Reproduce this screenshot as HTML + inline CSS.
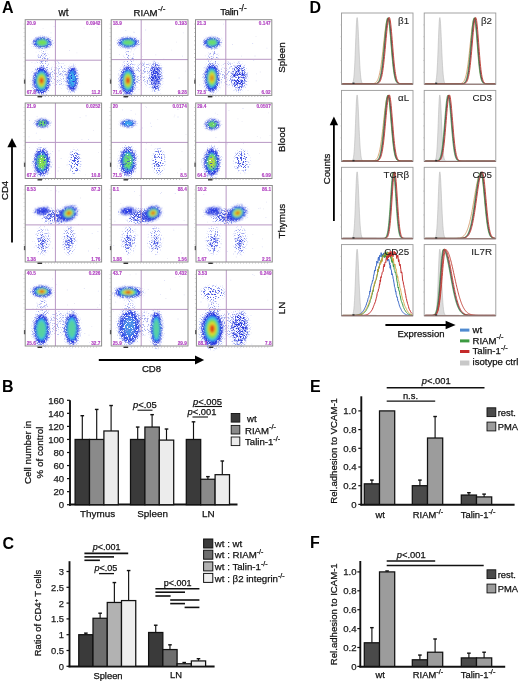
<!DOCTYPE html>
<html><head><meta charset="utf-8"><title>Figure</title>
<style>html,body{margin:0;padding:0;background:#fff;overflow:hidden}svg{display:block;filter:blur(0.3px)}text{font-family:"Liberation Sans",sans-serif}</style>
</head><body>
<svg width="520" height="681" viewBox="0 0 520 681" font-family="Liberation Sans, sans-serif">
<defs><filter id="bl" x="-50%" y="-50%" width="200%" height="200%"><feGaussianBlur stdDeviation="0.9"/></filter><filter id="bl2" x="-50%" y="-50%" width="200%" height="200%"><feGaussianBlur stdDeviation="0.5"/></filter><filter id="spkD" x="-30%" y="-30%" width="160%" height="160%" color-interpolation-filters="sRGB"><feGaussianBlur in="SourceGraphic" stdDeviation="1.1" result="b"/><feTurbulence type="fractalNoise" baseFrequency="1.3" numOctaves="1" seed="4" result="n"/><feColorMatrix in="n" type="matrix" values="0 0 0 0 0  0 0 0 0 0  0 0 0 0 0  7 0 0 0 -2.6" result="m"/><feComposite in="b" in2="m" operator="in"/></filter><filter id="spkM" x="-30%" y="-30%" width="160%" height="160%" color-interpolation-filters="sRGB"><feGaussianBlur in="SourceGraphic" stdDeviation="1.1" result="b"/><feTurbulence type="fractalNoise" baseFrequency="1.3" numOctaves="1" seed="7" result="n"/><feColorMatrix in="n" type="matrix" values="0 0 0 0 0  0 0 0 0 0  0 0 0 0 0  7 0 0 0 -3.2" result="m"/><feComposite in="b" in2="m" operator="in"/></filter><filter id="spkS" x="-30%" y="-30%" width="160%" height="160%" color-interpolation-filters="sRGB"><feGaussianBlur in="SourceGraphic" stdDeviation="1.1" result="b"/><feTurbulence type="fractalNoise" baseFrequency="1.3" numOctaves="1" seed="11" result="n"/><feColorMatrix in="n" type="matrix" values="0 0 0 0 0  0 0 0 0 0  0 0 0 0 0  7 0 0 0 -3.7" result="m"/><feComposite in="b" in2="m" operator="in"/></filter><filter id="spkI" x="-30%" y="-30%" width="160%" height="160%" color-interpolation-filters="sRGB"><feGaussianBlur in="SourceGraphic" stdDeviation="1.1" result="b"/><feTurbulence type="fractalNoise" baseFrequency="1.3" numOctaves="1" seed="21" result="n"/><feColorMatrix in="n" type="matrix" values="0 0 0 0 0  0 0 0 0 0  0 0 0 0 0  7 0 0 0 -2.2" result="m"/><feComposite in="b" in2="m" operator="in"/></filter></defs>
<rect x="0" y="0" width="520" height="681" fill="#fff" stroke="none" stroke-width="1" />
<text x="2" y="13.3" font-size="16" text-anchor="start" font-weight="bold" fill="#000" stroke="#000" stroke-width="0" >A</text>
<text x="309.5" y="13.3" font-size="16" text-anchor="start" font-weight="bold" fill="#000" stroke="#000" stroke-width="0" >D</text>
<text x="2" y="392" font-size="16" text-anchor="start" font-weight="bold" fill="#000" stroke="#000" stroke-width="0" >B</text>
<text x="2.5" y="548.7" font-size="16" text-anchor="start" font-weight="bold" fill="#000" stroke="#000" stroke-width="0" >C</text>
<text x="310" y="391.6" font-size="16" text-anchor="start" font-weight="bold" fill="#000" stroke="#000" stroke-width="0" >E</text>
<text x="310" y="547.7" font-size="16" text-anchor="start" font-weight="bold" fill="#000" stroke="#000" stroke-width="0" >F</text>
<text x="63.6" y="15.8" font-size="10" text-anchor="middle" font-weight="normal" fill="#111" stroke="#111" stroke-width="0.25" >wt</text>
<text x="133.6" y="15.5" font-size="9.6" text-anchor="start" font-weight="normal" fill="#111" stroke="#111" stroke-width="0.25" >RIAM<tspan font-size="8" dx="0.3" dy="-4.6">-/-</tspan></text>
<text x="220.3" y="15.4" font-size="9.6" text-anchor="start" font-weight="normal" fill="#111" stroke="#111" stroke-width="0.25" letter-spacing="-0.35">Talin<tspan font-size="8.2" dx="0.6" dy="-4.6" letter-spacing="0">-/-</tspan></text>
<text x="284.6" y="57.550000000000004" font-size="9.8" text-anchor="middle" fill="#111" stroke="#111" stroke-width="0.25" transform="rotate(-90 284.6 57.550000000000004)" >Spleen</text>
<text x="284.6" y="139.45" font-size="9.8" text-anchor="middle" fill="#111" stroke="#111" stroke-width="0.25" transform="rotate(-90 284.6 139.45)" >Blood</text>
<text x="284.6" y="221.15" font-size="9.8" text-anchor="middle" fill="#111" stroke="#111" stroke-width="0.25" transform="rotate(-90 284.6 221.15)" >Thymus</text>
<text x="284.6" y="308.0" font-size="9.8" text-anchor="middle" fill="#111" stroke="#111" stroke-width="0.25" transform="rotate(-90 284.6 308.0)" >LN</text>
<rect x="25.2" y="19.7" width="76.39999999999999" height="75.7" fill="#fff" stroke="none" stroke-width="1" />
<path d="M50.6 32.5h.8v.8h-.8zM53.7 25.9h.8v.8h-.8zM57.5 60.5h.8v.8h-.8zM48.9 78.7h.8v.8h-.8zM65.2 84.4h.8v.8h-.8zM96.9 27.3h.8v.8h-.8z" fill="#b0b8f0" opacity="0.6"/>
<path d="M30.7 80.6h.8v.8h-.8zM31.5 62.2h.8v.8h-.8zM72.9 63.5h.8v.8h-.8zM69.0 50.1h.8v.8h-.8zM49.5 80.2h.8v.8h-.8zM34.7 62.7h.8v.8h-.8zM54.2 61.0h.8v.8h-.8zM59.7 65.4h.8v.8h-.8zM38.2 56.8h.8v.8h-.8z" fill="#c0c4ec" opacity="0.6"/>
<path d="M42.7 27.9h.8v.8h-.8zM32.3 28.2h.8v.8h-.8zM30.6 83.3h.8v.8h-.8zM68.1 66.1h.8v.8h-.8zM76.5 52.4h.8v.8h-.8zM60.9 87.9h.8v.8h-.8zM83.7 27.6h.8v.8h-.8zM35.7 51.7h.8v.8h-.8zM68.7 84.5h.8v.8h-.8zM51.8 46.8h.8v.8h-.8z" fill="#d0d0e8" opacity="0.6"/>
<ellipse cx="43.2" cy="61.0" rx="5.50" ry="11.00" fill="#8a94ec" opacity="1" filter="url(#spkS)"/>
<ellipse cx="58.4" cy="74.0" rx="9.00" ry="12.00" fill="#a8b0f0" opacity="1" filter="url(#spkS)"/>
<ellipse cx="42.2" cy="42.6" rx="11.48" ry="6.25" fill="#8090ee" opacity="1" filter="url(#spkS)"/>
<ellipse cx="42.2" cy="42.6" rx="9.01" ry="5.20" fill="#2430dc" opacity="1" filter="url(#spkD)"/>
<g filter="url(#bl)"><ellipse cx="42.2" cy="42.6" rx="7.31" ry="4.30" fill="#2c3ee4" opacity="1.00"/><ellipse cx="42.2" cy="42.6" rx="6.29" ry="3.70" fill="#3cc4ee" opacity="1.00"/><ellipse cx="42.2" cy="42.6" rx="5.10" ry="3.00" fill="#72de54" opacity="1.00"/></g>
<ellipse cx="41.5" cy="80.6" rx="10.26" ry="16.00" fill="#8090ee" opacity="1" filter="url(#spkS)"/>
<ellipse cx="41.5" cy="80.6" rx="8.06" ry="13.31" fill="#2430dc" opacity="1" filter="url(#spkD)"/>
<g filter="url(#bl)"><ellipse cx="41.5" cy="80.6" rx="6.54" ry="11.01" fill="#2c3ee4" opacity="1.00"/><ellipse cx="41.5" cy="80.6" rx="5.62" ry="9.47" fill="#3cc4ee" opacity="1.00"/><ellipse cx="41.5" cy="80.6" rx="4.56" ry="7.68" fill="#72de54" opacity="1.00"/><ellipse cx="41.5" cy="80.6" rx="3.19" ry="5.38" fill="#e0dc30" opacity="1.00"/><ellipse cx="41.5" cy="80.6" rx="2.00" ry="3.07" fill="#e04418" opacity="1.00"/></g>
<ellipse cx="72.3" cy="79" rx="6.48" ry="14.38" fill="#8090ee" opacity="1" filter="url(#spkS)"/>
<ellipse cx="72.3" cy="79" rx="5.09" ry="11.96" fill="#2430dc" opacity="1" filter="url(#spkD)"/>
<g filter="url(#spkI)"><ellipse cx="72.3" cy="79" rx="4.13" ry="9.89" fill="#2c3ee4" opacity="1.00"/><ellipse cx="72.3" cy="79" rx="3.55" ry="8.51" fill="#3cc4ee" opacity="0.83"/></g>
<line x1="55.4" y1="19.7" x2="55.4" y2="95.4" stroke="#b898c4" stroke-width="1" />
<line x1="25.2" y1="60.2" x2="101.6" y2="60.2" stroke="#b898c4" stroke-width="1" />
<rect x="25.2" y="19.7" width="76.4" height="75.7" fill="none" stroke="#8c8c8c" stroke-width="1"/>
<text x="26.7" y="24.9" font-size="4.7" font-weight="bold" fill="#b040c0" stroke="#b040c0" stroke-width="0.12">20.9</text>
<text x="100.39999999999999" y="24.9" text-anchor="end" font-size="4.7" font-weight="bold" fill="#b040c0" stroke="#b040c0" stroke-width="0.12">0.0942</text>
<text x="26.7" y="94.0" font-size="4.7" font-weight="bold" fill="#b040c0" stroke="#b040c0" stroke-width="0.12">67.8</text>
<text x="100.39999999999999" y="94.0" text-anchor="end" font-size="4.7" font-weight="bold" fill="#b040c0" stroke="#b040c0" stroke-width="0.12">11.2</text>
<line x1="39.2" y1="96.4" x2="97.6" y2="96.4" stroke="#aaa" stroke-width="1.2" stroke-dasharray="0.7 2.3"/>
<line x1="24.2" y1="23.7" x2="24.2" y2="81.4" stroke="#bbb" stroke-width="1.0" stroke-dasharray="0.7 3.5"/>
<rect x="23.9" y="79.503" width="1.3" height="4.2" fill="#555" stroke="none" stroke-width="1" />
<rect x="37.5" y="96.0" width="4.5" height="1.4" fill="#333" stroke="none" stroke-width="1" />
<rect x="111.2" y="19.7" width="76.8" height="75.7" fill="#fff" stroke="none" stroke-width="1" />
<path d="M155.4 54.4h.8v.8h-.8zM125.4 30.1h.8v.8h-.8zM182.9 32.5h.8v.8h-.8zM124.2 68.9h.8v.8h-.8zM140.1 62.3h.8v.8h-.8zM117.7 26.5h.8v.8h-.8z" fill="#c0c4ec" opacity="0.6"/>
<path d="M182.0 55.7h.8v.8h-.8zM133.9 49.4h.8v.8h-.8zM129.1 42.3h.8v.8h-.8zM119.1 53.9h.8v.8h-.8zM133.7 32.1h.8v.8h-.8zM163.5 58.7h.8v.8h-.8zM178.7 77.6h.8v.8h-.8zM145.3 29.6h.8v.8h-.8z" fill="#b0b8f0" opacity="0.6"/>
<path d="M117.9 74.1h.8v.8h-.8zM160.3 92.9h.8v.8h-.8zM138.5 89.1h.8v.8h-.8zM131.2 49.7h.8v.8h-.8zM133.4 31.5h.8v.8h-.8zM176.1 41.7h.8v.8h-.8zM185.0 70.7h.8v.8h-.8zM148.5 63.9h.8v.8h-.8zM160.9 74.7h.8v.8h-.8zM171.3 49.8h.8v.8h-.8zM141.9 56.2h.8v.8h-.8z" fill="#d0d0e8" opacity="0.6"/>
<ellipse cx="129.2" cy="61.0" rx="5.50" ry="11.00" fill="#8a94ec" opacity="1" filter="url(#spkS)"/>
<ellipse cx="144.2" cy="74.0" rx="9.00" ry="12.00" fill="#a8b0f0" opacity="1" filter="url(#spkS)"/>
<ellipse cx="128.2" cy="42.6" rx="12.56" ry="5.75" fill="#8090ee" opacity="1" filter="url(#spkS)"/>
<ellipse cx="128.2" cy="42.6" rx="9.86" ry="4.78" fill="#2430dc" opacity="1" filter="url(#spkD)"/>
<g filter="url(#bl)"><ellipse cx="128.2" cy="42.6" rx="8.00" ry="3.96" fill="#2c3ee4" opacity="1.00"/><ellipse cx="128.2" cy="42.6" rx="6.88" ry="3.40" fill="#3cc4ee" opacity="1.00"/><ellipse cx="128.2" cy="42.6" rx="5.58" ry="2.76" fill="#72de54" opacity="0.83"/></g>
<ellipse cx="127.9" cy="80.5" rx="9.45" ry="16.88" fill="#8090ee" opacity="1" filter="url(#spkS)"/>
<ellipse cx="127.9" cy="80.5" rx="7.42" ry="14.04" fill="#2430dc" opacity="1" filter="url(#spkD)"/>
<g filter="url(#bl)"><ellipse cx="127.9" cy="80.5" rx="6.02" ry="11.61" fill="#2c3ee4" opacity="1.00"/><ellipse cx="127.9" cy="80.5" rx="5.18" ry="9.99" fill="#3cc4ee" opacity="1.00"/><ellipse cx="127.9" cy="80.5" rx="4.20" ry="8.10" fill="#72de54" opacity="1.00"/><ellipse cx="127.9" cy="80.5" rx="2.94" ry="5.67" fill="#e0dc30" opacity="1.00"/><ellipse cx="127.9" cy="80.5" rx="2.00" ry="3.24" fill="#e04418" opacity="1.00"/></g>
<ellipse cx="155.6" cy="76.8" rx="7.16" ry="15.62" fill="#8090ee" opacity="1" filter="url(#spkS)"/>
<ellipse cx="155.6" cy="76.8" rx="5.62" ry="13.00" fill="#2838dc" opacity="1" filter="url(#spkM)"/>
<g filter="url(#spkI)"><ellipse cx="155.6" cy="76.8" rx="4.56" ry="10.75" fill="#2c3ee4" opacity="0.50"/></g>
<line x1="141.2" y1="19.7" x2="141.2" y2="95.4" stroke="#b898c4" stroke-width="1" />
<line x1="111.2" y1="59.6" x2="188.0" y2="59.6" stroke="#b898c4" stroke-width="1" />
<rect x="111.2" y="19.7" width="76.8" height="75.7" fill="none" stroke="#8c8c8c" stroke-width="1"/>
<text x="112.7" y="24.9" font-size="4.7" font-weight="bold" fill="#b040c0" stroke="#b040c0" stroke-width="0.12">18.9</text>
<text x="186.8" y="24.9" text-anchor="end" font-size="4.7" font-weight="bold" fill="#b040c0" stroke="#b040c0" stroke-width="0.12">0.193</text>
<text x="112.7" y="94.0" font-size="4.7" font-weight="bold" fill="#b040c0" stroke="#b040c0" stroke-width="0.12">71.6</text>
<text x="186.8" y="94.0" text-anchor="end" font-size="4.7" font-weight="bold" fill="#b040c0" stroke="#b040c0" stroke-width="0.12">9.28</text>
<line x1="125.2" y1="96.4" x2="184.0" y2="96.4" stroke="#aaa" stroke-width="1.2" stroke-dasharray="0.7 2.3"/>
<line x1="110.2" y1="23.7" x2="110.2" y2="81.4" stroke="#bbb" stroke-width="1.0" stroke-dasharray="0.7 3.5"/>
<rect x="109.9" y="79.503" width="1.3" height="4.2" fill="#555" stroke="none" stroke-width="1" />
<rect x="123.5" y="96.0" width="4.5" height="1.4" fill="#333" stroke="none" stroke-width="1" />
<rect x="195.5" y="19.7" width="76.30000000000001" height="75.7" fill="#fff" stroke="none" stroke-width="1" />
<path d="M201.3 21.7h.8v.8h-.8zM241.0 55.7h.8v.8h-.8zM232.2 44.1h.8v.8h-.8zM223.7 71.2h.8v.8h-.8zM221.3 37.7h.8v.8h-.8zM223.2 23.8h.8v.8h-.8zM254.6 55.6h.8v.8h-.8zM266.5 47.8h.8v.8h-.8z" fill="#c0c4ec" opacity="0.6"/>
<path d="M236.3 89.7h.8v.8h-.8zM199.3 84.4h.8v.8h-.8zM232.1 71.3h.8v.8h-.8zM199.2 89.9h.8v.8h-.8zM252.3 43.1h.8v.8h-.8zM253.3 59.9h.8v.8h-.8zM255.8 80.4h.8v.8h-.8zM212.3 66.4h.8v.8h-.8z" fill="#b0b8f0" opacity="0.6"/>
<path d="M224.7 67.2h.8v.8h-.8zM258.9 92.9h.8v.8h-.8zM204.9 46.3h.8v.8h-.8zM259.9 71.6h.8v.8h-.8zM235.0 86.8h.8v.8h-.8zM255.6 36.0h.8v.8h-.8zM247.6 90.3h.8v.8h-.8zM256.0 73.5h.8v.8h-.8zM204.9 55.4h.8v.8h-.8z" fill="#d0d0e8" opacity="0.6"/>
<ellipse cx="213.2" cy="61.0" rx="5.50" ry="11.00" fill="#8a94ec" opacity="1" filter="url(#spkS)"/>
<ellipse cx="228.8" cy="74.0" rx="9.00" ry="12.00" fill="#a8b0f0" opacity="1" filter="url(#spkS)"/>
<ellipse cx="212.2" cy="42.6" rx="10.26" ry="6.25" fill="#8090ee" opacity="1" filter="url(#spkS)"/>
<ellipse cx="212.2" cy="42.6" rx="8.06" ry="5.20" fill="#2430dc" opacity="1" filter="url(#spkD)"/>
<g filter="url(#bl)"><ellipse cx="212.2" cy="42.6" rx="6.54" ry="4.30" fill="#2c3ee4" opacity="1.00"/><ellipse cx="212.2" cy="42.6" rx="5.62" ry="3.70" fill="#3cc4ee" opacity="1.00"/><ellipse cx="212.2" cy="42.6" rx="4.56" ry="3.00" fill="#72de54" opacity="0.83"/></g>
<ellipse cx="211.9" cy="78" rx="9.18" ry="16.25" fill="#8090ee" opacity="1" filter="url(#spkS)"/>
<ellipse cx="211.9" cy="78" rx="7.21" ry="13.52" fill="#2430dc" opacity="1" filter="url(#spkD)"/>
<g filter="url(#bl)"><ellipse cx="211.9" cy="78" rx="5.85" ry="11.18" fill="#2c3ee4" opacity="1.00"/><ellipse cx="211.9" cy="78" rx="5.03" ry="9.62" fill="#3cc4ee" opacity="1.00"/><ellipse cx="211.9" cy="78" rx="4.08" ry="7.80" fill="#72de54" opacity="1.00"/><ellipse cx="211.9" cy="78" rx="2.86" ry="5.46" fill="#e0dc30" opacity="1.00"/><ellipse cx="211.9" cy="78" rx="2.00" ry="3.12" fill="#e04418" opacity="0.50"/></g>
<ellipse cx="238.8" cy="77.2" rx="8.78" ry="15.00" fill="#8090ee" opacity="1" filter="url(#spkS)"/>
<ellipse cx="238.8" cy="77.2" rx="6.89" ry="12.48" fill="#2838dc" opacity="1" filter="url(#spkM)"/>
<line x1="225.8" y1="19.7" x2="225.8" y2="95.4" stroke="#b898c4" stroke-width="1" />
<line x1="195.5" y1="59.3" x2="271.8" y2="59.3" stroke="#b898c4" stroke-width="1" />
<rect x="195.5" y="19.7" width="76.3" height="75.7" fill="none" stroke="#8c8c8c" stroke-width="1"/>
<text x="197.0" y="24.9" font-size="4.7" font-weight="bold" fill="#b040c0" stroke="#b040c0" stroke-width="0.12">21.3</text>
<text x="270.6" y="24.9" text-anchor="end" font-size="4.7" font-weight="bold" fill="#b040c0" stroke="#b040c0" stroke-width="0.12">0.147</text>
<text x="197.0" y="94.0" font-size="4.7" font-weight="bold" fill="#b040c0" stroke="#b040c0" stroke-width="0.12">72.5</text>
<text x="270.6" y="94.0" text-anchor="end" font-size="4.7" font-weight="bold" fill="#b040c0" stroke="#b040c0" stroke-width="0.12">6.02</text>
<line x1="209.5" y1="96.4" x2="267.8" y2="96.4" stroke="#aaa" stroke-width="1.2" stroke-dasharray="0.7 2.3"/>
<line x1="194.5" y1="23.7" x2="194.5" y2="81.4" stroke="#bbb" stroke-width="1.0" stroke-dasharray="0.7 3.5"/>
<rect x="194.2" y="79.503" width="1.3" height="4.2" fill="#555" stroke="none" stroke-width="1" />
<rect x="207.8" y="96.0" width="4.5" height="1.4" fill="#333" stroke="none" stroke-width="1" />
<rect x="25.2" y="103.0" width="76.39999999999999" height="75.5" fill="#fff" stroke="none" stroke-width="1" />
<path d="M88.0 139.3h.8v.8h-.8zM52.1 151.0h.8v.8h-.8zM35.9 132.8h.8v.8h-.8zM85.6 115.5h.8v.8h-.8zM28.2 174.4h.8v.8h-.8zM29.2 120.2h.8v.8h-.8zM75.2 163.3h.8v.8h-.8zM57.7 170.6h.8v.8h-.8zM36.7 115.9h.8v.8h-.8zM39.7 138.9h.8v.8h-.8z" fill="#b0b8f0" opacity="0.6"/>
<path d="M81.5 139.2h.8v.8h-.8zM58.6 150.5h.8v.8h-.8zM60.7 158.1h.8v.8h-.8zM79.7 117.2h.8v.8h-.8zM38.5 144.2h.8v.8h-.8zM34.6 158.6h.8v.8h-.8zM58.6 167.3h.8v.8h-.8zM66.6 164.6h.8v.8h-.8zM28.6 136.5h.8v.8h-.8zM71.3 160.5h.8v.8h-.8z" fill="#c0c4ec" opacity="0.6"/>
<path d="M85.2 174.5h.8v.8h-.8zM29.2 147.2h.8v.8h-.8zM98.2 152.0h.8v.8h-.8zM44.6 146.9h.8v.8h-.8zM93.1 130.3h.8v.8h-.8z" fill="#d0d0e8" opacity="0.6"/>
<ellipse cx="42.4" cy="123.3" rx="8.51" ry="4.75" fill="#8090ee" opacity="1" filter="url(#spkS)"/>
<ellipse cx="42.4" cy="123.3" rx="6.68" ry="3.95" fill="#2430dc" opacity="1" filter="url(#spkD)"/>
<g filter="url(#spkI)"><ellipse cx="42.4" cy="123.3" rx="5.42" ry="3.27" fill="#2c3ee4" opacity="1.00"/><ellipse cx="42.4" cy="123.3" rx="4.66" ry="2.81" fill="#3cc4ee" opacity="1.00"/><ellipse cx="42.4" cy="123.3" rx="3.78" ry="2.28" fill="#72de54" opacity="1.00"/></g>
<ellipse cx="41.9" cy="162" rx="9.72" ry="15.62" fill="#8090ee" opacity="1" filter="url(#spkS)"/>
<ellipse cx="41.9" cy="162" rx="7.63" ry="13.00" fill="#2430dc" opacity="1" filter="url(#spkD)"/>
<g filter="url(#spkI)"><ellipse cx="41.9" cy="162" rx="6.19" ry="10.75" fill="#2c3ee4" opacity="1.00"/><ellipse cx="41.9" cy="162" rx="5.33" ry="9.25" fill="#3cc4ee" opacity="1.00"/><ellipse cx="41.9" cy="162" rx="4.32" ry="7.50" fill="#72de54" opacity="1.00"/><ellipse cx="41.9" cy="162" rx="3.02" ry="5.25" fill="#e0dc30" opacity="0.17"/></g>
<ellipse cx="74.9" cy="162" rx="5.67" ry="13.25" fill="#8090ee" opacity="1" filter="url(#spkS)"/>
<ellipse cx="74.9" cy="162" rx="4.45" ry="11.02" fill="#4858e2" opacity="1" filter="url(#spkS)"/>
<ellipse cx="74.9" cy="162" rx="3.36" ry="8.48" fill="#4050e0" opacity="1" filter="url(#spkS)"/>
<line x1="55.4" y1="103.0" x2="55.4" y2="178.5" stroke="#b898c4" stroke-width="1" />
<line x1="25.2" y1="142.4" x2="101.6" y2="142.4" stroke="#b898c4" stroke-width="1" />
<rect x="25.2" y="103.0" width="76.4" height="75.5" fill="none" stroke="#8c8c8c" stroke-width="1"/>
<text x="26.7" y="108.2" font-size="4.7" font-weight="bold" fill="#b040c0" stroke="#b040c0" stroke-width="0.12">21.9</text>
<text x="100.39999999999999" y="108.2" text-anchor="end" font-size="4.7" font-weight="bold" fill="#b040c0" stroke="#b040c0" stroke-width="0.12">0.0252</text>
<text x="26.7" y="177.1" font-size="4.7" font-weight="bold" fill="#b040c0" stroke="#b040c0" stroke-width="0.12">67.2</text>
<text x="100.39999999999999" y="177.1" text-anchor="end" font-size="4.7" font-weight="bold" fill="#b040c0" stroke="#b040c0" stroke-width="0.12">10.8</text>
<line x1="39.2" y1="179.5" x2="97.6" y2="179.5" stroke="#aaa" stroke-width="1.2" stroke-dasharray="0.7 2.3"/>
<line x1="24.2" y1="107.0" x2="24.2" y2="164.5" stroke="#bbb" stroke-width="1.0" stroke-dasharray="0.7 3.5"/>
<rect x="23.9" y="162.645" width="1.3" height="4.2" fill="#555" stroke="none" stroke-width="1" />
<rect x="37.5" y="179.1" width="4.5" height="1.4" fill="#333" stroke="none" stroke-width="1" />
<rect x="111.2" y="103.0" width="76.8" height="75.5" fill="#fff" stroke="none" stroke-width="1" />
<path d="M122.0 109.4h.8v.8h-.8zM133.4 160.2h.8v.8h-.8zM145.5 148.8h.8v.8h-.8zM150.2 122.7h.8v.8h-.8zM141.8 127.6h.8v.8h-.8zM130.7 110.2h.8v.8h-.8zM177.6 116.6h.8v.8h-.8zM127.5 127.8h.8v.8h-.8z" fill="#b0b8f0" opacity="0.6"/>
<path d="M150.9 144.7h.8v.8h-.8zM177.5 109.1h.8v.8h-.8zM146.1 107.0h.8v.8h-.8zM180.4 168.8h.8v.8h-.8zM174.4 114.8h.8v.8h-.8zM135.2 113.7h.8v.8h-.8zM150.9 126.1h.8v.8h-.8z" fill="#c0c4ec" opacity="0.6"/>
<path d="M157.3 119.3h.8v.8h-.8zM146.1 143.1h.8v.8h-.8zM177.0 172.4h.8v.8h-.8zM181.6 151.0h.8v.8h-.8zM123.6 168.1h.8v.8h-.8zM129.2 173.1h.8v.8h-.8zM173.8 116.5h.8v.8h-.8zM185.6 133.9h.8v.8h-.8zM139.8 129.2h.8v.8h-.8zM145.3 106.3h.8v.8h-.8z" fill="#d0d0e8" opacity="0.6"/>
<ellipse cx="128.2" cy="123.3" rx="8.91" ry="4.00" fill="#8090ee" opacity="1" filter="url(#spkS)"/>
<ellipse cx="128.2" cy="123.3" rx="7.00" ry="3.33" fill="#2430dc" opacity="1" filter="url(#spkD)"/>
<g filter="url(#spkI)"><ellipse cx="128.2" cy="123.3" rx="5.68" ry="2.75" fill="#2c3ee4" opacity="1.00"/><ellipse cx="128.2" cy="123.3" rx="4.88" ry="2.37" fill="#3cc4ee" opacity="0.83"/></g>
<ellipse cx="127.9" cy="161.3" rx="9.72" ry="16.25" fill="#8090ee" opacity="1" filter="url(#spkS)"/>
<ellipse cx="127.9" cy="161.3" rx="7.63" ry="13.52" fill="#2430dc" opacity="1" filter="url(#spkD)"/>
<g filter="url(#spkI)"><ellipse cx="127.9" cy="161.3" rx="6.19" ry="11.18" fill="#2c3ee4" opacity="1.00"/><ellipse cx="127.9" cy="161.3" rx="5.33" ry="9.62" fill="#3cc4ee" opacity="1.00"/><ellipse cx="127.9" cy="161.3" rx="4.32" ry="7.80" fill="#72de54" opacity="0.83"/></g>
<ellipse cx="158.6" cy="161.3" rx="6.08" ry="13.25" fill="#8090ee" opacity="1" filter="url(#spkS)"/>
<ellipse cx="158.6" cy="161.3" rx="4.77" ry="11.02" fill="#4858e2" opacity="1" filter="url(#spkS)"/>
<ellipse cx="158.6" cy="161.3" rx="3.60" ry="8.48" fill="#4050e0" opacity="1" filter="url(#spkS)"/>
<line x1="141.2" y1="103.0" x2="141.2" y2="178.5" stroke="#b898c4" stroke-width="1" />
<line x1="111.2" y1="142.4" x2="188.0" y2="142.4" stroke="#b898c4" stroke-width="1" />
<rect x="111.2" y="103.0" width="76.8" height="75.5" fill="none" stroke="#8c8c8c" stroke-width="1"/>
<text x="112.7" y="108.2" font-size="4.7" font-weight="bold" fill="#b040c0" stroke="#b040c0" stroke-width="0.12">20</text>
<text x="186.8" y="108.2" text-anchor="end" font-size="4.7" font-weight="bold" fill="#b040c0" stroke="#b040c0" stroke-width="0.12">0.0174</text>
<text x="112.7" y="177.1" font-size="4.7" font-weight="bold" fill="#b040c0" stroke="#b040c0" stroke-width="0.12">71.5</text>
<text x="186.8" y="177.1" text-anchor="end" font-size="4.7" font-weight="bold" fill="#b040c0" stroke="#b040c0" stroke-width="0.12">8.5</text>
<line x1="125.2" y1="179.5" x2="184.0" y2="179.5" stroke="#aaa" stroke-width="1.2" stroke-dasharray="0.7 2.3"/>
<line x1="110.2" y1="107.0" x2="110.2" y2="164.5" stroke="#bbb" stroke-width="1.0" stroke-dasharray="0.7 3.5"/>
<rect x="109.9" y="162.645" width="1.3" height="4.2" fill="#555" stroke="none" stroke-width="1" />
<rect x="123.5" y="179.1" width="4.5" height="1.4" fill="#333" stroke="none" stroke-width="1" />
<rect x="195.7" y="103.0" width="76.30000000000001" height="75.5" fill="#fff" stroke="none" stroke-width="1" />
<path d="M205.9 170.7h.8v.8h-.8zM217.4 169.8h.8v.8h-.8zM239.0 155.1h.8v.8h-.8zM217.9 162.2h.8v.8h-.8zM228.5 110.2h.8v.8h-.8zM243.6 162.3h.8v.8h-.8zM214.9 112.8h.8v.8h-.8zM243.2 143.0h.8v.8h-.8zM218.7 140.8h.8v.8h-.8zM220.0 120.4h.8v.8h-.8z" fill="#c0c4ec" opacity="0.6"/>
<path d="M268.0 112.5h.8v.8h-.8zM217.3 114.3h.8v.8h-.8zM259.1 153.3h.8v.8h-.8zM241.7 120.9h.8v.8h-.8zM260.1 137.4h.8v.8h-.8zM269.6 134.9h.8v.8h-.8zM216.6 118.0h.8v.8h-.8zM217.3 162.5h.8v.8h-.8zM237.5 118.5h.8v.8h-.8zM256.9 135.9h.8v.8h-.8z" fill="#d0d0e8" opacity="0.6"/>
<path d="M227.1 143.4h.8v.8h-.8zM242.6 108.1h.8v.8h-.8zM200.4 106.3h.8v.8h-.8zM215.5 137.0h.8v.8h-.8zM237.2 168.5h.8v.8h-.8z" fill="#b0b8f0" opacity="0.6"/>
<ellipse cx="212.4" cy="124.6" rx="8.64" ry="6.00" fill="#8090ee" opacity="1" filter="url(#spkS)"/>
<ellipse cx="212.4" cy="124.6" rx="6.78" ry="4.99" fill="#2430dc" opacity="1" filter="url(#spkD)"/>
<g filter="url(#spkI)"><ellipse cx="212.4" cy="124.6" rx="5.50" ry="4.13" fill="#2c3ee4" opacity="1.00"/><ellipse cx="212.4" cy="124.6" rx="4.74" ry="3.55" fill="#3cc4ee" opacity="1.00"/><ellipse cx="212.4" cy="124.6" rx="3.84" ry="2.88" fill="#72de54" opacity="1.00"/></g>
<ellipse cx="211.9" cy="162" rx="9.72" ry="16.25" fill="#8090ee" opacity="1" filter="url(#spkS)"/>
<ellipse cx="211.9" cy="162" rx="7.63" ry="13.52" fill="#2430dc" opacity="1" filter="url(#spkD)"/>
<g filter="url(#spkI)"><ellipse cx="211.9" cy="162" rx="6.19" ry="11.18" fill="#2c3ee4" opacity="1.00"/><ellipse cx="211.9" cy="162" rx="5.33" ry="9.62" fill="#3cc4ee" opacity="1.00"/><ellipse cx="211.9" cy="162" rx="4.32" ry="7.80" fill="#72de54" opacity="1.00"/><ellipse cx="211.9" cy="162" rx="3.02" ry="5.46" fill="#e0dc30" opacity="0.67"/></g>
<ellipse cx="241.9" cy="161.3" rx="7.70" ry="11.88" fill="#8090ee" opacity="1" filter="url(#spkS)"/>
<ellipse cx="241.9" cy="161.3" rx="6.04" ry="9.88" fill="#4858e2" opacity="1" filter="url(#spkS)"/>
<ellipse cx="241.9" cy="161.3" rx="4.56" ry="7.60" fill="#4050e0" opacity="1" filter="url(#spkS)"/>
<line x1="225.96666666666667" y1="103.0" x2="225.96666666666667" y2="178.5" stroke="#b898c4" stroke-width="1" />
<line x1="195.7" y1="142.4" x2="272.0" y2="142.4" stroke="#b898c4" stroke-width="1" />
<rect x="195.7" y="103.0" width="76.3" height="75.5" fill="none" stroke="#8c8c8c" stroke-width="1"/>
<text x="197.2" y="108.2" font-size="4.7" font-weight="bold" fill="#b040c0" stroke="#b040c0" stroke-width="0.12">29.4</text>
<text x="270.8" y="108.2" text-anchor="end" font-size="4.7" font-weight="bold" fill="#b040c0" stroke="#b040c0" stroke-width="0.12">0.0507</text>
<text x="197.2" y="177.1" font-size="4.7" font-weight="bold" fill="#b040c0" stroke="#b040c0" stroke-width="0.12">64.5</text>
<text x="270.8" y="177.1" text-anchor="end" font-size="4.7" font-weight="bold" fill="#b040c0" stroke="#b040c0" stroke-width="0.12">6.09</text>
<line x1="209.7" y1="179.5" x2="268.0" y2="179.5" stroke="#aaa" stroke-width="1.2" stroke-dasharray="0.7 2.3"/>
<line x1="194.7" y1="107.0" x2="194.7" y2="164.5" stroke="#bbb" stroke-width="1.0" stroke-dasharray="0.7 3.5"/>
<rect x="194.39999999999998" y="162.645" width="1.3" height="4.2" fill="#555" stroke="none" stroke-width="1" />
<rect x="208.0" y="179.1" width="4.5" height="1.4" fill="#333" stroke="none" stroke-width="1" />
<rect x="25.2" y="185.5" width="76.39999999999999" height="76.5" fill="#fff" stroke="none" stroke-width="1" />
<path d="M52.0 247.8h.8v.8h-.8zM58.4 191.5h.8v.8h-.8zM88.1 250.6h.8v.8h-.8zM97.5 230.9h.8v.8h-.8zM96.8 258.0h.8v.8h-.8zM54.8 221.9h.8v.8h-.8zM74.8 239.4h.8v.8h-.8zM38.0 240.0h.8v.8h-.8zM37.7 247.3h.8v.8h-.8zM91.8 233.0h.8v.8h-.8zM78.0 224.2h.8v.8h-.8z" fill="#b0b8f0" opacity="0.6"/>
<path d="M80.0 197.6h.8v.8h-.8zM32.3 241.2h.8v.8h-.8zM46.7 187.8h.8v.8h-.8zM50.6 190.0h.8v.8h-.8zM43.0 200.8h.8v.8h-.8zM55.4 211.1h.8v.8h-.8z" fill="#d0d0e8" opacity="0.6"/>
<path d="M98.3 248.2h.8v.8h-.8zM48.4 220.8h.8v.8h-.8zM74.7 205.5h.8v.8h-.8zM33.8 246.7h.8v.8h-.8zM56.1 190.5h.8v.8h-.8zM48.9 233.2h.8v.8h-.8zM69.6 225.9h.8v.8h-.8zM81.7 228.7h.8v.8h-.8z" fill="#c0c4ec" opacity="0.6"/>
<ellipse cx="55.65" cy="216.5" rx="14.00" ry="8.00" fill="#6878ea" opacity="1" filter="url(#spkS)"/>
<ellipse cx="56.65" cy="216.0" rx="11.00" ry="6.00" fill="#4050e0" opacity="1" filter="url(#spkM)"/>
<ellipse cx="64.8" cy="216.2" rx="7.00" ry="5.00" fill="#2c3ce0" opacity="1" filter="url(#spkD)"/>
<ellipse cx="42.7" cy="240.5" rx="7.00" ry="14.00" fill="#8a94ee" opacity="1" filter="url(#spkS)"/>
<ellipse cx="69.2" cy="240.5" rx="6.50" ry="14.00" fill="#8a94ee" opacity="1" filter="url(#spkS)"/>
<ellipse cx="42.7" cy="242.5" rx="4.50" ry="9.00" fill="#5060e4" opacity="1" filter="url(#spkS)"/>
<ellipse cx="69.2" cy="242.5" rx="4.00" ry="9.00" fill="#5060e4" opacity="1" filter="url(#spkS)"/>
<ellipse cx="42.7" cy="242.5" rx="3.00" ry="6.00" fill="#4858e4" opacity="1" filter="url(#spkM)"/>
<ellipse cx="69.2" cy="242.5" rx="2.80" ry="6.00" fill="#4858e4" opacity="1" filter="url(#spkM)"/>
<ellipse cx="42.5" cy="211" rx="9.72" ry="4.50" fill="#8090ee" opacity="1" filter="url(#spkS)" transform="rotate(-6 42.5 211)"/>
<ellipse cx="42.5" cy="211" rx="7.63" ry="3.74" fill="#2838dc" opacity="1" filter="url(#spkM)" transform="rotate(-6 42.5 211)"/>
<g filter="url(#spkI)" transform="rotate(-6 42.5 211)"><ellipse cx="42.5" cy="211" rx="6.19" ry="3.10" fill="#2c3ee4" opacity="1.00"/></g>
<ellipse cx="68.8" cy="213.2" rx="10.80" ry="8.00" fill="#8090ee" opacity="1" filter="url(#spkS)" transform="rotate(-25 68.8 213.2)"/>
<ellipse cx="68.8" cy="213.2" rx="8.48" ry="6.66" fill="#2430dc" opacity="1" filter="url(#spkD)" transform="rotate(-25 68.8 213.2)"/>
<g filter="url(#bl)" transform="rotate(-25 68.8 213.2)"><ellipse cx="68.8" cy="213.2" rx="6.88" ry="5.50" fill="#2c3ee4" opacity="1.00"/><ellipse cx="68.8" cy="213.2" rx="5.92" ry="4.74" fill="#3cc4ee" opacity="1.00"/><ellipse cx="68.8" cy="213.2" rx="4.80" ry="3.84" fill="#72de54" opacity="1.00"/><ellipse cx="68.8" cy="213.2" rx="3.36" ry="2.69" fill="#e0dc30" opacity="1.00"/><ellipse cx="68.8" cy="213.2" rx="2.00" ry="1.60" fill="#e04418" opacity="1.00"/></g>
<line x1="55.4" y1="185.5" x2="55.4" y2="262.0" stroke="#b898c4" stroke-width="1" />
<line x1="25.2" y1="224.9" x2="101.6" y2="224.9" stroke="#b898c4" stroke-width="1" />
<rect x="25.2" y="185.5" width="76.4" height="76.5" fill="none" stroke="#8c8c8c" stroke-width="1"/>
<text x="26.7" y="190.7" font-size="4.7" font-weight="bold" fill="#b040c0" stroke="#b040c0" stroke-width="0.12">8.53</text>
<text x="100.39999999999999" y="190.7" text-anchor="end" font-size="4.7" font-weight="bold" fill="#b040c0" stroke="#b040c0" stroke-width="0.12">87.3</text>
<text x="26.7" y="260.6" font-size="4.7" font-weight="bold" fill="#b040c0" stroke="#b040c0" stroke-width="0.12">1.38</text>
<text x="100.39999999999999" y="260.6" text-anchor="end" font-size="4.7" font-weight="bold" fill="#b040c0" stroke="#b040c0" stroke-width="0.12">1.76</text>
<line x1="39.2" y1="263.0" x2="97.6" y2="263.0" stroke="#aaa" stroke-width="1.2" stroke-dasharray="0.7 2.3"/>
<line x1="24.2" y1="189.5" x2="24.2" y2="248.0" stroke="#bbb" stroke-width="1.0" stroke-dasharray="0.7 3.5"/>
<rect x="23.9" y="245.935" width="1.3" height="4.2" fill="#555" stroke="none" stroke-width="1" />
<rect x="37.5" y="262.6" width="4.5" height="1.4" fill="#333" stroke="none" stroke-width="1" />
<rect x="111.2" y="185.5" width="76.8" height="76.5" fill="#fff" stroke="none" stroke-width="1" />
<path d="M173.4 229.8h.8v.8h-.8zM119.4 190.5h.8v.8h-.8zM153.9 233.0h.8v.8h-.8zM113.4 245.3h.8v.8h-.8zM161.2 192.3h.8v.8h-.8zM174.8 193.1h.8v.8h-.8zM134.1 190.9h.8v.8h-.8zM137.4 234.7h.8v.8h-.8zM148.3 222.7h.8v.8h-.8zM147.1 243.1h.8v.8h-.8zM114.5 220.8h.8v.8h-.8z" fill="#b0b8f0" opacity="0.6"/>
<path d="M162.9 237.8h.8v.8h-.8zM181.1 252.6h.8v.8h-.8zM130.3 242.3h.8v.8h-.8zM160.0 193.1h.8v.8h-.8zM135.4 228.7h.8v.8h-.8zM141.4 254.0h.8v.8h-.8z" fill="#c0c4ec" opacity="0.6"/>
<path d="M139.5 195.1h.8v.8h-.8zM151.9 205.2h.8v.8h-.8zM147.7 246.2h.8v.8h-.8zM167.1 258.2h.8v.8h-.8zM120.4 203.3h.8v.8h-.8zM134.4 224.9h.8v.8h-.8zM127.7 258.4h.8v.8h-.8zM183.7 220.1h.8v.8h-.8z" fill="#d0d0e8" opacity="0.6"/>
<ellipse cx="140.25" cy="216.5" rx="14.00" ry="8.00" fill="#6878ea" opacity="1" filter="url(#spkS)"/>
<ellipse cx="141.25" cy="216.0" rx="11.00" ry="6.00" fill="#4050e0" opacity="1" filter="url(#spkM)"/>
<ellipse cx="149" cy="216" rx="7.00" ry="5.00" fill="#2c3ce0" opacity="1" filter="url(#spkD)"/>
<ellipse cx="128.7" cy="240.5" rx="7.00" ry="14.00" fill="#8a94ee" opacity="1" filter="url(#spkS)"/>
<ellipse cx="155.2" cy="240.5" rx="6.50" ry="14.00" fill="#8a94ee" opacity="1" filter="url(#spkS)"/>
<ellipse cx="128.7" cy="242.5" rx="4.50" ry="9.00" fill="#5060e4" opacity="1" filter="url(#spkS)"/>
<ellipse cx="155.2" cy="242.5" rx="4.00" ry="9.00" fill="#5060e4" opacity="1" filter="url(#spkS)"/>
<ellipse cx="128.7" cy="242.5" rx="3.00" ry="6.00" fill="#4858e4" opacity="1" filter="url(#spkM)"/>
<ellipse cx="155.2" cy="242.5" rx="2.80" ry="6.00" fill="#4858e4" opacity="1" filter="url(#spkM)"/>
<ellipse cx="127.5" cy="211" rx="9.72" ry="4.38" fill="#8090ee" opacity="1" filter="url(#spkS)" transform="rotate(-6 127.5 211)"/>
<ellipse cx="127.5" cy="211" rx="7.63" ry="3.64" fill="#2838dc" opacity="1" filter="url(#spkM)" transform="rotate(-6 127.5 211)"/>
<g filter="url(#spkI)" transform="rotate(-6 127.5 211)"><ellipse cx="127.5" cy="211" rx="6.19" ry="3.01" fill="#2c3ee4" opacity="1.00"/></g>
<ellipse cx="153" cy="213" rx="10.26" ry="7.75" fill="#8090ee" opacity="1" filter="url(#spkS)" transform="rotate(-25 153 213)"/>
<ellipse cx="153" cy="213" rx="8.06" ry="6.45" fill="#2430dc" opacity="1" filter="url(#spkD)" transform="rotate(-25 153 213)"/>
<g filter="url(#bl)" transform="rotate(-25 153 213)"><ellipse cx="153" cy="213" rx="6.54" ry="5.33" fill="#2c3ee4" opacity="1.00"/><ellipse cx="153" cy="213" rx="5.62" ry="4.59" fill="#3cc4ee" opacity="1.00"/><ellipse cx="153" cy="213" rx="4.56" ry="3.72" fill="#72de54" opacity="1.00"/><ellipse cx="153" cy="213" rx="3.19" ry="2.60" fill="#e0dc30" opacity="1.00"/><ellipse cx="153" cy="213" rx="2.00" ry="1.60" fill="#e04418" opacity="1.00"/></g>
<line x1="141.2" y1="185.5" x2="141.2" y2="262.0" stroke="#b898c4" stroke-width="1" />
<line x1="111.2" y1="224.9" x2="188.0" y2="224.9" stroke="#b898c4" stroke-width="1" />
<rect x="111.2" y="185.5" width="76.8" height="76.5" fill="none" stroke="#8c8c8c" stroke-width="1"/>
<text x="112.7" y="190.7" font-size="4.7" font-weight="bold" fill="#b040c0" stroke="#b040c0" stroke-width="0.12">8.1</text>
<text x="186.8" y="190.7" text-anchor="end" font-size="4.7" font-weight="bold" fill="#b040c0" stroke="#b040c0" stroke-width="0.12">88.4</text>
<text x="112.7" y="260.6" font-size="4.7" font-weight="bold" fill="#b040c0" stroke="#b040c0" stroke-width="0.12">1.88</text>
<text x="186.8" y="260.6" text-anchor="end" font-size="4.7" font-weight="bold" fill="#b040c0" stroke="#b040c0" stroke-width="0.12">1.56</text>
<line x1="125.2" y1="263.0" x2="184.0" y2="263.0" stroke="#aaa" stroke-width="1.2" stroke-dasharray="0.7 2.3"/>
<line x1="110.2" y1="189.5" x2="110.2" y2="248.0" stroke="#bbb" stroke-width="1.0" stroke-dasharray="0.7 3.5"/>
<rect x="109.9" y="245.935" width="1.3" height="4.2" fill="#555" stroke="none" stroke-width="1" />
<rect x="123.5" y="262.6" width="4.5" height="1.4" fill="#333" stroke="none" stroke-width="1" />
<rect x="196.0" y="185.5" width="76.30000000000001" height="76.5" fill="#fff" stroke="none" stroke-width="1" />
<path d="M203.4 194.0h.8v.8h-.8zM247.3 216.9h.8v.8h-.8zM202.7 215.8h.8v.8h-.8zM216.0 206.8h.8v.8h-.8zM261.9 246.4h.8v.8h-.8zM226.9 251.0h.8v.8h-.8zM265.5 217.3h.8v.8h-.8zM233.1 253.6h.8v.8h-.8z" fill="#b0b8f0" opacity="0.6"/>
<path d="M235.9 256.6h.8v.8h-.8zM262.1 238.5h.8v.8h-.8zM252.3 248.3h.8v.8h-.8zM266.0 201.7h.8v.8h-.8zM259.8 207.8h.8v.8h-.8zM258.3 208.2h.8v.8h-.8zM237.7 239.7h.8v.8h-.8z" fill="#c0c4ec" opacity="0.6"/>
<path d="M241.6 233.3h.8v.8h-.8zM234.0 251.0h.8v.8h-.8zM199.8 187.8h.8v.8h-.8zM208.2 212.4h.8v.8h-.8zM206.7 211.5h.8v.8h-.8zM263.2 208.5h.8v.8h-.8zM203.5 254.6h.8v.8h-.8zM220.8 243.6h.8v.8h-.8zM252.4 234.2h.8v.8h-.8zM207.2 221.7h.8v.8h-.8z" fill="#d0d0e8" opacity="0.6"/>
<ellipse cx="225.3" cy="216.5" rx="14.00" ry="8.00" fill="#6878ea" opacity="1" filter="url(#spkS)"/>
<ellipse cx="226.3" cy="216.0" rx="11.00" ry="6.00" fill="#4050e0" opacity="1" filter="url(#spkM)"/>
<ellipse cx="233.6" cy="216" rx="7.00" ry="5.00" fill="#2c3ce0" opacity="1" filter="url(#spkD)"/>
<ellipse cx="213.5" cy="240.5" rx="7.00" ry="14.00" fill="#8a94ee" opacity="1" filter="url(#spkS)"/>
<ellipse cx="240.0" cy="240.5" rx="6.50" ry="14.00" fill="#8a94ee" opacity="1" filter="url(#spkS)"/>
<ellipse cx="213.5" cy="242.5" rx="4.50" ry="9.00" fill="#5060e4" opacity="1" filter="url(#spkS)"/>
<ellipse cx="240.0" cy="242.5" rx="4.00" ry="9.00" fill="#5060e4" opacity="1" filter="url(#spkS)"/>
<ellipse cx="213.5" cy="242.5" rx="3.00" ry="6.00" fill="#4858e4" opacity="1" filter="url(#spkM)"/>
<ellipse cx="240.0" cy="242.5" rx="2.80" ry="6.00" fill="#4858e4" opacity="1" filter="url(#spkM)"/>
<ellipse cx="213" cy="211" rx="10.26" ry="4.75" fill="#8090ee" opacity="1" filter="url(#spkS)" transform="rotate(-6 213 211)"/>
<ellipse cx="213" cy="211" rx="8.06" ry="3.95" fill="#2838dc" opacity="1" filter="url(#spkM)" transform="rotate(-6 213 211)"/>
<g filter="url(#spkI)" transform="rotate(-6 213 211)"><ellipse cx="213" cy="211" rx="6.54" ry="3.27" fill="#2c3ee4" opacity="1.00"/></g>
<ellipse cx="237.6" cy="213" rx="11.07" ry="8.25" fill="#8090ee" opacity="1" filter="url(#spkS)" transform="rotate(-25 237.6 213)"/>
<ellipse cx="237.6" cy="213" rx="8.69" ry="6.86" fill="#2430dc" opacity="1" filter="url(#spkD)" transform="rotate(-25 237.6 213)"/>
<g filter="url(#bl)" transform="rotate(-25 237.6 213)"><ellipse cx="237.6" cy="213" rx="7.05" ry="5.68" fill="#2c3ee4" opacity="1.00"/><ellipse cx="237.6" cy="213" rx="6.07" ry="4.88" fill="#3cc4ee" opacity="1.00"/><ellipse cx="237.6" cy="213" rx="4.92" ry="3.96" fill="#72de54" opacity="1.00"/><ellipse cx="237.6" cy="213" rx="3.44" ry="2.77" fill="#e0dc30" opacity="1.00"/><ellipse cx="237.6" cy="213" rx="2.00" ry="1.60" fill="#e04418" opacity="1.00"/></g>
<line x1="226.13333333333335" y1="185.5" x2="226.13333333333335" y2="262.0" stroke="#b898c4" stroke-width="1" />
<line x1="196.0" y1="224.9" x2="272.3" y2="224.9" stroke="#b898c4" stroke-width="1" />
<rect x="196.0" y="185.5" width="76.3" height="76.5" fill="none" stroke="#8c8c8c" stroke-width="1"/>
<text x="197.5" y="190.7" font-size="4.7" font-weight="bold" fill="#b040c0" stroke="#b040c0" stroke-width="0.12">10.2</text>
<text x="271.1" y="190.7" text-anchor="end" font-size="4.7" font-weight="bold" fill="#b040c0" stroke="#b040c0" stroke-width="0.12">86.1</text>
<text x="197.5" y="260.6" font-size="4.7" font-weight="bold" fill="#b040c0" stroke="#b040c0" stroke-width="0.12">1.67</text>
<text x="271.1" y="260.6" text-anchor="end" font-size="4.7" font-weight="bold" fill="#b040c0" stroke="#b040c0" stroke-width="0.12">2.21</text>
<line x1="210.0" y1="263.0" x2="268.3" y2="263.0" stroke="#aaa" stroke-width="1.2" stroke-dasharray="0.7 2.3"/>
<line x1="195.0" y1="189.5" x2="195.0" y2="248.0" stroke="#bbb" stroke-width="1.0" stroke-dasharray="0.7 3.5"/>
<rect x="194.7" y="245.935" width="1.3" height="4.2" fill="#555" stroke="none" stroke-width="1" />
<rect x="208.3" y="262.6" width="4.5" height="1.4" fill="#333" stroke="none" stroke-width="1" />
<rect x="25.2" y="270.0" width="76.39999999999999" height="76.0" fill="#fff" stroke="none" stroke-width="1" />
<path d="M47.6 290.4h.8v.8h-.8zM97.9 290.7h.8v.8h-.8zM44.5 306.8h.8v.8h-.8zM36.3 308.2h.8v.8h-.8zM55.5 338.7h.8v.8h-.8zM65.0 321.1h.8v.8h-.8z" fill="#b0b8f0" opacity="0.6"/>
<path d="M55.8 284.0h.8v.8h-.8zM99.3 304.4h.8v.8h-.8zM66.9 289.6h.8v.8h-.8zM52.0 278.6h.8v.8h-.8zM53.9 330.3h.8v.8h-.8zM54.9 325.7h.8v.8h-.8zM54.5 296.4h.8v.8h-.8zM84.4 333.1h.8v.8h-.8zM88.6 334.8h.8v.8h-.8zM97.3 307.3h.8v.8h-.8zM89.1 342.0h.8v.8h-.8zM83.9 288.1h.8v.8h-.8z" fill="#c0c4ec" opacity="0.6"/>
<path d="M32.6 308.0h.8v.8h-.8zM67.0 304.6h.8v.8h-.8zM91.4 326.0h.8v.8h-.8zM63.3 313.3h.8v.8h-.8zM46.8 289.9h.8v.8h-.8zM74.0 303.1h.8v.8h-.8zM36.4 302.6h.8v.8h-.8z" fill="#d0d0e8" opacity="0.6"/>
<ellipse cx="42.9" cy="310.6" rx="5.50" ry="11.00" fill="#8a94ec" opacity="1" filter="url(#spkS)"/>
<ellipse cx="58.4" cy="323.6" rx="9.00" ry="12.00" fill="#a8b0f0" opacity="1" filter="url(#spkS)"/>
<ellipse cx="41.9" cy="291.6" rx="12.15" ry="6.62" fill="#8090ee" opacity="1" filter="url(#spkS)"/>
<ellipse cx="41.9" cy="291.6" rx="9.54" ry="5.51" fill="#2430dc" opacity="1" filter="url(#spkD)"/>
<g filter="url(#bl)"><ellipse cx="41.9" cy="291.6" rx="7.74" ry="4.56" fill="#2c3ee4" opacity="1.00"/><ellipse cx="41.9" cy="291.6" rx="6.66" ry="3.92" fill="#3cc4ee" opacity="1.00"/><ellipse cx="41.9" cy="291.6" rx="5.40" ry="3.18" fill="#72de54" opacity="1.00"/><ellipse cx="41.9" cy="291.6" rx="3.78" ry="2.23" fill="#e0dc30" opacity="1.00"/><ellipse cx="41.9" cy="291.6" rx="2.16" ry="1.60" fill="#e04418" opacity="1.00"/></g>
<ellipse cx="41.5" cy="329.5" rx="9.72" ry="18.00" fill="#8090ee" opacity="1" filter="url(#spkS)"/>
<ellipse cx="41.5" cy="329.5" rx="7.63" ry="14.98" fill="#2430dc" opacity="1" filter="url(#spkD)"/>
<g filter="url(#bl)"><ellipse cx="41.5" cy="329.5" rx="6.19" ry="12.38" fill="#2c3ee4" opacity="1.00"/><ellipse cx="41.5" cy="329.5" rx="5.33" ry="10.66" fill="#3cc4ee" opacity="1.00"/><ellipse cx="41.5" cy="329.5" rx="4.32" ry="8.64" fill="#72de54" opacity="0.50"/></g>
<ellipse cx="71.9" cy="328.8" rx="8.78" ry="18.50" fill="#8090ee" opacity="1" filter="url(#spkS)"/>
<ellipse cx="71.9" cy="328.8" rx="6.89" ry="15.39" fill="#2430dc" opacity="1" filter="url(#spkD)"/>
<g filter="url(#bl)"><ellipse cx="71.9" cy="328.8" rx="5.59" ry="12.73" fill="#2c3ee4" opacity="1.00"/><ellipse cx="71.9" cy="328.8" rx="4.81" ry="10.95" fill="#3cc4ee" opacity="1.00"/><ellipse cx="71.9" cy="328.8" rx="3.90" ry="8.88" fill="#72de54" opacity="0.50"/></g>
<line x1="55.4" y1="270.0" x2="55.4" y2="346.0" stroke="#b898c4" stroke-width="1" />
<line x1="25.2" y1="309.40000000000003" x2="101.6" y2="309.40000000000003" stroke="#b898c4" stroke-width="1" />
<rect x="25.2" y="270.0" width="76.4" height="76.0" fill="none" stroke="#8c8c8c" stroke-width="1"/>
<text x="26.7" y="275.2" font-size="4.7" font-weight="bold" fill="#b040c0" stroke="#b040c0" stroke-width="0.12">40.5</text>
<text x="100.39999999999999" y="275.2" text-anchor="end" font-size="4.7" font-weight="bold" fill="#b040c0" stroke="#b040c0" stroke-width="0.12">0.226</text>
<text x="26.7" y="344.6" font-size="4.7" font-weight="bold" fill="#b040c0" stroke="#b040c0" stroke-width="0.12">25.6</text>
<text x="100.39999999999999" y="344.6" text-anchor="end" font-size="4.7" font-weight="bold" fill="#b040c0" stroke="#b040c0" stroke-width="0.12">32.7</text>
<line x1="39.2" y1="347.0" x2="97.6" y2="347.0" stroke="#aaa" stroke-width="1.2" stroke-dasharray="0.7 2.3"/>
<line x1="24.2" y1="274.0" x2="24.2" y2="332.0" stroke="#bbb" stroke-width="1.0" stroke-dasharray="0.7 3.5"/>
<rect x="23.9" y="330.04" width="1.3" height="4.2" fill="#555" stroke="none" stroke-width="1" />
<rect x="37.5" y="346.6" width="4.5" height="1.4" fill="#333" stroke="none" stroke-width="1" />
<rect x="111.2" y="270.0" width="76.8" height="76.0" fill="#fff" stroke="none" stroke-width="1" />
<path d="M164.2 332.9h.8v.8h-.8zM158.8 310.0h.8v.8h-.8zM113.3 310.7h.8v.8h-.8zM135.6 273.6h.8v.8h-.8zM131.9 320.0h.8v.8h-.8zM129.7 274.5h.8v.8h-.8zM165.5 298.1h.8v.8h-.8zM174.7 276.9h.8v.8h-.8zM130.0 287.9h.8v.8h-.8zM126.8 288.1h.8v.8h-.8z" fill="#d0d0e8" opacity="0.6"/>
<path d="M119.4 327.9h.8v.8h-.8zM170.2 288.7h.8v.8h-.8zM160.2 293.9h.8v.8h-.8zM164.1 280.1h.8v.8h-.8zM135.1 339.9h.8v.8h-.8zM133.5 294.8h.8v.8h-.8zM147.8 288.9h.8v.8h-.8zM177.6 318.6h.8v.8h-.8zM183.8 294.4h.8v.8h-.8zM123.9 300.3h.8v.8h-.8z" fill="#c0c4ec" opacity="0.6"/>
<path d="M141.5 288.1h.8v.8h-.8zM115.3 301.7h.8v.8h-.8zM127.6 329.4h.8v.8h-.8zM121.1 316.9h.8v.8h-.8zM179.5 276.1h.8v.8h-.8z" fill="#b0b8f0" opacity="0.6"/>
<ellipse cx="129.2" cy="310.6" rx="5.50" ry="11.00" fill="#8a94ec" opacity="1" filter="url(#spkS)"/>
<ellipse cx="144.2" cy="323.6" rx="9.00" ry="12.00" fill="#a8b0f0" opacity="1" filter="url(#spkS)"/>
<ellipse cx="128.2" cy="292.3" rx="16.20" ry="6.25" fill="#8090ee" opacity="1" filter="url(#spkS)"/>
<ellipse cx="128.2" cy="292.3" rx="12.72" ry="5.20" fill="#2430dc" opacity="1" filter="url(#spkD)"/>
<g filter="url(#bl)"><ellipse cx="128.2" cy="292.3" rx="10.32" ry="4.30" fill="#2c3ee4" opacity="1.00"/><ellipse cx="128.2" cy="292.3" rx="8.88" ry="3.70" fill="#3cc4ee" opacity="1.00"/><ellipse cx="128.2" cy="292.3" rx="7.20" ry="3.00" fill="#72de54" opacity="1.00"/><ellipse cx="128.2" cy="292.3" rx="5.04" ry="2.20" fill="#e0dc30" opacity="1.00"/><ellipse cx="128.2" cy="292.3" rx="2.88" ry="1.60" fill="#e04418" opacity="1.00"/></g>
<ellipse cx="129.3" cy="326.8" rx="12.74" ry="18.96" fill="#8090ee" opacity="1" filter="url(#spkS)"/>
<ellipse cx="129.3" cy="326.8" rx="10.29" ry="16.27" fill="#2c40e0" opacity="1" filter="url(#spkD)"/>
<ellipse cx="129.3" cy="326.8" rx="8.33" ry="13.43" fill="#3c5ce8" opacity="1" filter="url(#spkD)"/>
<ellipse cx="129.3" cy="326.8" rx="5.39" ry="9.48" fill="#48a8e8" opacity="0.75" filter="url(#spkD)"/>
<ellipse cx="156.4" cy="328.8" rx="6.75" ry="20.00" fill="#8090ee" opacity="1" filter="url(#spkS)"/>
<ellipse cx="156.4" cy="328.8" rx="5.30" ry="16.64" fill="#2430dc" opacity="1" filter="url(#spkD)"/>
<g filter="url(#bl)"><ellipse cx="156.4" cy="328.8" rx="4.30" ry="13.76" fill="#2c3ee4" opacity="1.00"/><ellipse cx="156.4" cy="328.8" rx="3.70" ry="11.84" fill="#3cc4ee" opacity="1.00"/><ellipse cx="156.4" cy="328.8" rx="3.00" ry="9.60" fill="#72de54" opacity="0.50"/></g>
<line x1="141.2" y1="270.0" x2="141.2" y2="346.0" stroke="#b898c4" stroke-width="1" />
<line x1="111.2" y1="309.40000000000003" x2="188.0" y2="309.40000000000003" stroke="#b898c4" stroke-width="1" />
<rect x="111.2" y="270.0" width="76.8" height="76.0" fill="none" stroke="#8c8c8c" stroke-width="1"/>
<text x="112.7" y="275.2" font-size="4.7" font-weight="bold" fill="#b040c0" stroke="#b040c0" stroke-width="0.12">43.7</text>
<text x="186.8" y="275.2" text-anchor="end" font-size="4.7" font-weight="bold" fill="#b040c0" stroke="#b040c0" stroke-width="0.12">0.432</text>
<text x="112.7" y="344.6" font-size="4.7" font-weight="bold" fill="#b040c0" stroke="#b040c0" stroke-width="0.12">25.9</text>
<text x="186.8" y="344.6" text-anchor="end" font-size="4.7" font-weight="bold" fill="#b040c0" stroke="#b040c0" stroke-width="0.12">29.9</text>
<line x1="125.2" y1="347.0" x2="184.0" y2="347.0" stroke="#aaa" stroke-width="1.2" stroke-dasharray="0.7 2.3"/>
<line x1="110.2" y1="274.0" x2="110.2" y2="332.0" stroke="#bbb" stroke-width="1.0" stroke-dasharray="0.7 3.5"/>
<rect x="109.9" y="330.04" width="1.3" height="4.2" fill="#555" stroke="none" stroke-width="1" />
<rect x="123.5" y="346.6" width="4.5" height="1.4" fill="#333" stroke="none" stroke-width="1" />
<rect x="196.4" y="270.0" width="76.29999999999998" height="76.0" fill="#fff" stroke="none" stroke-width="1" />
<path d="M200.1 314.9h.8v.8h-.8zM202.1 276.3h.8v.8h-.8zM230.9 323.3h.8v.8h-.8zM250.8 332.4h.8v.8h-.8zM239.0 326.6h.8v.8h-.8zM224.2 331.2h.8v.8h-.8zM221.8 325.1h.8v.8h-.8zM206.2 323.5h.8v.8h-.8zM267.4 299.8h.8v.8h-.8z" fill="#d0d0e8" opacity="0.6"/>
<path d="M251.4 343.8h.8v.8h-.8zM230.4 279.8h.8v.8h-.8zM218.6 297.3h.8v.8h-.8zM204.7 322.8h.8v.8h-.8zM225.3 338.2h.8v.8h-.8zM253.8 274.9h.8v.8h-.8zM232.0 329.8h.8v.8h-.8zM221.3 291.8h.8v.8h-.8zM266.8 276.7h.8v.8h-.8z" fill="#c0c4ec" opacity="0.6"/>
<path d="M222.2 285.4h.8v.8h-.8zM252.4 274.3h.8v.8h-.8zM200.6 301.6h.8v.8h-.8zM217.0 325.8h.8v.8h-.8zM222.9 291.6h.8v.8h-.8zM201.6 325.7h.8v.8h-.8zM250.6 314.9h.8v.8h-.8z" fill="#b0b8f0" opacity="0.6"/>
<ellipse cx="214" cy="310.6" rx="5.50" ry="11.00" fill="#8a94ec" opacity="1" filter="url(#spkS)"/>
<ellipse cx="229.70000000000002" cy="323.6" rx="9.00" ry="12.00" fill="#a8b0f0" opacity="1" filter="url(#spkS)"/>
<ellipse cx="213" cy="293" rx="12.15" ry="7.50" fill="#8090ee" opacity="1" filter="url(#spkS)"/>
<ellipse cx="213" cy="293" rx="9.54" ry="6.24" fill="#4858e2" opacity="1" filter="url(#spkS)"/>
<ellipse cx="213" cy="293" rx="7.20" ry="4.80" fill="#4050e0" opacity="1" filter="url(#spkS)"/>
<ellipse cx="212.2" cy="328.8" rx="13.50" ry="20.62" fill="#8090ee" opacity="1" filter="url(#spkS)"/>
<ellipse cx="212.2" cy="328.8" rx="10.60" ry="17.16" fill="#2430dc" opacity="1" filter="url(#spkD)"/>
<g filter="url(#bl)"><ellipse cx="212.2" cy="328.8" rx="8.60" ry="14.19" fill="#2c3ee4" opacity="1.00"/><ellipse cx="212.2" cy="328.8" rx="7.40" ry="12.21" fill="#3cc4ee" opacity="1.00"/><ellipse cx="212.2" cy="328.8" rx="6.00" ry="9.90" fill="#72de54" opacity="1.00"/><ellipse cx="212.2" cy="328.8" rx="4.20" ry="6.93" fill="#e0dc30" opacity="1.00"/><ellipse cx="212.2" cy="328.8" rx="2.40" ry="3.96" fill="#e04418" opacity="1.00"/></g>
<ellipse cx="239.6" cy="328.8" rx="10.26" ry="18.75" fill="#8090ee" opacity="1" filter="url(#spkS)"/>
<ellipse cx="239.6" cy="328.8" rx="8.06" ry="15.60" fill="#2838dc" opacity="1" filter="url(#spkM)"/>
<line x1="226.3" y1="270.0" x2="226.3" y2="346.0" stroke="#b898c4" stroke-width="1" />
<line x1="196.4" y1="309.40000000000003" x2="272.7" y2="309.40000000000003" stroke="#b898c4" stroke-width="1" />
<rect x="196.4" y="270.0" width="76.3" height="76.0" fill="none" stroke="#8c8c8c" stroke-width="1"/>
<text x="197.9" y="275.2" font-size="4.7" font-weight="bold" fill="#b040c0" stroke="#b040c0" stroke-width="0.12">3.53</text>
<text x="271.5" y="275.2" text-anchor="end" font-size="4.7" font-weight="bold" fill="#b040c0" stroke="#b040c0" stroke-width="0.12">0.249</text>
<text x="197.9" y="344.6" font-size="4.7" font-weight="bold" fill="#b040c0" stroke="#b040c0" stroke-width="0.12">88.2</text>
<text x="271.5" y="344.6" text-anchor="end" font-size="4.7" font-weight="bold" fill="#b040c0" stroke="#b040c0" stroke-width="0.12">7.8</text>
<line x1="210.4" y1="347.0" x2="268.7" y2="347.0" stroke="#aaa" stroke-width="1.2" stroke-dasharray="0.7 2.3"/>
<line x1="195.4" y1="274.0" x2="195.4" y2="332.0" stroke="#bbb" stroke-width="1.0" stroke-dasharray="0.7 3.5"/>
<rect x="195.1" y="330.04" width="1.3" height="4.2" fill="#555" stroke="none" stroke-width="1" />
<rect x="208.70000000000002" y="346.6" width="4.5" height="1.4" fill="#333" stroke="none" stroke-width="1" />
<line x1="12" y1="146" x2="12" y2="242.4" stroke="#000" stroke-width="1.8" />
<polygon points="12,137.9 7.4,147.3 16.7,147.3" fill="#000"/>
<text x="8" y="190.4" font-size="9.6" text-anchor="middle" fill="#111" stroke="#111" stroke-width="0.25" transform="rotate(-90 8 190.4)" >CD4</text>
<line x1="98.8" y1="360" x2="196" y2="360" stroke="#000" stroke-width="1.8" />
<polygon points="204.2,360 195,355.4 195,364.6" fill="#000"/>
<text x="151.5" y="371.5" font-size="9.6" text-anchor="middle" font-weight="normal" fill="#111" stroke="#111" stroke-width="0.25" >CD8</text>
<path d="M342.5,83.8 L342.50,83.80 L342.83,83.80 L343.17,83.80 L343.50,83.80 L343.83,83.80 L344.17,83.80 L344.50,83.80 L344.83,83.80 L345.17,83.80 L345.50,83.80 L345.83,83.80 L346.17,83.80 L346.50,83.80 L346.83,83.80 L347.17,83.80 L347.50,83.80 L347.83,83.80 L348.17,83.80 L348.50,83.80 L348.83,83.80 L349.17,83.80 L349.50,83.80 L349.83,83.80 L350.17,83.80 L350.50,83.80 L350.83,83.79 L351.17,83.77 L351.50,83.74 L351.83,83.66 L352.17,83.50 L352.50,83.20 L352.83,82.64 L353.17,81.67 L353.50,80.08 L353.83,77.61 L354.17,74.00 L354.50,69.04 L354.83,62.63 L355.17,54.91 L355.50,46.26 L355.83,37.38 L356.17,29.17 L356.50,22.60 L356.83,18.54 L357.17,17.55 L357.50,19.31 L357.83,23.39 L358.17,29.35 L358.50,36.57 L358.83,44.38 L359.17,52.13 L359.50,59.33 L359.83,65.60 L360.17,70.77 L360.50,74.83 L360.83,77.85 L361.17,80.01 L361.50,81.47 L361.83,82.43 L362.17,83.02 L362.50,83.37 L362.83,83.58 L363.17,83.69 L363.50,83.74 L363.83,83.77 L364.17,83.79 L364.50,83.79 L364.83,83.80 L365.17,83.80 L365.50,83.80 L365.83,83.80 L366.17,83.80 L366.50,83.80 L366.83,83.80 L367.17,83.80 L367.50,83.80 L367.83,83.80 L368.17,83.80 L368.50,83.80 L368.83,83.80 L369.17,83.80 L369.50,83.80 L369.83,83.80 L370.17,83.80 L370.50,83.80 L370.83,83.80 L371.17,83.80 L371.50,83.80 L371.83,83.80 L372.17,83.80 L372.50,83.80 L372.83,83.80 L373.17,83.80 L373.50,83.80 L373.83,83.80 L374.17,83.80 L374.50,83.80 L374.83,83.80 L375.17,83.80 L375.50,83.80 L375.83,83.80 L376.17,83.80 L376.50,83.80 L376.5,83.8 Z" fill="#dcdcdc" stroke="#b8b8b8" stroke-width="0.6" opacity="1.0"/>
<path d="M342.50,83.80 L342.83,83.80 L343.17,83.80 L343.50,83.80 L343.83,83.80 L344.17,83.80 L344.50,83.80 L344.83,83.80 L345.17,83.80 L345.50,83.80 L345.83,83.80 L346.17,83.80 L346.50,83.80 L346.83,83.80 L347.17,83.80 L347.50,83.80 L347.83,83.80 L348.17,83.80 L348.50,83.80 L348.83,83.80 L349.17,83.80 L349.50,83.80 L349.83,83.80 L350.17,83.80 L350.50,83.80 L350.83,83.80 L351.17,83.80 L351.50,83.80 L351.83,83.80 L352.17,83.80 L352.50,83.80 L352.83,83.80 L353.17,83.80 L353.50,83.80 L353.83,83.80 L354.17,83.80 L354.50,83.80 L354.83,83.80 L355.17,83.80 L355.50,83.80 L355.83,83.80 L356.17,83.80 L356.50,83.80 L356.83,83.80 L357.17,83.80 L357.50,83.80 L357.83,83.80 L358.17,83.80 L358.50,83.80 L358.83,83.80 L359.17,83.80 L359.50,83.80 L359.83,83.80 L360.17,83.80 L360.50,83.80 L360.83,83.80 L361.17,83.80 L361.50,83.80 L361.83,83.80 L362.17,83.80 L362.50,83.80 L362.83,83.80 L363.17,83.80 L363.50,83.80 L363.83,83.80 L364.17,83.80 L364.50,83.80 L364.83,83.80 L365.17,83.80 L365.50,83.80 L365.83,83.80 L366.17,83.80 L366.50,83.80 L366.83,83.80 L367.17,83.80 L367.50,83.80 L367.83,83.80 L368.17,83.80 L368.50,83.80 L368.83,83.80 L369.17,83.79 L369.50,83.79 L369.83,83.79 L370.17,83.79 L370.50,83.78 L370.83,83.77 L371.17,83.76 L371.50,83.75 L371.83,83.74 L372.17,83.71 L372.50,83.69 L372.83,83.65 L373.17,83.61 L373.50,83.55 L373.83,83.48 L374.17,83.38 L374.50,83.27 L374.83,83.13 L375.17,82.95 L375.50,82.74 L375.83,82.48 L376.17,82.17 L376.50,81.80 L376.83,81.35 L377.17,80.83 L377.50,80.21 L377.83,79.49 L378.17,78.66 L378.50,77.70 L378.83,76.60 L379.17,75.36 L379.50,73.97 L379.83,72.41 L380.17,70.69 L380.50,68.79 L380.83,66.72 L381.17,64.48 L381.50,62.07 L381.83,59.51 L382.17,56.82 L382.50,54.00 L382.83,51.07 L383.17,48.08 L383.50,45.05 L383.83,42.00 L384.17,38.99 L384.50,36.04 L384.83,33.20 L385.17,30.51 L385.50,28.01 L385.83,25.74 L386.17,23.73 L386.50,22.03 L386.83,20.65 L387.17,19.63 L387.50,18.98 L387.83,18.71 L388.17,18.90 L388.50,19.73 L388.83,21.16 L389.17,23.17 L389.50,25.68 L389.83,28.63 L390.17,31.95 L390.50,35.54 L390.83,39.33 L391.17,43.22 L391.50,47.13 L391.83,50.99 L392.17,54.73 L392.50,58.30 L392.83,61.65 L393.17,64.74 L393.50,67.57 L393.83,70.11 L394.17,72.37 L394.50,74.34 L394.83,76.06 L395.17,77.52 L395.50,78.76 L395.83,79.79 L396.17,80.64 L396.50,81.34 L396.83,81.90 L397.17,82.35 L397.50,82.70 L397.83,82.98 L398.17,83.19 L398.50,83.35 L398.83,83.47 L399.17,83.56 L399.50,83.63 L399.83,83.68 L400.17,83.72 L400.50,83.74 L400.83,83.76 L401.17,83.77 L401.50,83.78 L401.83,83.79 L402.17,83.79 L402.50,83.79 L402.83,83.80 L403.17,83.80 L403.50,83.80 L403.83,83.80 L404.17,83.80 L404.50,83.80 L404.83,83.80 L405.17,83.80 L405.50,83.80 L405.83,83.80 L406.17,83.80 L406.50,83.80 L406.83,83.80 L407.17,83.80 L407.50,83.80 L407.83,83.80 L408.17,83.80 L408.50,83.80 L408.83,83.80 L409.17,83.80 L409.50,83.80 L409.83,83.80 L410.17,83.80 L410.50,83.80 L410.83,83.80 L411.17,83.80 L411.50,83.80 L411.83,83.80 L412.17,83.80 L412.50,83.80" fill="none" stroke="#d0905a" stroke-width="0.8" opacity="1.0" stroke-linejoin="round"/>
<path d="M342.50,83.80 L342.83,83.80 L343.17,83.80 L343.50,83.80 L343.83,83.80 L344.17,83.80 L344.50,83.80 L344.83,83.80 L345.17,83.80 L345.50,83.80 L345.83,83.80 L346.17,83.80 L346.50,83.80 L346.83,83.80 L347.17,83.80 L347.50,83.80 L347.83,83.80 L348.17,83.80 L348.50,83.80 L348.83,83.80 L349.17,83.80 L349.50,83.80 L349.83,83.80 L350.17,83.80 L350.50,83.80 L350.83,83.80 L351.17,83.80 L351.50,83.80 L351.83,83.80 L352.17,83.80 L352.50,83.80 L352.83,83.80 L353.17,83.80 L353.50,83.80 L353.83,83.80 L354.17,83.80 L354.50,83.80 L354.83,83.80 L355.17,83.80 L355.50,83.80 L355.83,83.80 L356.17,83.80 L356.50,83.80 L356.83,83.80 L357.17,83.80 L357.50,83.80 L357.83,83.80 L358.17,83.80 L358.50,83.80 L358.83,83.80 L359.17,83.80 L359.50,83.80 L359.83,83.80 L360.17,83.80 L360.50,83.80 L360.83,83.80 L361.17,83.80 L361.50,83.80 L361.83,83.80 L362.17,83.80 L362.50,83.80 L362.83,83.80 L363.17,83.80 L363.50,83.80 L363.83,83.80 L364.17,83.80 L364.50,83.80 L364.83,83.80 L365.17,83.80 L365.50,83.80 L365.83,83.80 L366.17,83.80 L366.50,83.80 L366.83,83.80 L367.17,83.80 L367.50,83.80 L367.83,83.80 L368.17,83.80 L368.50,83.80 L368.83,83.80 L369.17,83.80 L369.50,83.80 L369.83,83.80 L370.17,83.80 L370.50,83.80 L370.83,83.80 L371.17,83.80 L371.50,83.80 L371.83,83.80 L372.17,83.80 L372.50,83.80 L372.83,83.79 L373.17,83.79 L373.50,83.79 L373.83,83.78 L374.17,83.77 L374.50,83.76 L374.83,83.74 L375.17,83.72 L375.50,83.68 L375.83,83.64 L376.17,83.58 L376.50,83.49 L376.83,83.39 L377.17,83.25 L377.50,83.07 L377.83,82.84 L378.17,82.55 L378.50,82.18 L378.83,81.73 L379.17,81.17 L379.50,80.49 L379.83,79.66 L380.17,78.68 L380.50,77.52 L380.83,76.15 L381.17,74.57 L381.50,72.76 L381.83,70.71 L382.17,68.41 L382.50,65.86 L382.83,63.06 L383.17,60.03 L383.50,56.79 L383.83,53.37 L384.17,49.81 L384.50,46.16 L384.83,42.48 L385.17,38.82 L385.50,35.25 L385.83,31.85 L386.17,28.68 L386.50,25.82 L386.83,23.33 L387.17,21.28 L387.50,19.70 L387.83,18.65 L388.17,18.15 L388.50,18.23 L388.83,19.01 L389.17,20.47 L389.50,22.56 L389.83,25.23 L390.17,28.38 L390.50,31.93 L390.83,35.77 L391.17,39.82 L391.50,43.95 L391.83,48.09 L392.17,52.14 L392.50,56.04 L392.83,59.71 L393.17,63.13 L393.50,66.25 L393.83,69.07 L394.17,71.56 L394.50,73.74 L394.83,75.63 L395.17,77.23 L395.50,78.57 L395.83,79.69 L396.17,80.60 L396.50,81.34 L396.83,81.92 L397.17,82.39 L397.50,82.75 L397.83,83.02 L398.17,83.23 L398.50,83.39 L398.83,83.51 L399.17,83.59 L399.50,83.66 L399.83,83.70 L400.17,83.73 L400.50,83.75 L400.83,83.77 L401.17,83.78 L401.50,83.79 L401.83,83.79 L402.17,83.79 L402.50,83.80 L402.83,83.80 L403.17,83.80 L403.50,83.80 L403.83,83.80 L404.17,83.80 L404.50,83.80 L404.83,83.80 L405.17,83.80 L405.50,83.80 L405.83,83.80 L406.17,83.80 L406.50,83.80 L406.83,83.80 L407.17,83.80 L407.50,83.80 L407.83,83.80 L408.17,83.80 L408.50,83.80 L408.83,83.80 L409.17,83.80 L409.50,83.80 L409.83,83.80 L410.17,83.80 L410.50,83.80 L410.83,83.80 L411.17,83.80 L411.50,83.80 L411.83,83.80 L412.17,83.80 L412.50,83.80" fill="none" stroke="#4a64b0" stroke-width="0.9" opacity="1.0" stroke-linejoin="round"/>
<path d="M342.50,83.80 L342.83,83.80 L343.17,83.80 L343.50,83.80 L343.83,83.80 L344.17,83.80 L344.50,83.80 L344.83,83.80 L345.17,83.80 L345.50,83.80 L345.83,83.80 L346.17,83.80 L346.50,83.80 L346.83,83.80 L347.17,83.80 L347.50,83.80 L347.83,83.80 L348.17,83.80 L348.50,83.80 L348.83,83.80 L349.17,83.80 L349.50,83.80 L349.83,83.80 L350.17,83.80 L350.50,83.80 L350.83,83.80 L351.17,83.80 L351.50,83.80 L351.83,83.80 L352.17,83.80 L352.50,83.80 L352.83,83.80 L353.17,83.80 L353.50,83.80 L353.83,83.80 L354.17,83.80 L354.50,83.80 L354.83,83.80 L355.17,83.80 L355.50,83.80 L355.83,83.80 L356.17,83.80 L356.50,83.80 L356.83,83.80 L357.17,83.80 L357.50,83.80 L357.83,83.80 L358.17,83.80 L358.50,83.80 L358.83,83.80 L359.17,83.80 L359.50,83.80 L359.83,83.80 L360.17,83.80 L360.50,83.80 L360.83,83.80 L361.17,83.80 L361.50,83.80 L361.83,83.80 L362.17,83.80 L362.50,83.80 L362.83,83.80 L363.17,83.80 L363.50,83.80 L363.83,83.80 L364.17,83.80 L364.50,83.80 L364.83,83.80 L365.17,83.80 L365.50,83.80 L365.83,83.80 L366.17,83.80 L366.50,83.80 L366.83,83.80 L367.17,83.80 L367.50,83.80 L367.83,83.80 L368.17,83.80 L368.50,83.80 L368.83,83.80 L369.17,83.80 L369.50,83.80 L369.83,83.80 L370.17,83.80 L370.50,83.80 L370.83,83.80 L371.17,83.80 L371.50,83.80 L371.83,83.80 L372.17,83.79 L372.50,83.79 L372.83,83.79 L373.17,83.78 L373.50,83.78 L373.83,83.76 L374.17,83.75 L374.50,83.73 L374.83,83.70 L375.17,83.66 L375.50,83.61 L375.83,83.54 L376.17,83.44 L376.50,83.32 L376.83,83.16 L377.17,82.96 L377.50,82.70 L377.83,82.37 L378.17,81.96 L378.50,81.45 L378.83,80.83 L379.17,80.08 L379.50,79.17 L379.83,78.10 L380.17,76.83 L380.50,75.35 L380.83,73.65 L381.17,71.71 L381.50,69.53 L381.83,67.09 L382.17,64.40 L382.50,61.47 L382.83,58.32 L383.17,54.97 L383.50,51.46 L383.83,47.83 L384.17,44.14 L384.50,40.44 L384.83,36.80 L385.17,33.29 L385.50,29.98 L385.83,26.95 L386.17,24.26 L386.50,21.97 L386.83,20.14 L387.17,18.81 L387.50,18.03 L387.83,17.80 L388.17,18.23 L388.50,19.36 L388.83,21.15 L389.17,23.55 L389.50,26.49 L389.83,29.87 L390.17,33.59 L390.50,37.57 L390.83,41.69 L391.17,45.85 L391.50,49.98 L391.83,53.98 L392.17,57.79 L392.50,61.36 L392.83,64.64 L393.17,67.63 L393.50,70.29 L393.83,72.64 L394.17,74.68 L394.50,76.43 L394.83,77.90 L395.17,79.14 L395.50,80.15 L395.83,80.97 L396.17,81.64 L396.50,82.16 L396.83,82.57 L397.17,82.89 L397.50,83.13 L397.83,83.32 L398.17,83.45 L398.50,83.55 L398.83,83.63 L399.17,83.68 L399.50,83.72 L399.83,83.74 L400.17,83.76 L400.50,83.77 L400.83,83.78 L401.17,83.79 L401.50,83.79 L401.83,83.80 L402.17,83.80 L402.50,83.80 L402.83,83.80 L403.17,83.80 L403.50,83.80 L403.83,83.80 L404.17,83.80 L404.50,83.80 L404.83,83.80 L405.17,83.80 L405.50,83.80 L405.83,83.80 L406.17,83.80 L406.50,83.80 L406.83,83.80 L407.17,83.80 L407.50,83.80 L407.83,83.80 L408.17,83.80 L408.50,83.80 L408.83,83.80 L409.17,83.80 L409.50,83.80 L409.83,83.80 L410.17,83.80 L410.50,83.80 L410.83,83.80 L411.17,83.80 L411.50,83.80 L411.83,83.80 L412.17,83.80 L412.50,83.80" fill="none" stroke="#4c9a44" stroke-width="0.8" opacity="1.0" stroke-linejoin="round"/>
<path d="M342.50,83.80 L342.83,83.80 L343.17,83.80 L343.50,83.80 L343.83,83.80 L344.17,83.80 L344.50,83.80 L344.83,83.80 L345.17,83.80 L345.50,83.80 L345.83,83.80 L346.17,83.80 L346.50,83.80 L346.83,83.80 L347.17,83.80 L347.50,83.80 L347.83,83.80 L348.17,83.80 L348.50,83.80 L348.83,83.80 L349.17,83.80 L349.50,83.80 L349.83,83.80 L350.17,83.80 L350.50,83.80 L350.83,83.80 L351.17,83.80 L351.50,83.80 L351.83,83.80 L352.17,83.80 L352.50,83.80 L352.83,83.80 L353.17,83.80 L353.50,83.80 L353.83,83.80 L354.17,83.80 L354.50,83.80 L354.83,83.80 L355.17,83.80 L355.50,83.80 L355.83,83.80 L356.17,83.80 L356.50,83.80 L356.83,83.80 L357.17,83.80 L357.50,83.80 L357.83,83.80 L358.17,83.80 L358.50,83.80 L358.83,83.80 L359.17,83.80 L359.50,83.80 L359.83,83.80 L360.17,83.80 L360.50,83.80 L360.83,83.80 L361.17,83.80 L361.50,83.80 L361.83,83.80 L362.17,83.80 L362.50,83.80 L362.83,83.80 L363.17,83.80 L363.50,83.80 L363.83,83.80 L364.17,83.80 L364.50,83.80 L364.83,83.80 L365.17,83.80 L365.50,83.80 L365.83,83.80 L366.17,83.80 L366.50,83.80 L366.83,83.80 L367.17,83.80 L367.50,83.80 L367.83,83.80 L368.17,83.80 L368.50,83.80 L368.83,83.80 L369.17,83.80 L369.50,83.80 L369.83,83.80 L370.17,83.80 L370.50,83.80 L370.83,83.80 L371.17,83.80 L371.50,83.80 L371.83,83.80 L372.17,83.80 L372.50,83.80 L372.83,83.80 L373.17,83.79 L373.50,83.79 L373.83,83.79 L374.17,83.78 L374.50,83.77 L374.83,83.76 L375.17,83.74 L375.50,83.71 L375.83,83.68 L376.17,83.63 L376.50,83.57 L376.83,83.48 L377.17,83.37 L377.50,83.23 L377.83,83.04 L378.17,82.81 L378.50,82.51 L378.83,82.13 L379.17,81.66 L379.50,81.09 L379.83,80.39 L380.17,79.54 L380.50,78.53 L380.83,77.34 L381.17,75.95 L381.50,74.33 L381.83,72.48 L382.17,70.39 L382.50,68.05 L382.83,65.45 L383.17,62.61 L383.50,59.53 L383.83,56.25 L384.17,52.79 L384.50,49.19 L384.83,45.51 L385.17,41.79 L385.50,38.11 L385.83,34.53 L386.17,31.12 L386.50,27.96 L386.83,25.11 L387.17,22.64 L387.50,20.62 L387.83,19.08 L388.17,18.08 L388.50,17.63 L388.83,17.78 L389.17,18.63 L389.50,20.17 L389.83,22.34 L390.17,25.08 L390.50,28.30 L390.83,31.91 L391.17,35.81 L391.50,39.89 L391.83,44.07 L392.17,48.23 L392.50,52.30 L392.83,56.21 L393.17,59.89 L393.50,63.30 L393.83,66.42 L394.17,69.22 L394.50,71.70 L394.83,73.87 L395.17,75.74 L395.50,77.32 L395.83,78.66 L396.17,79.76 L396.50,80.66 L396.83,81.38 L397.17,81.96 L397.50,82.42 L397.83,82.77 L398.17,83.04 L398.50,83.25 L398.83,83.40 L399.17,83.52 L399.50,83.60 L399.83,83.66 L400.17,83.70 L400.50,83.73 L400.83,83.76 L401.17,83.77 L401.50,83.78 L401.83,83.79 L402.17,83.79 L402.50,83.79 L402.83,83.80 L403.17,83.80 L403.50,83.80 L403.83,83.80 L404.17,83.80 L404.50,83.80 L404.83,83.80 L405.17,83.80 L405.50,83.80 L405.83,83.80 L406.17,83.80 L406.50,83.80 L406.83,83.80 L407.17,83.80 L407.50,83.80 L407.83,83.80 L408.17,83.80 L408.50,83.80 L408.83,83.80 L409.17,83.80 L409.50,83.80 L409.83,83.80 L410.17,83.80 L410.50,83.80 L410.83,83.80 L411.17,83.80 L411.50,83.80 L411.83,83.80 L412.17,83.80 L412.50,83.80" fill="none" stroke="#5a3a30" stroke-width="0.7" opacity="1.0" stroke-linejoin="round"/>
<path d="M342.50,83.80 L342.83,83.80 L343.17,83.80 L343.50,83.80 L343.83,83.80 L344.17,83.80 L344.50,83.80 L344.83,83.80 L345.17,83.80 L345.50,83.80 L345.83,83.80 L346.17,83.80 L346.50,83.80 L346.83,83.80 L347.17,83.80 L347.50,83.80 L347.83,83.80 L348.17,83.80 L348.50,83.80 L348.83,83.80 L349.17,83.80 L349.50,83.80 L349.83,83.80 L350.17,83.80 L350.50,83.80 L350.83,83.80 L351.17,83.80 L351.50,83.80 L351.83,83.80 L352.17,83.80 L352.50,83.80 L352.83,83.80 L353.17,83.80 L353.50,83.80 L353.83,83.80 L354.17,83.80 L354.50,83.80 L354.83,83.80 L355.17,83.80 L355.50,83.80 L355.83,83.80 L356.17,83.80 L356.50,83.80 L356.83,83.80 L357.17,83.80 L357.50,83.80 L357.83,83.80 L358.17,83.80 L358.50,83.80 L358.83,83.80 L359.17,83.80 L359.50,83.80 L359.83,83.80 L360.17,83.80 L360.50,83.80 L360.83,83.80 L361.17,83.80 L361.50,83.80 L361.83,83.80 L362.17,83.80 L362.50,83.80 L362.83,83.80 L363.17,83.80 L363.50,83.80 L363.83,83.80 L364.17,83.80 L364.50,83.80 L364.83,83.80 L365.17,83.80 L365.50,83.80 L365.83,83.80 L366.17,83.80 L366.50,83.80 L366.83,83.80 L367.17,83.80 L367.50,83.80 L367.83,83.80 L368.17,83.80 L368.50,83.80 L368.83,83.80 L369.17,83.80 L369.50,83.80 L369.83,83.80 L370.17,83.80 L370.50,83.80 L370.83,83.80 L371.17,83.80 L371.50,83.80 L371.83,83.80 L372.17,83.80 L372.50,83.80 L372.83,83.80 L373.17,83.80 L373.50,83.80 L373.83,83.79 L374.17,83.79 L374.50,83.79 L374.83,83.78 L375.17,83.77 L375.50,83.76 L375.83,83.74 L376.17,83.71 L376.50,83.68 L376.83,83.64 L377.17,83.57 L377.50,83.49 L377.83,83.38 L378.17,83.24 L378.50,83.06 L378.83,82.83 L379.17,82.54 L379.50,82.17 L379.83,81.71 L380.17,81.15 L380.50,80.46 L380.83,79.63 L381.17,78.63 L381.50,77.46 L381.83,76.08 L382.17,74.49 L382.50,72.66 L382.83,70.59 L383.17,68.27 L383.50,65.69 L383.83,62.87 L384.17,59.81 L384.50,56.54 L384.83,53.09 L385.17,49.50 L385.50,45.82 L385.83,42.10 L386.17,38.40 L386.50,34.80 L386.83,31.37 L387.17,28.18 L387.50,25.29 L387.83,22.78 L388.17,20.71 L388.50,19.12 L388.83,18.05 L389.17,17.55 L389.50,17.63 L389.83,18.41 L390.17,19.89 L390.50,22.00 L390.83,24.69 L391.17,27.87 L391.50,31.45 L391.83,35.34 L392.17,39.41 L392.50,43.59 L392.83,47.76 L393.17,51.85 L393.50,55.78 L393.83,59.49 L394.17,62.94 L394.50,66.09 L394.83,68.93 L395.17,71.45 L395.50,73.65 L395.83,75.55 L396.17,77.17 L396.50,78.53 L396.83,79.65 L397.17,80.57 L397.50,81.31 L397.83,81.91 L398.17,82.37 L398.50,82.74 L398.83,83.02 L399.17,83.23 L399.50,83.39 L399.83,83.51 L400.17,83.59 L400.50,83.65 L400.83,83.70 L401.17,83.73 L401.50,83.75 L401.83,83.77 L402.17,83.78 L402.50,83.79 L402.83,83.79 L403.17,83.79 L403.50,83.80 L403.83,83.80 L404.17,83.80 L404.50,83.80 L404.83,83.80 L405.17,83.80 L405.50,83.80 L405.83,83.80 L406.17,83.80 L406.50,83.80 L406.83,83.80 L407.17,83.80 L407.50,83.80 L407.83,83.80 L408.17,83.80 L408.50,83.80 L408.83,83.80 L409.17,83.80 L409.50,83.80 L409.83,83.80 L410.17,83.80 L410.50,83.80 L410.83,83.80 L411.17,83.80 L411.50,83.80 L411.83,83.80 L412.17,83.80 L412.50,83.80" fill="none" stroke="#c03a30" stroke-width="0.9" opacity="1.0" stroke-linejoin="round"/>
<rect x="341.5" y="13.0" width="71.5" height="71.2" fill="none" stroke="#9a9a9a" stroke-width="0.9"/>
<line x1="341.5" y1="84.2" x2="413.0" y2="84.2" stroke="#8a6a66" stroke-width="1.0" />
<line x1="340.5" y1="24.866666666666667" x2="341.5" y2="24.866666666666667" stroke="#aaa" stroke-width="0.5" />
<line x1="340.5" y1="36.733333333333334" x2="341.5" y2="36.733333333333334" stroke="#aaa" stroke-width="0.5" />
<line x1="340.5" y1="48.6" x2="341.5" y2="48.6" stroke="#aaa" stroke-width="0.5" />
<line x1="340.5" y1="60.46666666666667" x2="341.5" y2="60.46666666666667" stroke="#aaa" stroke-width="0.5" />
<line x1="340.5" y1="72.33333333333334" x2="341.5" y2="72.33333333333334" stroke="#aaa" stroke-width="0.5" />
<text x="409.2" y="23.7" font-size="9.8" text-anchor="end" font-weight="normal" fill="#222" stroke="#222" stroke-width="0.1" >&#946;1</text>
<rect x="352.5" y="82.60000000000001" width="2" height="1.4" fill="#333" stroke="none" stroke-width="1" />
<path d="M425.2,83.8 L425.20,83.80 L425.53,83.80 L425.87,83.80 L426.20,83.80 L426.53,83.80 L426.87,83.80 L427.20,83.80 L427.53,83.80 L427.87,83.80 L428.20,83.80 L428.53,83.80 L428.87,83.80 L429.20,83.80 L429.53,83.80 L429.87,83.80 L430.20,83.80 L430.53,83.80 L430.87,83.80 L431.20,83.80 L431.53,83.80 L431.87,83.80 L432.20,83.80 L432.53,83.80 L432.87,83.80 L433.20,83.80 L433.53,83.79 L433.87,83.77 L434.20,83.74 L434.53,83.66 L434.87,83.50 L435.20,83.20 L435.53,82.64 L435.87,81.67 L436.20,80.08 L436.53,77.61 L436.87,74.00 L437.20,69.04 L437.53,62.63 L437.87,54.91 L438.20,46.26 L438.53,37.38 L438.87,29.17 L439.20,22.60 L439.53,18.54 L439.87,17.55 L440.20,19.31 L440.53,23.39 L440.87,29.35 L441.20,36.57 L441.53,44.38 L441.87,52.13 L442.20,59.33 L442.53,65.60 L442.87,70.77 L443.20,74.83 L443.53,77.85 L443.87,80.01 L444.20,81.47 L444.53,82.43 L444.87,83.02 L445.20,83.37 L445.53,83.58 L445.87,83.69 L446.20,83.74 L446.53,83.77 L446.87,83.79 L447.20,83.79 L447.53,83.80 L447.87,83.80 L448.20,83.80 L448.53,83.80 L448.87,83.80 L449.20,83.80 L449.53,83.80 L449.87,83.80 L450.20,83.80 L450.53,83.80 L450.87,83.80 L451.20,83.80 L451.53,83.80 L451.87,83.80 L452.20,83.80 L452.53,83.80 L452.87,83.80 L453.20,83.80 L453.53,83.80 L453.87,83.80 L454.20,83.80 L454.53,83.80 L454.87,83.80 L455.20,83.80 L455.53,83.80 L455.87,83.80 L456.20,83.80 L456.53,83.80 L456.87,83.80 L457.20,83.80 L457.53,83.80 L457.87,83.80 L458.20,83.80 L458.53,83.80 L458.87,83.80 L459.20,83.80 L459.2,83.8 Z" fill="#dcdcdc" stroke="#b8b8b8" stroke-width="0.6" opacity="1.0"/>
<path d="M425.20,83.80 L425.53,83.80 L425.87,83.80 L426.20,83.80 L426.54,83.80 L426.87,83.80 L427.20,83.80 L427.54,83.80 L427.87,83.80 L428.20,83.80 L428.54,83.80 L428.87,83.80 L429.21,83.80 L429.54,83.80 L429.87,83.80 L430.21,83.80 L430.54,83.80 L430.87,83.80 L431.21,83.80 L431.54,83.80 L431.88,83.80 L432.21,83.80 L432.54,83.80 L432.88,83.80 L433.21,83.80 L433.55,83.80 L433.88,83.80 L434.21,83.80 L434.55,83.80 L434.88,83.80 L435.21,83.80 L435.55,83.80 L435.88,83.80 L436.22,83.80 L436.55,83.80 L436.88,83.80 L437.22,83.80 L437.55,83.80 L437.88,83.80 L438.22,83.80 L438.55,83.80 L438.89,83.80 L439.22,83.80 L439.55,83.80 L439.89,83.80 L440.22,83.80 L440.56,83.80 L440.89,83.80 L441.22,83.80 L441.56,83.80 L441.89,83.80 L442.22,83.80 L442.56,83.80 L442.89,83.80 L443.23,83.80 L443.56,83.80 L443.89,83.80 L444.23,83.80 L444.56,83.80 L444.89,83.80 L445.23,83.80 L445.56,83.80 L445.90,83.80 L446.23,83.80 L446.56,83.80 L446.90,83.80 L447.23,83.80 L447.57,83.80 L447.90,83.80 L448.23,83.80 L448.57,83.80 L448.90,83.80 L449.23,83.80 L449.57,83.80 L449.90,83.80 L450.24,83.80 L450.57,83.80 L450.90,83.80 L451.24,83.80 L451.57,83.80 L451.90,83.80 L452.24,83.80 L452.57,83.80 L452.91,83.80 L453.24,83.80 L453.57,83.80 L453.91,83.80 L454.24,83.80 L454.58,83.80 L454.91,83.80 L455.24,83.80 L455.58,83.80 L455.91,83.80 L456.24,83.80 L456.58,83.79 L456.91,83.79 L457.25,83.79 L457.58,83.79 L457.91,83.78 L458.25,83.77 L458.58,83.76 L458.91,83.75 L459.25,83.73 L459.58,83.70 L459.92,83.67 L460.25,83.63 L460.58,83.57 L460.92,83.50 L461.25,83.41 L461.59,83.29 L461.92,83.15 L462.25,82.97 L462.59,82.74 L462.92,82.47 L463.25,82.13 L463.59,81.73 L463.92,81.24 L464.26,80.66 L464.59,79.97 L464.92,79.16 L465.26,78.22 L465.59,77.13 L465.92,75.88 L466.26,74.47 L466.59,72.87 L466.93,71.09 L467.26,69.11 L467.59,66.94 L467.93,64.57 L468.26,62.03 L468.60,59.31 L468.93,56.43 L469.26,53.42 L469.60,50.30 L469.93,47.11 L470.26,43.89 L470.60,40.67 L470.93,37.50 L471.27,34.43 L471.60,31.51 L471.93,28.78 L472.27,26.30 L472.60,24.11 L472.93,22.24 L473.27,20.75 L473.60,19.64 L473.94,18.96 L474.27,18.70 L474.60,19.00 L474.94,20.02 L475.27,21.72 L475.61,24.06 L475.94,26.94 L476.27,30.29 L476.61,34.01 L476.94,37.99 L477.27,42.11 L477.61,46.29 L477.94,50.43 L478.28,54.45 L478.61,58.26 L478.94,61.83 L479.28,65.12 L479.61,68.09 L479.94,70.73 L480.28,73.05 L480.61,75.06 L480.95,76.77 L481.28,78.21 L481.61,79.41 L481.95,80.38 L482.28,81.17 L482.62,81.80 L482.95,82.30 L483.28,82.68 L483.62,82.98 L483.95,83.20 L484.28,83.37 L484.62,83.50 L484.95,83.59 L485.29,83.65 L485.62,83.70 L485.95,83.73 L486.29,83.75 L486.62,83.77 L486.95,83.78 L487.29,83.79 L487.62,83.79 L487.96,83.79 L488.29,83.80 L488.62,83.80 L488.96,83.80 L489.29,83.80 L489.63,83.80 L489.96,83.80 L490.29,83.80 L490.63,83.80 L490.96,83.80 L491.29,83.80 L491.63,83.80 L491.96,83.80 L492.30,83.80 L492.63,83.80 L492.96,83.80 L493.30,83.80 L493.63,83.80 L493.96,83.80 L494.30,83.80 L494.63,83.80 L494.97,83.80 L495.30,83.80" fill="none" stroke="#d0905a" stroke-width="0.8" opacity="1.0" stroke-linejoin="round"/>
<path d="M425.20,83.80 L425.53,83.80 L425.87,83.80 L426.20,83.80 L426.54,83.80 L426.87,83.80 L427.20,83.80 L427.54,83.80 L427.87,83.80 L428.20,83.80 L428.54,83.80 L428.87,83.80 L429.21,83.80 L429.54,83.80 L429.87,83.80 L430.21,83.80 L430.54,83.80 L430.87,83.80 L431.21,83.80 L431.54,83.80 L431.88,83.80 L432.21,83.80 L432.54,83.80 L432.88,83.80 L433.21,83.80 L433.55,83.80 L433.88,83.80 L434.21,83.80 L434.55,83.80 L434.88,83.80 L435.21,83.80 L435.55,83.80 L435.88,83.80 L436.22,83.80 L436.55,83.80 L436.88,83.80 L437.22,83.80 L437.55,83.80 L437.88,83.80 L438.22,83.80 L438.55,83.80 L438.89,83.80 L439.22,83.80 L439.55,83.80 L439.89,83.80 L440.22,83.80 L440.56,83.80 L440.89,83.80 L441.22,83.80 L441.56,83.80 L441.89,83.80 L442.22,83.80 L442.56,83.80 L442.89,83.80 L443.23,83.80 L443.56,83.80 L443.89,83.80 L444.23,83.80 L444.56,83.80 L444.89,83.80 L445.23,83.80 L445.56,83.80 L445.90,83.80 L446.23,83.80 L446.56,83.80 L446.90,83.80 L447.23,83.80 L447.57,83.80 L447.90,83.80 L448.23,83.80 L448.57,83.80 L448.90,83.80 L449.23,83.80 L449.57,83.80 L449.90,83.80 L450.24,83.80 L450.57,83.80 L450.90,83.80 L451.24,83.80 L451.57,83.80 L451.90,83.80 L452.24,83.80 L452.57,83.80 L452.91,83.80 L453.24,83.80 L453.57,83.80 L453.91,83.80 L454.24,83.80 L454.58,83.80 L454.91,83.80 L455.24,83.80 L455.58,83.80 L455.91,83.80 L456.24,83.80 L456.58,83.80 L456.91,83.80 L457.25,83.80 L457.58,83.80 L457.91,83.80 L458.25,83.80 L458.58,83.80 L458.91,83.80 L459.25,83.80 L459.58,83.80 L459.92,83.79 L460.25,83.79 L460.58,83.79 L460.92,83.78 L461.25,83.77 L461.59,83.76 L461.92,83.74 L462.25,83.72 L462.59,83.68 L462.92,83.64 L463.25,83.57 L463.59,83.49 L463.92,83.37 L464.26,83.21 L464.59,83.01 L464.92,82.75 L465.26,82.41 L465.59,81.98 L465.92,81.45 L466.26,80.79 L466.59,79.97 L466.93,78.99 L467.26,77.81 L467.59,76.40 L467.93,74.76 L468.26,72.86 L468.60,70.69 L468.93,68.24 L469.26,65.51 L469.60,62.50 L469.93,59.24 L470.26,55.75 L470.60,52.07 L470.93,48.25 L471.27,44.35 L471.60,40.45 L471.93,36.62 L472.27,32.94 L472.60,29.50 L472.93,26.38 L473.27,23.67 L473.60,21.44 L473.94,19.74 L474.27,18.62 L474.60,18.13 L474.94,18.31 L475.27,19.28 L475.61,21.02 L475.94,23.47 L476.27,26.54 L476.61,30.12 L476.94,34.09 L477.27,38.34 L477.61,42.73 L477.94,47.16 L478.28,51.51 L478.61,55.69 L478.94,59.64 L479.28,63.28 L479.61,66.59 L479.94,69.55 L480.28,72.14 L480.61,74.38 L480.95,76.28 L481.28,77.87 L481.61,79.18 L481.95,80.25 L482.28,81.10 L482.62,81.78 L482.95,82.30 L483.28,82.70 L483.62,83.01 L483.95,83.23 L484.28,83.40 L484.62,83.52 L484.95,83.61 L485.29,83.67 L485.62,83.71 L485.95,83.74 L486.29,83.76 L486.62,83.78 L486.95,83.78 L487.29,83.79 L487.62,83.79 L487.96,83.80 L488.29,83.80 L488.62,83.80 L488.96,83.80 L489.29,83.80 L489.63,83.80 L489.96,83.80 L490.29,83.80 L490.63,83.80 L490.96,83.80 L491.29,83.80 L491.63,83.80 L491.96,83.80 L492.30,83.80 L492.63,83.80 L492.96,83.80 L493.30,83.80 L493.63,83.80 L493.96,83.80 L494.30,83.80 L494.63,83.80 L494.97,83.80 L495.30,83.80" fill="none" stroke="#4a64b0" stroke-width="0.9" opacity="1.0" stroke-linejoin="round"/>
<path d="M425.20,83.80 L425.53,83.80 L425.87,83.80 L426.20,83.80 L426.54,83.80 L426.87,83.80 L427.20,83.80 L427.54,83.80 L427.87,83.80 L428.20,83.80 L428.54,83.80 L428.87,83.80 L429.21,83.80 L429.54,83.80 L429.87,83.80 L430.21,83.80 L430.54,83.80 L430.87,83.80 L431.21,83.80 L431.54,83.80 L431.88,83.80 L432.21,83.80 L432.54,83.80 L432.88,83.80 L433.21,83.80 L433.55,83.80 L433.88,83.80 L434.21,83.80 L434.55,83.80 L434.88,83.80 L435.21,83.80 L435.55,83.80 L435.88,83.80 L436.22,83.80 L436.55,83.80 L436.88,83.80 L437.22,83.80 L437.55,83.80 L437.88,83.80 L438.22,83.80 L438.55,83.80 L438.89,83.80 L439.22,83.80 L439.55,83.80 L439.89,83.80 L440.22,83.80 L440.56,83.80 L440.89,83.80 L441.22,83.80 L441.56,83.80 L441.89,83.80 L442.22,83.80 L442.56,83.80 L442.89,83.80 L443.23,83.80 L443.56,83.80 L443.89,83.80 L444.23,83.80 L444.56,83.80 L444.89,83.80 L445.23,83.80 L445.56,83.80 L445.90,83.80 L446.23,83.80 L446.56,83.80 L446.90,83.80 L447.23,83.80 L447.57,83.80 L447.90,83.80 L448.23,83.80 L448.57,83.80 L448.90,83.80 L449.23,83.80 L449.57,83.80 L449.90,83.80 L450.24,83.80 L450.57,83.80 L450.90,83.80 L451.24,83.80 L451.57,83.80 L451.90,83.80 L452.24,83.80 L452.57,83.80 L452.91,83.80 L453.24,83.80 L453.57,83.80 L453.91,83.80 L454.24,83.80 L454.58,83.80 L454.91,83.80 L455.24,83.80 L455.58,83.80 L455.91,83.80 L456.24,83.80 L456.58,83.80 L456.91,83.80 L457.25,83.80 L457.58,83.80 L457.91,83.80 L458.25,83.80 L458.58,83.80 L458.91,83.80 L459.25,83.80 L459.58,83.79 L459.92,83.79 L460.25,83.79 L460.58,83.78 L460.92,83.77 L461.25,83.75 L461.59,83.73 L461.92,83.70 L462.25,83.66 L462.59,83.61 L462.92,83.53 L463.25,83.43 L463.59,83.29 L463.92,83.12 L464.26,82.88 L464.59,82.58 L464.92,82.20 L465.26,81.72 L465.59,81.12 L465.92,80.39 L466.26,79.49 L466.59,78.40 L466.93,77.11 L467.26,75.58 L467.59,73.81 L467.93,71.76 L468.26,69.44 L468.60,66.84 L468.93,63.95 L469.26,60.80 L469.60,57.41 L469.93,53.80 L470.26,50.03 L470.60,46.14 L470.93,42.22 L471.27,38.32 L471.60,34.54 L471.93,30.95 L472.27,27.65 L472.60,24.71 L472.93,22.22 L473.27,20.23 L473.60,18.81 L473.94,18.00 L474.27,17.82 L474.60,18.40 L474.94,19.77 L475.27,21.88 L475.61,24.66 L475.94,28.01 L476.27,31.82 L476.61,35.96 L476.94,40.31 L477.27,44.76 L477.61,49.18 L477.94,53.48 L478.28,57.57 L478.61,61.39 L478.94,64.89 L479.28,68.04 L479.61,70.82 L479.94,73.25 L480.28,75.33 L480.61,77.08 L480.95,78.53 L481.28,79.73 L481.61,80.69 L481.95,81.45 L482.28,82.05 L482.62,82.51 L482.95,82.86 L483.28,83.13 L483.62,83.32 L483.95,83.46 L484.28,83.57 L484.62,83.64 L484.95,83.69 L485.29,83.73 L485.62,83.75 L485.95,83.77 L486.29,83.78 L486.62,83.79 L486.95,83.79 L487.29,83.80 L487.62,83.80 L487.96,83.80 L488.29,83.80 L488.62,83.80 L488.96,83.80 L489.29,83.80 L489.63,83.80 L489.96,83.80 L490.29,83.80 L490.63,83.80 L490.96,83.80 L491.29,83.80 L491.63,83.80 L491.96,83.80 L492.30,83.80 L492.63,83.80 L492.96,83.80 L493.30,83.80 L493.63,83.80 L493.96,83.80 L494.30,83.80 L494.63,83.80 L494.97,83.80 L495.30,83.80" fill="none" stroke="#4c9a44" stroke-width="0.8" opacity="1.0" stroke-linejoin="round"/>
<path d="M425.20,83.80 L425.53,83.80 L425.87,83.80 L426.20,83.80 L426.54,83.80 L426.87,83.80 L427.20,83.80 L427.54,83.80 L427.87,83.80 L428.20,83.80 L428.54,83.80 L428.87,83.80 L429.21,83.80 L429.54,83.80 L429.87,83.80 L430.21,83.80 L430.54,83.80 L430.87,83.80 L431.21,83.80 L431.54,83.80 L431.88,83.80 L432.21,83.80 L432.54,83.80 L432.88,83.80 L433.21,83.80 L433.55,83.80 L433.88,83.80 L434.21,83.80 L434.55,83.80 L434.88,83.80 L435.21,83.80 L435.55,83.80 L435.88,83.80 L436.22,83.80 L436.55,83.80 L436.88,83.80 L437.22,83.80 L437.55,83.80 L437.88,83.80 L438.22,83.80 L438.55,83.80 L438.89,83.80 L439.22,83.80 L439.55,83.80 L439.89,83.80 L440.22,83.80 L440.56,83.80 L440.89,83.80 L441.22,83.80 L441.56,83.80 L441.89,83.80 L442.22,83.80 L442.56,83.80 L442.89,83.80 L443.23,83.80 L443.56,83.80 L443.89,83.80 L444.23,83.80 L444.56,83.80 L444.89,83.80 L445.23,83.80 L445.56,83.80 L445.90,83.80 L446.23,83.80 L446.56,83.80 L446.90,83.80 L447.23,83.80 L447.57,83.80 L447.90,83.80 L448.23,83.80 L448.57,83.80 L448.90,83.80 L449.23,83.80 L449.57,83.80 L449.90,83.80 L450.24,83.80 L450.57,83.80 L450.90,83.80 L451.24,83.80 L451.57,83.80 L451.90,83.80 L452.24,83.80 L452.57,83.80 L452.91,83.80 L453.24,83.80 L453.57,83.80 L453.91,83.80 L454.24,83.80 L454.58,83.80 L454.91,83.80 L455.24,83.80 L455.58,83.80 L455.91,83.80 L456.24,83.80 L456.58,83.80 L456.91,83.80 L457.25,83.80 L457.58,83.80 L457.91,83.80 L458.25,83.80 L458.58,83.80 L458.91,83.80 L459.25,83.80 L459.58,83.80 L459.92,83.80 L460.25,83.79 L460.58,83.79 L460.92,83.79 L461.25,83.78 L461.59,83.77 L461.92,83.76 L462.25,83.74 L462.59,83.72 L462.92,83.68 L463.25,83.63 L463.59,83.56 L463.92,83.47 L464.26,83.35 L464.59,83.19 L464.92,82.98 L465.26,82.71 L465.59,82.36 L465.92,81.92 L466.26,81.37 L466.59,80.69 L466.93,79.85 L467.26,78.84 L467.59,77.63 L467.93,76.19 L468.26,74.51 L468.60,72.57 L468.93,70.36 L469.26,67.86 L469.60,65.07 L469.93,62.02 L470.26,58.71 L470.60,55.17 L470.93,51.44 L471.27,47.58 L471.60,43.65 L471.93,39.72 L472.27,35.87 L472.60,32.19 L472.93,28.75 L473.27,25.65 L473.60,22.96 L473.94,20.76 L474.27,19.11 L474.60,18.05 L474.94,17.61 L475.27,17.87 L475.61,18.93 L475.94,20.76 L476.27,23.30 L476.61,26.44 L476.94,30.10 L477.27,34.13 L477.61,38.43 L477.94,42.87 L478.28,47.33 L478.61,51.70 L478.94,55.90 L479.28,59.84 L479.61,63.48 L479.94,66.78 L480.28,69.72 L480.61,72.30 L480.95,74.52 L481.28,76.40 L481.61,77.97 L481.95,79.27 L482.28,80.32 L482.62,81.16 L482.95,81.82 L483.28,82.34 L483.62,82.73 L483.95,83.03 L484.28,83.25 L484.62,83.41 L484.95,83.53 L485.29,83.61 L485.62,83.67 L485.95,83.72 L486.29,83.74 L486.62,83.76 L486.95,83.78 L487.29,83.78 L487.62,83.79 L487.96,83.79 L488.29,83.80 L488.62,83.80 L488.96,83.80 L489.29,83.80 L489.63,83.80 L489.96,83.80 L490.29,83.80 L490.63,83.80 L490.96,83.80 L491.29,83.80 L491.63,83.80 L491.96,83.80 L492.30,83.80 L492.63,83.80 L492.96,83.80 L493.30,83.80 L493.63,83.80 L493.96,83.80 L494.30,83.80 L494.63,83.80 L494.97,83.80 L495.30,83.80" fill="none" stroke="#5a3a30" stroke-width="0.7" opacity="1.0" stroke-linejoin="round"/>
<path d="M425.20,83.80 L425.53,83.80 L425.87,83.80 L426.20,83.80 L426.54,83.80 L426.87,83.80 L427.20,83.80 L427.54,83.80 L427.87,83.80 L428.20,83.80 L428.54,83.80 L428.87,83.80 L429.21,83.80 L429.54,83.80 L429.87,83.80 L430.21,83.80 L430.54,83.80 L430.87,83.80 L431.21,83.80 L431.54,83.80 L431.88,83.80 L432.21,83.80 L432.54,83.80 L432.88,83.80 L433.21,83.80 L433.55,83.80 L433.88,83.80 L434.21,83.80 L434.55,83.80 L434.88,83.80 L435.21,83.80 L435.55,83.80 L435.88,83.80 L436.22,83.80 L436.55,83.80 L436.88,83.80 L437.22,83.80 L437.55,83.80 L437.88,83.80 L438.22,83.80 L438.55,83.80 L438.89,83.80 L439.22,83.80 L439.55,83.80 L439.89,83.80 L440.22,83.80 L440.56,83.80 L440.89,83.80 L441.22,83.80 L441.56,83.80 L441.89,83.80 L442.22,83.80 L442.56,83.80 L442.89,83.80 L443.23,83.80 L443.56,83.80 L443.89,83.80 L444.23,83.80 L444.56,83.80 L444.89,83.80 L445.23,83.80 L445.56,83.80 L445.90,83.80 L446.23,83.80 L446.56,83.80 L446.90,83.80 L447.23,83.80 L447.57,83.80 L447.90,83.80 L448.23,83.80 L448.57,83.80 L448.90,83.80 L449.23,83.80 L449.57,83.80 L449.90,83.80 L450.24,83.80 L450.57,83.80 L450.90,83.80 L451.24,83.80 L451.57,83.80 L451.90,83.80 L452.24,83.80 L452.57,83.80 L452.91,83.80 L453.24,83.80 L453.57,83.80 L453.91,83.80 L454.24,83.80 L454.58,83.80 L454.91,83.80 L455.24,83.80 L455.58,83.80 L455.91,83.80 L456.24,83.80 L456.58,83.80 L456.91,83.80 L457.25,83.80 L457.58,83.80 L457.91,83.80 L458.25,83.80 L458.58,83.80 L458.91,83.80 L459.25,83.80 L459.58,83.80 L459.92,83.80 L460.25,83.80 L460.58,83.80 L460.92,83.79 L461.25,83.79 L461.59,83.79 L461.92,83.78 L462.25,83.77 L462.59,83.76 L462.92,83.74 L463.25,83.72 L463.59,83.68 L463.92,83.64 L464.26,83.57 L464.59,83.48 L464.92,83.36 L465.26,83.21 L465.59,83.00 L465.92,82.74 L466.26,82.40 L466.59,81.97 L466.93,81.43 L467.26,80.76 L467.59,79.93 L467.93,78.94 L468.26,77.74 L468.60,76.33 L468.93,74.67 L469.26,72.76 L469.60,70.56 L469.93,68.09 L470.26,65.33 L470.60,62.29 L470.93,59.00 L471.27,55.48 L471.60,51.76 L471.93,47.91 L472.27,43.98 L472.60,40.04 L472.93,36.17 L473.27,32.46 L473.60,28.99 L473.94,25.85 L474.27,23.11 L474.60,20.86 L474.94,19.15 L475.27,18.02 L475.61,17.53 L475.94,17.71 L476.27,18.70 L476.61,20.46 L476.94,22.93 L477.27,26.03 L477.61,29.64 L477.94,33.65 L478.28,37.94 L478.61,42.37 L478.94,46.84 L479.28,51.23 L479.61,55.46 L479.94,59.43 L480.28,63.11 L480.61,66.45 L480.95,69.43 L481.28,72.04 L481.61,74.30 L481.95,76.22 L482.28,77.82 L482.62,79.15 L482.95,80.22 L483.28,81.08 L483.62,81.76 L483.95,82.29 L484.28,82.69 L484.62,83.00 L484.95,83.23 L485.29,83.40 L485.62,83.52 L485.95,83.61 L486.29,83.67 L486.62,83.71 L486.95,83.74 L487.29,83.76 L487.62,83.78 L487.96,83.78 L488.29,83.79 L488.62,83.79 L488.96,83.80 L489.29,83.80 L489.63,83.80 L489.96,83.80 L490.29,83.80 L490.63,83.80 L490.96,83.80 L491.29,83.80 L491.63,83.80 L491.96,83.80 L492.30,83.80 L492.63,83.80 L492.96,83.80 L493.30,83.80 L493.63,83.80 L493.96,83.80 L494.30,83.80 L494.63,83.80 L494.97,83.80 L495.30,83.80" fill="none" stroke="#c03a30" stroke-width="0.9" opacity="1.0" stroke-linejoin="round"/>
<rect x="424.2" y="13.0" width="71.6" height="71.2" fill="none" stroke="#9a9a9a" stroke-width="0.9"/>
<line x1="424.2" y1="84.2" x2="495.8" y2="84.2" stroke="#8a6a66" stroke-width="1.0" />
<line x1="423.2" y1="24.866666666666667" x2="424.2" y2="24.866666666666667" stroke="#aaa" stroke-width="0.5" />
<line x1="423.2" y1="36.733333333333334" x2="424.2" y2="36.733333333333334" stroke="#aaa" stroke-width="0.5" />
<line x1="423.2" y1="48.6" x2="424.2" y2="48.6" stroke="#aaa" stroke-width="0.5" />
<line x1="423.2" y1="60.46666666666667" x2="424.2" y2="60.46666666666667" stroke="#aaa" stroke-width="0.5" />
<line x1="423.2" y1="72.33333333333334" x2="424.2" y2="72.33333333333334" stroke="#aaa" stroke-width="0.5" />
<text x="492.0" y="23.7" font-size="9.8" text-anchor="end" font-weight="normal" fill="#222" stroke="#222" stroke-width="0.1" >&#946;2</text>
<rect x="435.2" y="82.60000000000001" width="2" height="1.4" fill="#333" stroke="none" stroke-width="1" />
<path d="M342.5,161.1 L342.50,161.10 L342.83,161.10 L343.17,161.10 L343.50,161.10 L343.83,161.10 L344.17,161.10 L344.50,161.10 L344.83,161.10 L345.17,161.10 L345.50,161.10 L345.83,161.10 L346.17,161.10 L346.50,161.10 L346.83,161.10 L347.17,161.10 L347.50,161.10 L347.83,161.10 L348.17,161.10 L348.50,161.10 L348.83,161.10 L349.17,161.10 L349.50,161.10 L349.83,161.10 L350.17,161.10 L350.50,161.10 L350.83,161.09 L351.17,161.07 L351.50,161.04 L351.83,160.96 L352.17,160.80 L352.50,160.50 L352.83,159.94 L353.17,158.97 L353.50,157.38 L353.83,154.92 L354.17,151.32 L354.50,146.36 L354.83,139.96 L355.17,132.25 L355.50,123.62 L355.83,114.75 L356.17,106.55 L356.50,99.99 L356.83,95.94 L357.17,94.95 L357.50,96.71 L357.83,100.78 L358.17,106.73 L358.50,113.94 L358.83,121.73 L359.17,129.48 L359.50,136.66 L359.83,142.92 L360.17,148.09 L360.50,152.14 L360.83,155.16 L361.17,157.31 L361.50,158.78 L361.83,159.73 L362.17,160.32 L362.50,160.67 L362.83,160.88 L363.17,160.99 L363.50,161.04 L363.83,161.07 L364.17,161.09 L364.50,161.09 L364.83,161.10 L365.17,161.10 L365.50,161.10 L365.83,161.10 L366.17,161.10 L366.50,161.10 L366.83,161.10 L367.17,161.10 L367.50,161.10 L367.83,161.10 L368.17,161.10 L368.50,161.10 L368.83,161.10 L369.17,161.10 L369.50,161.10 L369.83,161.10 L370.17,161.10 L370.50,161.10 L370.83,161.10 L371.17,161.10 L371.50,161.10 L371.83,161.10 L372.17,161.10 L372.50,161.10 L372.83,161.10 L373.17,161.10 L373.50,161.10 L373.83,161.10 L374.17,161.10 L374.50,161.10 L374.83,161.10 L375.17,161.10 L375.50,161.10 L375.83,161.10 L376.17,161.10 L376.50,161.10 L376.5,161.1 Z" fill="#dcdcdc" stroke="#b8b8b8" stroke-width="0.6" opacity="1.0"/>
<path d="M342.50,161.10 L342.83,161.10 L343.17,161.10 L343.50,161.10 L343.83,161.10 L344.17,161.10 L344.50,161.10 L344.83,161.10 L345.17,161.10 L345.50,161.10 L345.83,161.10 L346.17,161.10 L346.50,161.10 L346.83,161.10 L347.17,161.10 L347.50,161.10 L347.83,161.10 L348.17,161.10 L348.50,161.10 L348.83,161.10 L349.17,161.10 L349.50,161.10 L349.83,161.10 L350.17,161.10 L350.50,161.10 L350.83,161.10 L351.17,161.10 L351.50,161.10 L351.83,161.10 L352.17,161.10 L352.50,161.10 L352.83,161.10 L353.17,161.10 L353.50,161.10 L353.83,161.10 L354.17,161.10 L354.50,161.10 L354.83,161.10 L355.17,161.10 L355.50,161.10 L355.83,161.10 L356.17,161.10 L356.50,161.10 L356.83,161.10 L357.17,161.10 L357.50,161.10 L357.83,161.10 L358.17,161.10 L358.50,161.10 L358.83,161.10 L359.17,161.10 L359.50,161.10 L359.83,161.10 L360.17,161.10 L360.50,161.10 L360.83,161.10 L361.17,161.10 L361.50,161.10 L361.83,161.10 L362.17,161.10 L362.50,161.10 L362.83,161.10 L363.17,161.10 L363.50,161.10 L363.83,161.10 L364.17,161.10 L364.50,161.10 L364.83,161.10 L365.17,161.10 L365.50,161.10 L365.83,161.10 L366.17,161.10 L366.50,161.10 L366.83,161.10 L367.17,161.10 L367.50,161.10 L367.83,161.10 L368.17,161.10 L368.50,161.10 L368.83,161.10 L369.17,161.09 L369.50,161.09 L369.83,161.09 L370.17,161.09 L370.50,161.08 L370.83,161.07 L371.17,161.06 L371.50,161.05 L371.83,161.04 L372.17,161.01 L372.50,160.99 L372.83,160.95 L373.17,160.91 L373.50,160.85 L373.83,160.78 L374.17,160.68 L374.50,160.57 L374.83,160.43 L375.17,160.26 L375.50,160.04 L375.83,159.79 L376.17,159.47 L376.50,159.10 L376.83,158.66 L377.17,158.13 L377.50,157.52 L377.83,156.80 L378.17,155.96 L378.50,155.01 L378.83,153.92 L379.17,152.68 L379.50,151.28 L379.83,149.73 L380.17,148.01 L380.50,146.11 L380.83,144.04 L381.17,141.81 L381.50,139.41 L381.83,136.85 L382.17,134.16 L382.50,131.34 L382.83,128.42 L383.17,125.44 L383.50,122.41 L383.83,119.37 L384.17,116.36 L384.50,113.41 L384.83,110.58 L385.17,107.89 L385.50,105.40 L385.83,103.13 L386.17,101.13 L386.50,99.43 L386.83,98.05 L387.17,97.03 L387.50,96.38 L387.83,96.11 L388.17,96.30 L388.50,97.13 L388.83,98.56 L389.17,100.56 L389.50,103.07 L389.83,106.02 L390.17,109.33 L390.50,112.92 L390.83,116.70 L391.17,120.58 L391.50,124.49 L391.83,128.34 L392.17,132.08 L392.50,135.64 L392.83,138.98 L393.17,142.07 L393.50,144.89 L393.83,147.43 L394.17,149.68 L394.50,151.66 L394.83,153.37 L395.17,154.83 L395.50,156.07 L395.83,157.10 L396.17,157.95 L396.50,158.64 L396.83,159.20 L397.17,159.65 L397.50,160.00 L397.83,160.28 L398.17,160.49 L398.50,160.65 L398.83,160.77 L399.17,160.86 L399.50,160.93 L399.83,160.98 L400.17,161.02 L400.50,161.04 L400.83,161.06 L401.17,161.07 L401.50,161.08 L401.83,161.09 L402.17,161.09 L402.50,161.09 L402.83,161.10 L403.17,161.10 L403.50,161.10 L403.83,161.10 L404.17,161.10 L404.50,161.10 L404.83,161.10 L405.17,161.10 L405.50,161.10 L405.83,161.10 L406.17,161.10 L406.50,161.10 L406.83,161.10 L407.17,161.10 L407.50,161.10 L407.83,161.10 L408.17,161.10 L408.50,161.10 L408.83,161.10 L409.17,161.10 L409.50,161.10 L409.83,161.10 L410.17,161.10 L410.50,161.10 L410.83,161.10 L411.17,161.10 L411.50,161.10 L411.83,161.10 L412.17,161.10 L412.50,161.10" fill="none" stroke="#d0905a" stroke-width="0.8" opacity="1.0" stroke-linejoin="round"/>
<path d="M342.50,161.10 L342.83,161.10 L343.17,161.10 L343.50,161.10 L343.83,161.10 L344.17,161.10 L344.50,161.10 L344.83,161.10 L345.17,161.10 L345.50,161.10 L345.83,161.10 L346.17,161.10 L346.50,161.10 L346.83,161.10 L347.17,161.10 L347.50,161.10 L347.83,161.10 L348.17,161.10 L348.50,161.10 L348.83,161.10 L349.17,161.10 L349.50,161.10 L349.83,161.10 L350.17,161.10 L350.50,161.10 L350.83,161.10 L351.17,161.10 L351.50,161.10 L351.83,161.10 L352.17,161.10 L352.50,161.10 L352.83,161.10 L353.17,161.10 L353.50,161.10 L353.83,161.10 L354.17,161.10 L354.50,161.10 L354.83,161.10 L355.17,161.10 L355.50,161.10 L355.83,161.10 L356.17,161.10 L356.50,161.10 L356.83,161.10 L357.17,161.10 L357.50,161.10 L357.83,161.10 L358.17,161.10 L358.50,161.10 L358.83,161.10 L359.17,161.10 L359.50,161.10 L359.83,161.10 L360.17,161.10 L360.50,161.10 L360.83,161.10 L361.17,161.10 L361.50,161.10 L361.83,161.10 L362.17,161.10 L362.50,161.10 L362.83,161.10 L363.17,161.10 L363.50,161.10 L363.83,161.10 L364.17,161.10 L364.50,161.10 L364.83,161.10 L365.17,161.10 L365.50,161.10 L365.83,161.10 L366.17,161.10 L366.50,161.10 L366.83,161.10 L367.17,161.10 L367.50,161.10 L367.83,161.10 L368.17,161.10 L368.50,161.10 L368.83,161.10 L369.17,161.10 L369.50,161.10 L369.83,161.10 L370.17,161.10 L370.50,161.10 L370.83,161.10 L371.17,161.10 L371.50,161.10 L371.83,161.10 L372.17,161.10 L372.50,161.10 L372.83,161.09 L373.17,161.09 L373.50,161.09 L373.83,161.08 L374.17,161.07 L374.50,161.06 L374.83,161.04 L375.17,161.02 L375.50,160.98 L375.83,160.94 L376.17,160.88 L376.50,160.80 L376.83,160.69 L377.17,160.55 L377.50,160.37 L377.83,160.14 L378.17,159.85 L378.50,159.49 L378.83,159.03 L379.17,158.47 L379.50,157.79 L379.83,156.97 L380.17,155.99 L380.50,154.83 L380.83,153.47 L381.17,151.89 L381.50,150.08 L381.83,148.03 L382.17,145.73 L382.50,143.18 L382.83,140.39 L383.17,137.37 L383.50,134.13 L383.83,130.72 L384.17,127.16 L384.50,123.52 L384.83,119.84 L385.17,116.18 L385.50,112.62 L385.83,109.23 L386.17,106.06 L386.50,103.21 L386.83,100.72 L387.17,98.67 L387.50,97.10 L387.83,96.05 L388.17,95.54 L388.50,95.63 L388.83,96.40 L389.17,97.86 L389.50,99.95 L389.83,102.61 L390.17,105.76 L390.50,109.31 L390.83,113.15 L391.17,117.18 L391.50,121.31 L391.83,125.44 L392.17,129.49 L392.50,133.38 L392.83,137.05 L393.17,140.46 L393.50,143.58 L393.83,146.39 L394.17,148.88 L394.50,151.06 L394.83,152.94 L395.17,154.54 L395.50,155.88 L395.83,156.99 L396.17,157.90 L396.50,158.64 L396.83,159.23 L397.17,159.69 L397.50,160.05 L397.83,160.32 L398.17,160.53 L398.50,160.69 L398.83,160.81 L399.17,160.89 L399.50,160.96 L399.83,161.00 L400.17,161.03 L400.50,161.05 L400.83,161.07 L401.17,161.08 L401.50,161.09 L401.83,161.09 L402.17,161.09 L402.50,161.10 L402.83,161.10 L403.17,161.10 L403.50,161.10 L403.83,161.10 L404.17,161.10 L404.50,161.10 L404.83,161.10 L405.17,161.10 L405.50,161.10 L405.83,161.10 L406.17,161.10 L406.50,161.10 L406.83,161.10 L407.17,161.10 L407.50,161.10 L407.83,161.10 L408.17,161.10 L408.50,161.10 L408.83,161.10 L409.17,161.10 L409.50,161.10 L409.83,161.10 L410.17,161.10 L410.50,161.10 L410.83,161.10 L411.17,161.10 L411.50,161.10 L411.83,161.10 L412.17,161.10 L412.50,161.10" fill="none" stroke="#4a64b0" stroke-width="0.9" opacity="1.0" stroke-linejoin="round"/>
<path d="M342.50,161.10 L342.83,161.10 L343.17,161.10 L343.50,161.10 L343.83,161.10 L344.17,161.10 L344.50,161.10 L344.83,161.10 L345.17,161.10 L345.50,161.10 L345.83,161.10 L346.17,161.10 L346.50,161.10 L346.83,161.10 L347.17,161.10 L347.50,161.10 L347.83,161.10 L348.17,161.10 L348.50,161.10 L348.83,161.10 L349.17,161.10 L349.50,161.10 L349.83,161.10 L350.17,161.10 L350.50,161.10 L350.83,161.10 L351.17,161.10 L351.50,161.10 L351.83,161.10 L352.17,161.10 L352.50,161.10 L352.83,161.10 L353.17,161.10 L353.50,161.10 L353.83,161.10 L354.17,161.10 L354.50,161.10 L354.83,161.10 L355.17,161.10 L355.50,161.10 L355.83,161.10 L356.17,161.10 L356.50,161.10 L356.83,161.10 L357.17,161.10 L357.50,161.10 L357.83,161.10 L358.17,161.10 L358.50,161.10 L358.83,161.10 L359.17,161.10 L359.50,161.10 L359.83,161.10 L360.17,161.10 L360.50,161.10 L360.83,161.10 L361.17,161.10 L361.50,161.10 L361.83,161.10 L362.17,161.10 L362.50,161.10 L362.83,161.10 L363.17,161.10 L363.50,161.10 L363.83,161.10 L364.17,161.10 L364.50,161.10 L364.83,161.10 L365.17,161.10 L365.50,161.10 L365.83,161.10 L366.17,161.10 L366.50,161.10 L366.83,161.10 L367.17,161.10 L367.50,161.10 L367.83,161.10 L368.17,161.10 L368.50,161.10 L368.83,161.10 L369.17,161.10 L369.50,161.10 L369.83,161.10 L370.17,161.10 L370.50,161.10 L370.83,161.10 L371.17,161.10 L371.50,161.10 L371.83,161.10 L372.17,161.09 L372.50,161.09 L372.83,161.09 L373.17,161.08 L373.50,161.08 L373.83,161.06 L374.17,161.05 L374.50,161.03 L374.83,161.00 L375.17,160.96 L375.50,160.91 L375.83,160.84 L376.17,160.74 L376.50,160.62 L376.83,160.46 L377.17,160.26 L377.50,160.00 L377.83,159.67 L378.17,159.26 L378.50,158.76 L378.83,158.14 L379.17,157.38 L379.50,156.48 L379.83,155.41 L380.17,154.14 L380.50,152.67 L380.83,150.97 L381.17,149.03 L381.50,146.85 L381.83,144.41 L382.17,141.73 L382.50,138.80 L382.83,135.66 L383.17,132.31 L383.50,128.81 L383.83,125.19 L384.17,121.50 L384.50,117.81 L384.83,114.17 L385.17,110.67 L385.50,107.37 L385.83,104.34 L386.17,101.65 L386.50,99.36 L386.83,97.53 L387.17,96.21 L387.50,95.43 L387.83,95.20 L388.17,95.63 L388.50,96.76 L388.83,98.55 L389.17,100.94 L389.50,103.87 L389.83,107.25 L390.17,110.97 L390.50,114.94 L390.83,119.05 L391.17,123.21 L391.50,127.33 L391.83,131.32 L392.17,135.13 L392.50,138.69 L392.83,141.97 L393.17,144.95 L393.50,147.61 L393.83,149.96 L394.17,151.99 L394.50,153.74 L394.83,155.21 L395.17,156.44 L395.50,157.46 L395.83,158.28 L396.17,158.94 L396.50,159.46 L396.83,159.87 L397.17,160.19 L397.50,160.43 L397.83,160.62 L398.17,160.75 L398.50,160.85 L398.83,160.93 L399.17,160.98 L399.50,161.02 L399.83,161.04 L400.17,161.06 L400.50,161.07 L400.83,161.08 L401.17,161.09 L401.50,161.09 L401.83,161.10 L402.17,161.10 L402.50,161.10 L402.83,161.10 L403.17,161.10 L403.50,161.10 L403.83,161.10 L404.17,161.10 L404.50,161.10 L404.83,161.10 L405.17,161.10 L405.50,161.10 L405.83,161.10 L406.17,161.10 L406.50,161.10 L406.83,161.10 L407.17,161.10 L407.50,161.10 L407.83,161.10 L408.17,161.10 L408.50,161.10 L408.83,161.10 L409.17,161.10 L409.50,161.10 L409.83,161.10 L410.17,161.10 L410.50,161.10 L410.83,161.10 L411.17,161.10 L411.50,161.10 L411.83,161.10 L412.17,161.10 L412.50,161.10" fill="none" stroke="#4c9a44" stroke-width="0.8" opacity="1.0" stroke-linejoin="round"/>
<path d="M342.50,161.10 L342.83,161.10 L343.17,161.10 L343.50,161.10 L343.83,161.10 L344.17,161.10 L344.50,161.10 L344.83,161.10 L345.17,161.10 L345.50,161.10 L345.83,161.10 L346.17,161.10 L346.50,161.10 L346.83,161.10 L347.17,161.10 L347.50,161.10 L347.83,161.10 L348.17,161.10 L348.50,161.10 L348.83,161.10 L349.17,161.10 L349.50,161.10 L349.83,161.10 L350.17,161.10 L350.50,161.10 L350.83,161.10 L351.17,161.10 L351.50,161.10 L351.83,161.10 L352.17,161.10 L352.50,161.10 L352.83,161.10 L353.17,161.10 L353.50,161.10 L353.83,161.10 L354.17,161.10 L354.50,161.10 L354.83,161.10 L355.17,161.10 L355.50,161.10 L355.83,161.10 L356.17,161.10 L356.50,161.10 L356.83,161.10 L357.17,161.10 L357.50,161.10 L357.83,161.10 L358.17,161.10 L358.50,161.10 L358.83,161.10 L359.17,161.10 L359.50,161.10 L359.83,161.10 L360.17,161.10 L360.50,161.10 L360.83,161.10 L361.17,161.10 L361.50,161.10 L361.83,161.10 L362.17,161.10 L362.50,161.10 L362.83,161.10 L363.17,161.10 L363.50,161.10 L363.83,161.10 L364.17,161.10 L364.50,161.10 L364.83,161.10 L365.17,161.10 L365.50,161.10 L365.83,161.10 L366.17,161.10 L366.50,161.10 L366.83,161.10 L367.17,161.10 L367.50,161.10 L367.83,161.10 L368.17,161.10 L368.50,161.10 L368.83,161.10 L369.17,161.10 L369.50,161.10 L369.83,161.10 L370.17,161.10 L370.50,161.10 L370.83,161.10 L371.17,161.10 L371.50,161.10 L371.83,161.10 L372.17,161.10 L372.50,161.10 L372.83,161.10 L373.17,161.09 L373.50,161.09 L373.83,161.09 L374.17,161.08 L374.50,161.07 L374.83,161.06 L375.17,161.04 L375.50,161.01 L375.83,160.98 L376.17,160.93 L376.50,160.87 L376.83,160.78 L377.17,160.67 L377.50,160.53 L377.83,160.35 L378.17,160.11 L378.50,159.81 L378.83,159.43 L379.17,158.97 L379.50,158.39 L379.83,157.69 L380.17,156.85 L380.50,155.84 L380.83,154.65 L381.17,153.26 L381.50,151.65 L381.83,149.80 L382.17,147.71 L382.50,145.37 L382.83,142.78 L383.17,139.94 L383.50,136.87 L383.83,133.59 L384.17,130.13 L384.50,126.54 L384.83,122.86 L385.17,119.15 L385.50,115.48 L385.83,111.90 L386.17,108.50 L386.50,105.34 L386.83,102.50 L387.17,100.04 L387.50,98.01 L387.83,96.48 L388.17,95.48 L388.50,95.03 L388.83,95.18 L389.17,96.03 L389.50,97.56 L389.83,99.73 L390.17,102.47 L390.50,105.68 L390.83,109.29 L391.17,113.18 L391.50,117.26 L391.83,121.43 L392.17,125.58 L392.50,129.65 L392.83,133.55 L393.17,137.22 L393.50,140.63 L393.83,143.75 L394.17,146.54 L394.50,149.02 L394.83,151.19 L395.17,153.05 L395.50,154.63 L395.83,155.96 L396.17,157.06 L396.50,157.96 L396.83,158.69 L397.17,159.26 L397.50,159.72 L397.83,160.07 L398.17,160.34 L398.50,160.55 L398.83,160.70 L399.17,160.82 L399.50,160.90 L399.83,160.96 L400.17,161.00 L400.50,161.03 L400.83,161.06 L401.17,161.07 L401.50,161.08 L401.83,161.09 L402.17,161.09 L402.50,161.09 L402.83,161.10 L403.17,161.10 L403.50,161.10 L403.83,161.10 L404.17,161.10 L404.50,161.10 L404.83,161.10 L405.17,161.10 L405.50,161.10 L405.83,161.10 L406.17,161.10 L406.50,161.10 L406.83,161.10 L407.17,161.10 L407.50,161.10 L407.83,161.10 L408.17,161.10 L408.50,161.10 L408.83,161.10 L409.17,161.10 L409.50,161.10 L409.83,161.10 L410.17,161.10 L410.50,161.10 L410.83,161.10 L411.17,161.10 L411.50,161.10 L411.83,161.10 L412.17,161.10 L412.50,161.10" fill="none" stroke="#5a3a30" stroke-width="0.7" opacity="1.0" stroke-linejoin="round"/>
<path d="M342.50,161.10 L342.83,161.10 L343.17,161.10 L343.50,161.10 L343.83,161.10 L344.17,161.10 L344.50,161.10 L344.83,161.10 L345.17,161.10 L345.50,161.10 L345.83,161.10 L346.17,161.10 L346.50,161.10 L346.83,161.10 L347.17,161.10 L347.50,161.10 L347.83,161.10 L348.17,161.10 L348.50,161.10 L348.83,161.10 L349.17,161.10 L349.50,161.10 L349.83,161.10 L350.17,161.10 L350.50,161.10 L350.83,161.10 L351.17,161.10 L351.50,161.10 L351.83,161.10 L352.17,161.10 L352.50,161.10 L352.83,161.10 L353.17,161.10 L353.50,161.10 L353.83,161.10 L354.17,161.10 L354.50,161.10 L354.83,161.10 L355.17,161.10 L355.50,161.10 L355.83,161.10 L356.17,161.10 L356.50,161.10 L356.83,161.10 L357.17,161.10 L357.50,161.10 L357.83,161.10 L358.17,161.10 L358.50,161.10 L358.83,161.10 L359.17,161.10 L359.50,161.10 L359.83,161.10 L360.17,161.10 L360.50,161.10 L360.83,161.10 L361.17,161.10 L361.50,161.10 L361.83,161.10 L362.17,161.10 L362.50,161.10 L362.83,161.10 L363.17,161.10 L363.50,161.10 L363.83,161.10 L364.17,161.10 L364.50,161.10 L364.83,161.10 L365.17,161.10 L365.50,161.10 L365.83,161.10 L366.17,161.10 L366.50,161.10 L366.83,161.10 L367.17,161.10 L367.50,161.10 L367.83,161.10 L368.17,161.10 L368.50,161.10 L368.83,161.10 L369.17,161.10 L369.50,161.10 L369.83,161.10 L370.17,161.10 L370.50,161.10 L370.83,161.10 L371.17,161.10 L371.50,161.10 L371.83,161.10 L372.17,161.10 L372.50,161.10 L372.83,161.10 L373.17,161.10 L373.50,161.10 L373.83,161.09 L374.17,161.09 L374.50,161.09 L374.83,161.08 L375.17,161.07 L375.50,161.06 L375.83,161.04 L376.17,161.01 L376.50,160.98 L376.83,160.94 L377.17,160.87 L377.50,160.79 L377.83,160.69 L378.17,160.55 L378.50,160.36 L378.83,160.13 L379.17,159.84 L379.50,159.47 L379.83,159.01 L380.17,158.45 L380.50,157.76 L380.83,156.93 L381.17,155.94 L381.50,154.77 L381.83,153.40 L382.17,151.80 L382.50,149.98 L382.83,147.91 L383.17,145.59 L383.50,143.02 L383.83,140.20 L384.17,137.15 L384.50,133.88 L384.83,130.44 L385.17,126.85 L385.50,123.18 L385.83,119.46 L386.17,115.77 L386.50,112.18 L386.83,108.75 L387.17,105.56 L387.50,102.68 L387.83,100.17 L388.17,98.10 L388.50,96.51 L388.83,95.45 L389.17,94.95 L389.50,95.03 L389.83,95.81 L390.17,97.28 L390.50,99.39 L390.83,102.08 L391.17,105.26 L391.50,108.83 L391.83,112.71 L392.17,116.78 L392.50,120.95 L392.83,125.12 L393.17,129.20 L393.50,133.12 L393.83,136.83 L394.17,140.27 L394.50,143.42 L394.83,146.25 L395.17,148.77 L395.50,150.97 L395.83,152.86 L396.17,154.48 L396.50,155.83 L396.83,156.96 L397.17,157.87 L397.50,158.62 L397.83,159.21 L398.17,159.68 L398.50,160.04 L398.83,160.32 L399.17,160.53 L399.50,160.69 L399.83,160.81 L400.17,160.89 L400.50,160.96 L400.83,161.00 L401.17,161.03 L401.50,161.05 L401.83,161.07 L402.17,161.08 L402.50,161.09 L402.83,161.09 L403.17,161.09 L403.50,161.10 L403.83,161.10 L404.17,161.10 L404.50,161.10 L404.83,161.10 L405.17,161.10 L405.50,161.10 L405.83,161.10 L406.17,161.10 L406.50,161.10 L406.83,161.10 L407.17,161.10 L407.50,161.10 L407.83,161.10 L408.17,161.10 L408.50,161.10 L408.83,161.10 L409.17,161.10 L409.50,161.10 L409.83,161.10 L410.17,161.10 L410.50,161.10 L410.83,161.10 L411.17,161.10 L411.50,161.10 L411.83,161.10 L412.17,161.10 L412.50,161.10" fill="none" stroke="#c03a30" stroke-width="0.9" opacity="1.0" stroke-linejoin="round"/>
<rect x="341.5" y="90.4" width="71.5" height="71.1" fill="none" stroke="#9a9a9a" stroke-width="0.9"/>
<line x1="341.5" y1="161.5" x2="413.0" y2="161.5" stroke="#8a6a66" stroke-width="1.0" />
<line x1="340.5" y1="102.25" x2="341.5" y2="102.25" stroke="#aaa" stroke-width="0.5" />
<line x1="340.5" y1="114.10000000000001" x2="341.5" y2="114.10000000000001" stroke="#aaa" stroke-width="0.5" />
<line x1="340.5" y1="125.95" x2="341.5" y2="125.95" stroke="#aaa" stroke-width="0.5" />
<line x1="340.5" y1="137.8" x2="341.5" y2="137.8" stroke="#aaa" stroke-width="0.5" />
<line x1="340.5" y1="149.65" x2="341.5" y2="149.65" stroke="#aaa" stroke-width="0.5" />
<text x="409.2" y="101.10000000000001" font-size="9.8" text-anchor="end" font-weight="normal" fill="#222" stroke="#222" stroke-width="0.1" >&#945;L</text>
<rect x="352.5" y="159.9" width="2" height="1.4" fill="#333" stroke="none" stroke-width="1" />
<path d="M425.2,161.1 L425.20,161.10 L425.53,161.10 L425.87,161.10 L426.20,161.10 L426.53,161.10 L426.87,161.10 L427.20,161.10 L427.53,161.10 L427.87,161.10 L428.20,161.10 L428.53,161.10 L428.87,161.10 L429.20,161.10 L429.53,161.10 L429.87,161.10 L430.20,161.10 L430.53,161.10 L430.87,161.10 L431.20,161.10 L431.53,161.10 L431.87,161.10 L432.20,161.10 L432.53,161.10 L432.87,161.10 L433.20,161.10 L433.53,161.09 L433.87,161.07 L434.20,161.04 L434.53,160.96 L434.87,160.80 L435.20,160.50 L435.53,159.94 L435.87,158.97 L436.20,157.38 L436.53,154.92 L436.87,151.32 L437.20,146.36 L437.53,139.96 L437.87,132.25 L438.20,123.62 L438.53,114.75 L438.87,106.55 L439.20,99.99 L439.53,95.94 L439.87,94.95 L440.20,96.71 L440.53,100.78 L440.87,106.73 L441.20,113.94 L441.53,121.73 L441.87,129.48 L442.20,136.66 L442.53,142.92 L442.87,148.09 L443.20,152.14 L443.53,155.16 L443.87,157.31 L444.20,158.78 L444.53,159.73 L444.87,160.32 L445.20,160.67 L445.53,160.88 L445.87,160.99 L446.20,161.04 L446.53,161.07 L446.87,161.09 L447.20,161.09 L447.53,161.10 L447.87,161.10 L448.20,161.10 L448.53,161.10 L448.87,161.10 L449.20,161.10 L449.53,161.10 L449.87,161.10 L450.20,161.10 L450.53,161.10 L450.87,161.10 L451.20,161.10 L451.53,161.10 L451.87,161.10 L452.20,161.10 L452.53,161.10 L452.87,161.10 L453.20,161.10 L453.53,161.10 L453.87,161.10 L454.20,161.10 L454.53,161.10 L454.87,161.10 L455.20,161.10 L455.53,161.10 L455.87,161.10 L456.20,161.10 L456.53,161.10 L456.87,161.10 L457.20,161.10 L457.53,161.10 L457.87,161.10 L458.20,161.10 L458.53,161.10 L458.87,161.10 L459.20,161.10 L459.2,161.1 Z" fill="#dcdcdc" stroke="#b8b8b8" stroke-width="0.6" opacity="1.0"/>
<path d="M425.20,161.10 L425.53,161.10 L425.87,161.10 L426.20,161.10 L426.54,161.10 L426.87,161.10 L427.20,161.10 L427.54,161.10 L427.87,161.10 L428.20,161.10 L428.54,161.10 L428.87,161.10 L429.21,161.10 L429.54,161.10 L429.87,161.10 L430.21,161.10 L430.54,161.10 L430.87,161.10 L431.21,161.10 L431.54,161.10 L431.88,161.10 L432.21,161.10 L432.54,161.10 L432.88,161.10 L433.21,161.10 L433.55,161.10 L433.88,161.10 L434.21,161.10 L434.55,161.09 L434.88,161.09 L435.21,161.09 L435.55,161.08 L435.88,161.07 L436.22,161.05 L436.55,161.03 L436.88,161.00 L437.22,160.95 L437.55,160.89 L437.88,160.80 L438.22,160.68 L438.55,160.52 L438.89,160.31 L439.22,160.03 L439.55,159.66 L439.89,159.19 L440.22,158.60 L440.56,157.85 L440.89,156.93 L441.22,155.80 L441.56,154.43 L441.89,152.81 L442.22,150.91 L442.56,148.71 L442.89,146.19 L443.23,143.35 L443.56,140.20 L443.89,136.77 L444.23,133.07 L444.56,129.16 L444.89,125.10 L445.23,120.96 L445.56,116.83 L445.90,112.80 L446.23,108.97 L446.56,105.46 L446.90,102.35 L447.23,99.73 L447.57,97.69 L447.90,96.30 L448.23,95.59 L448.57,95.59 L448.90,96.30 L449.23,97.69 L449.57,99.73 L449.90,102.34 L450.24,105.45 L450.57,108.97 L450.90,112.79 L451.24,116.82 L451.57,120.95 L451.90,125.09 L452.24,129.15 L452.57,133.06 L452.91,136.76 L453.24,140.20 L453.57,143.35 L453.91,146.18 L454.24,148.70 L454.58,150.91 L454.91,152.81 L455.24,154.43 L455.58,155.79 L455.91,156.92 L456.24,157.85 L456.58,158.60 L456.91,159.19 L457.25,159.66 L457.58,160.03 L457.91,160.31 L458.25,160.52 L458.58,160.68 L458.91,160.80 L459.25,160.89 L459.58,160.95 L459.92,161.00 L460.25,161.03 L460.58,161.05 L460.92,161.07 L461.25,161.08 L461.59,161.09 L461.92,161.09 L462.25,161.09 L462.59,161.10 L462.92,161.10 L463.25,161.10 L463.59,161.10 L463.92,161.10 L464.26,161.10 L464.59,161.10 L464.92,161.10 L465.26,161.10 L465.59,161.10 L465.92,161.10 L466.26,161.10 L466.59,161.10 L466.93,161.10 L467.26,161.10 L467.59,161.10 L467.93,161.10 L468.26,161.10 L468.60,161.10 L468.93,161.10 L469.26,161.10 L469.60,161.10 L469.93,161.10 L470.26,161.10 L470.60,161.10 L470.93,161.10 L471.27,161.10 L471.60,161.10 L471.93,161.10 L472.27,161.10 L472.60,161.10 L472.93,161.10 L473.27,161.10 L473.60,161.10 L473.94,161.10 L474.27,161.10 L474.60,161.10 L474.94,161.10 L475.27,161.10 L475.61,161.10 L475.94,161.10 L476.27,161.10 L476.61,161.10 L476.94,161.10 L477.27,161.10 L477.61,161.10 L477.94,161.10 L478.28,161.10 L478.61,161.10 L478.94,161.10 L479.28,161.10 L479.61,161.10 L479.94,161.10 L480.28,161.10 L480.61,161.10 L480.95,161.10 L481.28,161.10 L481.61,161.10 L481.95,161.10 L482.28,161.10 L482.62,161.10 L482.95,161.10 L483.28,161.10 L483.62,161.10 L483.95,161.10 L484.28,161.10 L484.62,161.10 L484.95,161.10 L485.29,161.10 L485.62,161.10 L485.95,161.10 L486.29,161.10 L486.62,161.10 L486.95,161.10 L487.29,161.10 L487.62,161.10 L487.96,161.10 L488.29,161.10 L488.62,161.10 L488.96,161.10 L489.29,161.10 L489.63,161.10 L489.96,161.10 L490.29,161.10 L490.63,161.10 L490.96,161.10 L491.29,161.10 L491.63,161.10 L491.96,161.10 L492.30,161.10 L492.63,161.10 L492.96,161.10 L493.30,161.10 L493.63,161.10 L493.96,161.10 L494.30,161.10 L494.63,161.10 L494.97,161.10 L495.30,161.10" fill="none" stroke="#4a64b0" stroke-width="0.9" opacity="1.0" stroke-linejoin="round"/>
<path d="M425.20,161.10 L425.53,161.10 L425.87,161.10 L426.20,161.10 L426.54,161.10 L426.87,161.10 L427.20,161.10 L427.54,161.10 L427.87,161.10 L428.20,161.10 L428.54,161.10 L428.87,161.10 L429.21,161.10 L429.54,161.10 L429.87,161.10 L430.21,161.10 L430.54,161.10 L430.87,161.10 L431.21,161.10 L431.54,161.10 L431.88,161.10 L432.21,161.10 L432.54,161.10 L432.88,161.10 L433.21,161.10 L433.55,161.10 L433.88,161.10 L434.21,161.09 L434.55,161.09 L434.88,161.08 L435.21,161.07 L435.55,161.06 L435.88,161.04 L436.22,161.02 L436.55,160.98 L436.88,160.92 L437.22,160.85 L437.55,160.75 L437.88,160.61 L438.22,160.42 L438.55,160.18 L438.89,159.85 L439.22,159.44 L439.55,158.90 L439.89,158.23 L440.22,157.40 L440.56,156.37 L440.89,155.12 L441.22,153.63 L441.56,151.86 L441.89,149.80 L442.22,147.43 L442.56,144.74 L442.89,141.73 L443.23,138.42 L443.56,134.84 L443.89,131.01 L444.23,126.99 L444.56,122.87 L444.89,118.70 L445.23,114.59 L445.56,110.63 L445.90,106.93 L446.23,103.59 L446.56,100.70 L446.90,98.36 L447.23,96.62 L447.57,95.56 L447.90,95.20 L448.23,95.56 L448.57,96.61 L448.90,98.34 L449.23,100.69 L449.57,103.57 L449.90,106.91 L450.24,110.61 L450.57,114.57 L450.90,118.68 L451.24,122.84 L451.57,126.97 L451.90,130.98 L452.24,134.81 L452.57,138.40 L452.91,141.72 L453.24,144.72 L453.57,147.42 L453.91,149.79 L454.24,151.85 L454.58,153.62 L454.91,155.11 L455.24,156.36 L455.58,157.39 L455.91,158.23 L456.24,158.90 L456.58,159.43 L456.91,159.85 L457.25,160.17 L457.58,160.42 L457.91,160.61 L458.25,160.75 L458.58,160.85 L458.91,160.92 L459.25,160.98 L459.58,161.02 L459.92,161.04 L460.25,161.06 L460.58,161.07 L460.92,161.08 L461.25,161.09 L461.59,161.09 L461.92,161.10 L462.25,161.10 L462.59,161.10 L462.92,161.10 L463.25,161.10 L463.59,161.10 L463.92,161.10 L464.26,161.10 L464.59,161.10 L464.92,161.10 L465.26,161.10 L465.59,161.10 L465.92,161.10 L466.26,161.10 L466.59,161.10 L466.93,161.10 L467.26,161.10 L467.59,161.10 L467.93,161.10 L468.26,161.10 L468.60,161.10 L468.93,161.10 L469.26,161.10 L469.60,161.10 L469.93,161.10 L470.26,161.10 L470.60,161.10 L470.93,161.10 L471.27,161.10 L471.60,161.10 L471.93,161.10 L472.27,161.10 L472.60,161.10 L472.93,161.10 L473.27,161.10 L473.60,161.10 L473.94,161.10 L474.27,161.10 L474.60,161.10 L474.94,161.10 L475.27,161.10 L475.61,161.10 L475.94,161.10 L476.27,161.10 L476.61,161.10 L476.94,161.10 L477.27,161.10 L477.61,161.10 L477.94,161.10 L478.28,161.10 L478.61,161.10 L478.94,161.10 L479.28,161.10 L479.61,161.10 L479.94,161.10 L480.28,161.10 L480.61,161.10 L480.95,161.10 L481.28,161.10 L481.61,161.10 L481.95,161.10 L482.28,161.10 L482.62,161.10 L482.95,161.10 L483.28,161.10 L483.62,161.10 L483.95,161.10 L484.28,161.10 L484.62,161.10 L484.95,161.10 L485.29,161.10 L485.62,161.10 L485.95,161.10 L486.29,161.10 L486.62,161.10 L486.95,161.10 L487.29,161.10 L487.62,161.10 L487.96,161.10 L488.29,161.10 L488.62,161.10 L488.96,161.10 L489.29,161.10 L489.63,161.10 L489.96,161.10 L490.29,161.10 L490.63,161.10 L490.96,161.10 L491.29,161.10 L491.63,161.10 L491.96,161.10 L492.30,161.10 L492.63,161.10 L492.96,161.10 L493.30,161.10 L493.63,161.10 L493.96,161.10 L494.30,161.10 L494.63,161.10 L494.97,161.10 L495.30,161.10" fill="none" stroke="#4c9a44" stroke-width="0.8" opacity="1.0" stroke-linejoin="round"/>
<path d="M425.20,161.10 L425.53,161.10 L425.87,161.10 L426.20,161.10 L426.54,161.10 L426.87,161.10 L427.20,161.10 L427.54,161.10 L427.87,161.10 L428.20,161.10 L428.54,161.10 L428.87,161.10 L429.21,161.10 L429.54,161.10 L429.87,161.10 L430.21,161.10 L430.54,161.10 L430.87,161.10 L431.21,161.10 L431.54,161.10 L431.88,161.10 L432.21,161.10 L432.54,161.10 L432.88,161.10 L433.21,161.10 L433.55,161.10 L433.88,161.10 L434.21,161.10 L434.55,161.10 L434.88,161.09 L435.21,161.09 L435.55,161.09 L435.88,161.08 L436.22,161.07 L436.55,161.05 L436.88,161.03 L437.22,160.99 L437.55,160.95 L437.88,160.88 L438.22,160.79 L438.55,160.67 L438.89,160.50 L439.22,160.28 L439.55,159.99 L439.89,159.61 L440.22,159.12 L440.56,158.51 L440.89,157.74 L441.22,156.79 L441.56,155.63 L441.89,154.23 L442.22,152.57 L442.56,150.62 L442.89,148.37 L443.23,145.80 L443.56,142.91 L443.89,139.71 L444.23,136.21 L444.56,132.46 L444.89,128.51 L445.23,124.40 L445.56,120.23 L445.90,116.07 L446.23,112.03 L446.56,108.20 L446.90,104.70 L447.23,101.61 L447.57,99.03 L447.90,97.04 L448.23,95.70 L448.57,95.06 L448.90,95.13 L449.23,95.91 L449.57,97.39 L449.90,99.50 L450.24,102.19 L450.57,105.37 L450.90,108.95 L451.24,112.83 L451.57,116.90 L451.90,121.07 L452.24,125.23 L452.57,129.32 L452.91,133.24 L453.24,136.94 L453.57,140.38 L453.91,143.52 L454.24,146.34 L454.58,148.85 L454.91,151.04 L455.24,152.93 L455.58,154.53 L455.91,155.88 L456.24,157.00 L456.58,157.91 L456.91,158.64 L457.25,159.23 L457.58,159.69 L457.91,160.05 L458.25,160.33 L458.58,160.54 L458.91,160.69 L459.25,160.81 L459.58,160.90 L459.92,160.96 L460.25,161.00 L460.58,161.03 L460.92,161.05 L461.25,161.07 L461.59,161.08 L461.92,161.09 L462.25,161.09 L462.59,161.09 L462.92,161.10 L463.25,161.10 L463.59,161.10 L463.92,161.10 L464.26,161.10 L464.59,161.10 L464.92,161.10 L465.26,161.10 L465.59,161.10 L465.92,161.10 L466.26,161.10 L466.59,161.10 L466.93,161.10 L467.26,161.10 L467.59,161.10 L467.93,161.10 L468.26,161.10 L468.60,161.10 L468.93,161.10 L469.26,161.10 L469.60,161.10 L469.93,161.10 L470.26,161.10 L470.60,161.10 L470.93,161.10 L471.27,161.10 L471.60,161.10 L471.93,161.10 L472.27,161.10 L472.60,161.10 L472.93,161.10 L473.27,161.10 L473.60,161.10 L473.94,161.10 L474.27,161.10 L474.60,161.10 L474.94,161.10 L475.27,161.10 L475.61,161.10 L475.94,161.10 L476.27,161.10 L476.61,161.10 L476.94,161.10 L477.27,161.10 L477.61,161.10 L477.94,161.10 L478.28,161.10 L478.61,161.10 L478.94,161.10 L479.28,161.10 L479.61,161.10 L479.94,161.10 L480.28,161.10 L480.61,161.10 L480.95,161.10 L481.28,161.10 L481.61,161.10 L481.95,161.10 L482.28,161.10 L482.62,161.10 L482.95,161.10 L483.28,161.10 L483.62,161.10 L483.95,161.10 L484.28,161.10 L484.62,161.10 L484.95,161.10 L485.29,161.10 L485.62,161.10 L485.95,161.10 L486.29,161.10 L486.62,161.10 L486.95,161.10 L487.29,161.10 L487.62,161.10 L487.96,161.10 L488.29,161.10 L488.62,161.10 L488.96,161.10 L489.29,161.10 L489.63,161.10 L489.96,161.10 L490.29,161.10 L490.63,161.10 L490.96,161.10 L491.29,161.10 L491.63,161.10 L491.96,161.10 L492.30,161.10 L492.63,161.10 L492.96,161.10 L493.30,161.10 L493.63,161.10 L493.96,161.10 L494.30,161.10 L494.63,161.10 L494.97,161.10 L495.30,161.10" fill="none" stroke="#5a3a30" stroke-width="0.7" opacity="1.0" stroke-linejoin="round"/>
<path d="M425.20,161.10 L425.53,161.10 L425.87,161.10 L426.20,161.10 L426.54,161.10 L426.87,161.10 L427.20,161.10 L427.54,161.10 L427.87,161.10 L428.20,161.10 L428.54,161.10 L428.87,161.10 L429.21,161.10 L429.54,161.10 L429.87,161.10 L430.21,161.10 L430.54,161.10 L430.87,161.10 L431.21,161.10 L431.54,161.10 L431.88,161.10 L432.21,161.10 L432.54,161.10 L432.88,161.10 L433.21,161.10 L433.55,161.10 L433.88,161.10 L434.21,161.10 L434.55,161.10 L434.88,161.10 L435.21,161.10 L435.55,161.09 L435.88,161.09 L436.22,161.09 L436.55,161.08 L436.88,161.07 L437.22,161.05 L437.55,161.03 L437.88,161.00 L438.22,160.95 L438.55,160.89 L438.89,160.80 L439.22,160.68 L439.55,160.52 L439.89,160.30 L440.22,160.02 L440.56,159.65 L440.89,159.17 L441.22,158.57 L441.56,157.82 L441.89,156.88 L442.22,155.74 L442.56,154.37 L442.89,152.73 L443.23,150.81 L443.56,148.58 L443.89,146.04 L444.23,143.18 L444.56,140.00 L444.89,136.53 L445.23,132.80 L445.56,128.85 L445.90,124.75 L446.23,120.57 L446.56,116.40 L446.90,112.34 L447.23,108.48 L447.57,104.93 L447.90,101.80 L448.23,99.16 L448.57,97.11 L448.90,95.70 L449.23,94.99 L449.57,94.99 L449.90,95.71 L450.24,97.12 L450.57,99.18 L450.90,101.82 L451.24,104.96 L451.57,108.51 L451.90,112.37 L452.24,116.43 L452.57,120.60 L452.91,124.78 L453.24,128.88 L453.57,132.82 L453.91,136.55 L454.24,140.02 L454.58,143.20 L454.91,146.06 L455.24,148.60 L455.58,150.82 L455.91,152.74 L456.24,154.38 L456.58,155.75 L456.91,156.89 L457.25,157.82 L457.58,158.58 L457.91,159.18 L458.25,159.65 L458.58,160.02 L458.91,160.30 L459.25,160.52 L459.58,160.68 L459.92,160.80 L460.25,160.89 L460.58,160.95 L460.92,161.00 L461.25,161.03 L461.59,161.05 L461.92,161.07 L462.25,161.08 L462.59,161.09 L462.92,161.09 L463.25,161.09 L463.59,161.10 L463.92,161.10 L464.26,161.10 L464.59,161.10 L464.92,161.10 L465.26,161.10 L465.59,161.10 L465.92,161.10 L466.26,161.10 L466.59,161.10 L466.93,161.10 L467.26,161.10 L467.59,161.10 L467.93,161.10 L468.26,161.10 L468.60,161.10 L468.93,161.10 L469.26,161.10 L469.60,161.10 L469.93,161.10 L470.26,161.10 L470.60,161.10 L470.93,161.10 L471.27,161.10 L471.60,161.10 L471.93,161.10 L472.27,161.10 L472.60,161.10 L472.93,161.10 L473.27,161.10 L473.60,161.10 L473.94,161.10 L474.27,161.10 L474.60,161.10 L474.94,161.10 L475.27,161.10 L475.61,161.10 L475.94,161.10 L476.27,161.10 L476.61,161.10 L476.94,161.10 L477.27,161.10 L477.61,161.10 L477.94,161.10 L478.28,161.10 L478.61,161.10 L478.94,161.10 L479.28,161.10 L479.61,161.10 L479.94,161.10 L480.28,161.10 L480.61,161.10 L480.95,161.10 L481.28,161.10 L481.61,161.10 L481.95,161.10 L482.28,161.10 L482.62,161.10 L482.95,161.10 L483.28,161.10 L483.62,161.10 L483.95,161.10 L484.28,161.10 L484.62,161.10 L484.95,161.10 L485.29,161.10 L485.62,161.10 L485.95,161.10 L486.29,161.10 L486.62,161.10 L486.95,161.10 L487.29,161.10 L487.62,161.10 L487.96,161.10 L488.29,161.10 L488.62,161.10 L488.96,161.10 L489.29,161.10 L489.63,161.10 L489.96,161.10 L490.29,161.10 L490.63,161.10 L490.96,161.10 L491.29,161.10 L491.63,161.10 L491.96,161.10 L492.30,161.10 L492.63,161.10 L492.96,161.10 L493.30,161.10 L493.63,161.10 L493.96,161.10 L494.30,161.10 L494.63,161.10 L494.97,161.10 L495.30,161.10" fill="none" stroke="#c03a30" stroke-width="0.9" opacity="1.0" stroke-linejoin="round"/>
<rect x="424.2" y="90.4" width="71.6" height="71.1" fill="none" stroke="#9a9a9a" stroke-width="0.9"/>
<line x1="424.2" y1="161.5" x2="495.8" y2="161.5" stroke="#8a6a66" stroke-width="1.0" />
<line x1="423.2" y1="102.25" x2="424.2" y2="102.25" stroke="#aaa" stroke-width="0.5" />
<line x1="423.2" y1="114.10000000000001" x2="424.2" y2="114.10000000000001" stroke="#aaa" stroke-width="0.5" />
<line x1="423.2" y1="125.95" x2="424.2" y2="125.95" stroke="#aaa" stroke-width="0.5" />
<line x1="423.2" y1="137.8" x2="424.2" y2="137.8" stroke="#aaa" stroke-width="0.5" />
<line x1="423.2" y1="149.65" x2="424.2" y2="149.65" stroke="#aaa" stroke-width="0.5" />
<text x="492.0" y="101.10000000000001" font-size="9.8" text-anchor="end" font-weight="normal" fill="#222" stroke="#222" stroke-width="0.1" >CD3</text>
<rect x="435.2" y="159.9" width="2" height="1.4" fill="#333" stroke="none" stroke-width="1" />
<path d="M342.5,238.4 L342.50,238.40 L342.83,238.40 L343.17,238.40 L343.50,238.40 L343.83,238.40 L344.17,238.40 L344.50,238.40 L344.83,238.40 L345.17,238.40 L345.50,238.40 L345.83,238.40 L346.17,238.40 L346.50,238.40 L346.83,238.40 L347.17,238.40 L347.50,238.40 L347.83,238.40 L348.17,238.40 L348.50,238.40 L348.83,238.40 L349.17,238.40 L349.50,238.40 L349.83,238.40 L350.17,238.40 L350.50,238.40 L350.83,238.39 L351.17,238.37 L351.50,238.34 L351.83,238.26 L352.17,238.10 L352.50,237.80 L352.83,237.23 L353.17,236.26 L353.50,234.66 L353.83,232.18 L354.17,228.56 L354.50,223.57 L354.83,217.14 L355.17,209.38 L355.50,200.69 L355.83,191.77 L356.17,183.52 L356.50,176.92 L356.83,172.84 L357.17,171.85 L357.50,173.62 L357.83,177.72 L358.17,183.70 L358.50,190.95 L358.83,198.80 L359.17,206.59 L359.50,213.81 L359.83,220.11 L360.17,225.31 L360.50,229.39 L360.83,232.43 L361.17,234.59 L361.50,236.06 L361.83,237.02 L362.17,237.62 L362.50,237.97 L362.83,238.17 L363.17,238.29 L363.50,238.34 L363.83,238.37 L364.17,238.39 L364.50,238.39 L364.83,238.40 L365.17,238.40 L365.50,238.40 L365.83,238.40 L366.17,238.40 L366.50,238.40 L366.83,238.40 L367.17,238.40 L367.50,238.40 L367.83,238.40 L368.17,238.40 L368.50,238.40 L368.83,238.40 L369.17,238.40 L369.50,238.40 L369.83,238.40 L370.17,238.40 L370.50,238.40 L370.83,238.40 L371.17,238.40 L371.50,238.40 L371.83,238.40 L372.17,238.40 L372.50,238.40 L372.83,238.40 L373.17,238.40 L373.50,238.40 L373.83,238.40 L374.17,238.40 L374.50,238.40 L374.83,238.40 L375.17,238.40 L375.50,238.40 L375.83,238.40 L376.17,238.40 L376.50,238.40 L376.5,238.4 Z" fill="#dcdcdc" stroke="#b8b8b8" stroke-width="0.6" opacity="1.0"/>
<path d="M342.50,238.40 L342.83,238.40 L343.17,238.40 L343.50,238.40 L343.83,238.40 L344.17,238.40 L344.50,238.40 L344.83,238.40 L345.17,238.40 L345.50,238.40 L345.83,238.40 L346.17,238.40 L346.50,238.40 L346.83,238.40 L347.17,238.40 L347.50,238.40 L347.83,238.40 L348.17,238.40 L348.50,238.40 L348.83,238.40 L349.17,238.40 L349.50,238.40 L349.83,238.40 L350.17,238.40 L350.50,238.40 L350.83,238.40 L351.17,238.40 L351.50,238.40 L351.83,238.40 L352.17,238.40 L352.50,238.40 L352.83,238.40 L353.17,238.40 L353.50,238.40 L353.83,238.40 L354.17,238.40 L354.50,238.40 L354.83,238.40 L355.17,238.40 L355.50,238.40 L355.83,238.40 L356.17,238.40 L356.50,238.40 L356.83,238.40 L357.17,238.40 L357.50,238.40 L357.83,238.40 L358.17,238.40 L358.50,238.40 L358.83,238.40 L359.17,238.40 L359.50,238.40 L359.83,238.40 L360.17,238.40 L360.50,238.40 L360.83,238.40 L361.17,238.40 L361.50,238.40 L361.83,238.40 L362.17,238.40 L362.50,238.40 L362.83,238.40 L363.17,238.40 L363.50,238.40 L363.83,238.40 L364.17,238.40 L364.50,238.40 L364.83,238.40 L365.17,238.40 L365.50,238.40 L365.83,238.40 L366.17,238.40 L366.50,238.40 L366.83,238.40 L367.17,238.40 L367.50,238.40 L367.83,238.40 L368.17,238.40 L368.50,238.40 L368.83,238.40 L369.17,238.40 L369.50,238.40 L369.83,238.40 L370.17,238.40 L370.50,238.40 L370.83,238.40 L371.17,238.40 L371.50,238.40 L371.83,238.40 L372.17,238.40 L372.50,238.40 L372.83,238.40 L373.17,238.40 L373.50,238.40 L373.83,238.40 L374.17,238.40 L374.50,238.40 L374.83,238.40 L375.17,238.40 L375.50,238.40 L375.83,238.40 L376.17,238.40 L376.50,238.40 L376.83,238.40 L377.17,238.40 L377.50,238.40 L377.83,238.40 L378.17,238.40 L378.50,238.40 L378.83,238.40 L379.17,238.40 L379.50,238.40 L379.83,238.40 L380.17,238.40 L380.50,238.40 L380.83,238.40 L381.17,238.40 L381.50,238.40 L381.83,238.40 L382.17,238.40 L382.50,238.39 L382.83,238.39 L383.17,238.38 L383.50,238.37 L383.83,238.35 L384.17,238.32 L384.50,238.27 L384.83,238.20 L385.17,238.10 L385.50,237.94 L385.83,237.72 L386.17,237.41 L386.50,236.97 L386.83,236.38 L387.17,235.59 L387.50,234.56 L387.83,233.22 L388.17,231.54 L388.50,229.47 L388.83,226.95 L389.17,223.97 L389.50,220.50 L389.83,216.56 L390.17,212.19 L390.50,207.45 L390.83,202.46 L391.17,197.34 L391.50,192.26 L391.83,187.39 L392.17,182.93 L392.50,179.07 L392.83,175.97 L393.17,173.77 L393.50,172.59 L393.83,172.49 L394.17,173.45 L394.50,175.45 L394.83,178.38 L395.17,182.11 L395.50,186.46 L395.83,191.26 L396.17,196.32 L396.50,201.44 L396.83,206.47 L397.17,211.27 L397.50,215.72 L397.83,219.75 L398.17,223.31 L398.50,226.39 L398.83,229.00 L399.17,231.16 L399.50,232.92 L399.83,234.32 L400.17,235.41 L400.50,236.24 L400.83,236.87 L401.17,237.33 L401.50,237.67 L401.83,237.90 L402.17,238.07 L402.50,238.19 L402.83,238.26 L403.17,238.31 L403.50,238.35 L403.83,238.37 L404.17,238.38 L404.50,238.39 L404.83,238.39 L405.17,238.40 L405.50,238.40 L405.83,238.40 L406.17,238.40 L406.50,238.40 L406.83,238.40 L407.17,238.40 L407.50,238.40 L407.83,238.40 L408.17,238.40 L408.50,238.40 L408.83,238.40 L409.17,238.40 L409.50,238.40 L409.83,238.40 L410.17,238.40 L410.50,238.40 L410.83,238.40 L411.17,238.40 L411.50,238.40 L411.83,238.40 L412.17,238.40 L412.50,238.40" fill="none" stroke="#4a64b0" stroke-width="0.9" opacity="1.0" stroke-linejoin="round"/>
<path d="M342.50,238.40 L342.83,238.40 L343.17,238.40 L343.50,238.40 L343.83,238.40 L344.17,238.40 L344.50,238.40 L344.83,238.40 L345.17,238.40 L345.50,238.40 L345.83,238.40 L346.17,238.40 L346.50,238.40 L346.83,238.40 L347.17,238.40 L347.50,238.40 L347.83,238.40 L348.17,238.40 L348.50,238.40 L348.83,238.40 L349.17,238.40 L349.50,238.40 L349.83,238.40 L350.17,238.40 L350.50,238.40 L350.83,238.40 L351.17,238.40 L351.50,238.40 L351.83,238.40 L352.17,238.40 L352.50,238.40 L352.83,238.40 L353.17,238.40 L353.50,238.40 L353.83,238.40 L354.17,238.40 L354.50,238.40 L354.83,238.40 L355.17,238.40 L355.50,238.40 L355.83,238.40 L356.17,238.40 L356.50,238.40 L356.83,238.40 L357.17,238.40 L357.50,238.40 L357.83,238.40 L358.17,238.40 L358.50,238.40 L358.83,238.40 L359.17,238.40 L359.50,238.40 L359.83,238.40 L360.17,238.40 L360.50,238.40 L360.83,238.40 L361.17,238.40 L361.50,238.40 L361.83,238.40 L362.17,238.40 L362.50,238.40 L362.83,238.40 L363.17,238.40 L363.50,238.40 L363.83,238.40 L364.17,238.40 L364.50,238.40 L364.83,238.40 L365.17,238.40 L365.50,238.40 L365.83,238.40 L366.17,238.40 L366.50,238.40 L366.83,238.40 L367.17,238.40 L367.50,238.40 L367.83,238.40 L368.17,238.40 L368.50,238.40 L368.83,238.40 L369.17,238.40 L369.50,238.40 L369.83,238.40 L370.17,238.40 L370.50,238.40 L370.83,238.40 L371.17,238.40 L371.50,238.40 L371.83,238.40 L372.17,238.40 L372.50,238.40 L372.83,238.40 L373.17,238.40 L373.50,238.40 L373.83,238.40 L374.17,238.40 L374.50,238.40 L374.83,238.40 L375.17,238.40 L375.50,238.40 L375.83,238.40 L376.17,238.40 L376.50,238.40 L376.83,238.40 L377.17,238.40 L377.50,238.40 L377.83,238.40 L378.17,238.40 L378.50,238.40 L378.83,238.40 L379.17,238.40 L379.50,238.40 L379.83,238.40 L380.17,238.40 L380.50,238.40 L380.83,238.40 L381.17,238.40 L381.50,238.40 L381.83,238.40 L382.17,238.39 L382.50,238.39 L382.83,238.38 L383.17,238.36 L383.50,238.34 L383.83,238.30 L384.17,238.24 L384.50,238.15 L384.83,238.03 L385.17,237.84 L385.50,237.57 L385.83,237.20 L386.17,236.69 L386.50,236.00 L386.83,235.09 L387.17,233.91 L387.50,232.40 L387.83,230.52 L388.17,228.22 L388.50,225.46 L388.83,222.22 L389.17,218.50 L389.50,214.31 L389.83,209.73 L390.17,204.83 L390.50,199.73 L390.83,194.59 L391.17,189.57 L391.50,184.86 L391.83,180.65 L392.17,177.13 L392.50,174.46 L392.83,172.76 L393.17,172.11 L393.50,172.54 L393.83,174.04 L394.17,176.53 L394.50,179.89 L394.83,183.97 L395.17,188.60 L395.50,193.57 L395.83,198.70 L396.17,203.82 L396.50,208.77 L396.83,213.43 L397.17,217.69 L397.50,221.51 L397.83,224.85 L398.17,227.71 L398.50,230.10 L398.83,232.06 L399.17,233.64 L399.50,234.88 L399.83,235.84 L400.17,236.57 L400.50,237.11 L400.83,237.51 L401.17,237.79 L401.50,237.99 L401.83,238.13 L402.17,238.23 L402.50,238.29 L402.83,238.33 L403.17,238.36 L403.50,238.37 L403.83,238.38 L404.17,238.39 L404.50,238.39 L404.83,238.40 L405.17,238.40 L405.50,238.40 L405.83,238.40 L406.17,238.40 L406.50,238.40 L406.83,238.40 L407.17,238.40 L407.50,238.40 L407.83,238.40 L408.17,238.40 L408.50,238.40 L408.83,238.40 L409.17,238.40 L409.50,238.40 L409.83,238.40 L410.17,238.40 L410.50,238.40 L410.83,238.40 L411.17,238.40 L411.50,238.40 L411.83,238.40 L412.17,238.40 L412.50,238.40" fill="none" stroke="#4c9a44" stroke-width="0.8" opacity="1.0" stroke-linejoin="round"/>
<path d="M342.50,238.40 L342.83,238.40 L343.17,238.40 L343.50,238.40 L343.83,238.40 L344.17,238.40 L344.50,238.40 L344.83,238.40 L345.17,238.40 L345.50,238.40 L345.83,238.40 L346.17,238.40 L346.50,238.40 L346.83,238.40 L347.17,238.40 L347.50,238.40 L347.83,238.40 L348.17,238.40 L348.50,238.40 L348.83,238.40 L349.17,238.40 L349.50,238.40 L349.83,238.40 L350.17,238.40 L350.50,238.40 L350.83,238.40 L351.17,238.40 L351.50,238.40 L351.83,238.40 L352.17,238.40 L352.50,238.40 L352.83,238.40 L353.17,238.40 L353.50,238.40 L353.83,238.40 L354.17,238.40 L354.50,238.40 L354.83,238.40 L355.17,238.40 L355.50,238.40 L355.83,238.40 L356.17,238.40 L356.50,238.40 L356.83,238.40 L357.17,238.40 L357.50,238.40 L357.83,238.40 L358.17,238.40 L358.50,238.40 L358.83,238.40 L359.17,238.40 L359.50,238.40 L359.83,238.40 L360.17,238.40 L360.50,238.40 L360.83,238.40 L361.17,238.40 L361.50,238.40 L361.83,238.40 L362.17,238.40 L362.50,238.40 L362.83,238.40 L363.17,238.40 L363.50,238.40 L363.83,238.40 L364.17,238.40 L364.50,238.40 L364.83,238.40 L365.17,238.40 L365.50,238.40 L365.83,238.40 L366.17,238.40 L366.50,238.40 L366.83,238.40 L367.17,238.40 L367.50,238.40 L367.83,238.40 L368.17,238.40 L368.50,238.40 L368.83,238.40 L369.17,238.40 L369.50,238.40 L369.83,238.40 L370.17,238.40 L370.50,238.40 L370.83,238.40 L371.17,238.40 L371.50,238.40 L371.83,238.40 L372.17,238.40 L372.50,238.40 L372.83,238.40 L373.17,238.40 L373.50,238.40 L373.83,238.40 L374.17,238.40 L374.50,238.40 L374.83,238.40 L375.17,238.40 L375.50,238.40 L375.83,238.40 L376.17,238.40 L376.50,238.40 L376.83,238.40 L377.17,238.40 L377.50,238.40 L377.83,238.40 L378.17,238.40 L378.50,238.40 L378.83,238.40 L379.17,238.40 L379.50,238.40 L379.83,238.40 L380.17,238.40 L380.50,238.40 L380.83,238.40 L381.17,238.40 L381.50,238.40 L381.83,238.40 L382.17,238.40 L382.50,238.40 L382.83,238.39 L383.17,238.39 L383.50,238.38 L383.83,238.37 L384.17,238.35 L384.50,238.32 L384.83,238.27 L385.17,238.19 L385.50,238.08 L385.83,237.92 L386.17,237.69 L386.50,237.36 L386.83,236.91 L387.17,236.30 L387.50,235.48 L387.83,234.41 L388.17,233.03 L388.50,231.30 L388.83,229.17 L389.17,226.59 L389.50,223.53 L389.83,219.99 L390.17,215.97 L390.50,211.53 L390.83,206.73 L391.17,201.68 L391.50,196.52 L391.83,191.41 L392.17,186.54 L392.50,182.10 L392.83,178.27 L393.17,175.23 L393.50,173.12 L393.83,172.04 L394.17,172.04 L394.50,173.12 L394.83,175.23 L395.17,178.27 L395.50,182.10 L395.83,186.54 L396.17,191.41 L396.50,196.52 L396.83,201.68 L397.17,206.73 L397.50,211.53 L397.83,215.97 L398.17,219.99 L398.50,223.53 L398.83,226.59 L399.17,229.17 L399.50,231.30 L399.83,233.03 L400.17,234.41 L400.50,235.48 L400.83,236.30 L401.17,236.91 L401.50,237.36 L401.83,237.69 L402.17,237.92 L402.50,238.08 L402.83,238.19 L403.17,238.27 L403.50,238.32 L403.83,238.35 L404.17,238.37 L404.50,238.38 L404.83,238.39 L405.17,238.39 L405.50,238.40 L405.83,238.40 L406.17,238.40 L406.50,238.40 L406.83,238.40 L407.17,238.40 L407.50,238.40 L407.83,238.40 L408.17,238.40 L408.50,238.40 L408.83,238.40 L409.17,238.40 L409.50,238.40 L409.83,238.40 L410.17,238.40 L410.50,238.40 L410.83,238.40 L411.17,238.40 L411.50,238.40 L411.83,238.40 L412.17,238.40 L412.50,238.40" fill="none" stroke="#5a3a30" stroke-width="0.7" opacity="1.0" stroke-linejoin="round"/>
<path d="M342.50,238.40 L342.83,238.40 L343.17,238.40 L343.50,238.40 L343.83,238.40 L344.17,238.40 L344.50,238.40 L344.83,238.40 L345.17,238.40 L345.50,238.40 L345.83,238.40 L346.17,238.40 L346.50,238.40 L346.83,238.40 L347.17,238.40 L347.50,238.40 L347.83,238.40 L348.17,238.40 L348.50,238.40 L348.83,238.40 L349.17,238.40 L349.50,238.40 L349.83,238.40 L350.17,238.40 L350.50,238.40 L350.83,238.40 L351.17,238.40 L351.50,238.40 L351.83,238.40 L352.17,238.40 L352.50,238.40 L352.83,238.40 L353.17,238.40 L353.50,238.40 L353.83,238.40 L354.17,238.40 L354.50,238.40 L354.83,238.40 L355.17,238.40 L355.50,238.40 L355.83,238.40 L356.17,238.40 L356.50,238.40 L356.83,238.40 L357.17,238.40 L357.50,238.40 L357.83,238.40 L358.17,238.40 L358.50,238.40 L358.83,238.40 L359.17,238.40 L359.50,238.40 L359.83,238.40 L360.17,238.40 L360.50,238.40 L360.83,238.40 L361.17,238.40 L361.50,238.40 L361.83,238.40 L362.17,238.40 L362.50,238.40 L362.83,238.40 L363.17,238.40 L363.50,238.40 L363.83,238.40 L364.17,238.40 L364.50,238.40 L364.83,238.40 L365.17,238.40 L365.50,238.40 L365.83,238.40 L366.17,238.40 L366.50,238.40 L366.83,238.40 L367.17,238.40 L367.50,238.40 L367.83,238.40 L368.17,238.40 L368.50,238.40 L368.83,238.40 L369.17,238.40 L369.50,238.40 L369.83,238.40 L370.17,238.40 L370.50,238.40 L370.83,238.40 L371.17,238.40 L371.50,238.40 L371.83,238.40 L372.17,238.40 L372.50,238.40 L372.83,238.40 L373.17,238.40 L373.50,238.40 L373.83,238.40 L374.17,238.40 L374.50,238.40 L374.83,238.40 L375.17,238.40 L375.50,238.40 L375.83,238.40 L376.17,238.40 L376.50,238.40 L376.83,238.40 L377.17,238.40 L377.50,238.40 L377.83,238.40 L378.17,238.40 L378.50,238.40 L378.83,238.40 L379.17,238.40 L379.50,238.40 L379.83,238.40 L380.17,238.40 L380.50,238.40 L380.83,238.40 L381.17,238.40 L381.50,238.40 L381.83,238.40 L382.17,238.40 L382.50,238.40 L382.83,238.40 L383.17,238.40 L383.50,238.39 L383.83,238.39 L384.17,238.38 L384.50,238.37 L384.83,238.35 L385.17,238.32 L385.50,238.27 L385.83,238.20 L386.17,238.09 L386.50,237.94 L386.83,237.72 L387.17,237.40 L387.50,236.96 L387.83,236.36 L388.17,235.57 L388.50,234.52 L388.83,233.18 L389.17,231.48 L389.50,229.39 L389.83,226.85 L390.17,223.83 L390.50,220.34 L390.83,216.36 L391.17,211.95 L391.50,207.17 L391.83,202.13 L392.17,196.97 L392.50,191.84 L392.83,186.93 L393.17,182.43 L393.50,178.53 L393.83,175.40 L394.17,173.19 L394.50,172.00 L394.83,171.89 L395.17,172.86 L395.50,174.88 L395.83,177.84 L396.17,181.60 L396.50,185.99 L396.83,190.84 L397.17,195.94 L397.50,201.11 L397.83,206.18 L398.17,211.02 L398.50,215.51 L398.83,219.58 L399.17,223.17 L399.50,226.28 L399.83,228.92 L400.17,231.10 L400.50,232.87 L400.83,234.28 L401.17,235.38 L401.50,236.22 L401.83,236.85 L402.17,237.32 L402.50,237.66 L402.83,237.90 L403.17,238.07 L403.50,238.18 L403.83,238.26 L404.17,238.31 L404.50,238.35 L404.83,238.37 L405.17,238.38 L405.50,238.39 L405.83,238.39 L406.17,238.40 L406.50,238.40 L406.83,238.40 L407.17,238.40 L407.50,238.40 L407.83,238.40 L408.17,238.40 L408.50,238.40 L408.83,238.40 L409.17,238.40 L409.50,238.40 L409.83,238.40 L410.17,238.40 L410.50,238.40 L410.83,238.40 L411.17,238.40 L411.50,238.40 L411.83,238.40 L412.17,238.40 L412.50,238.40" fill="none" stroke="#c03a30" stroke-width="0.9" opacity="1.0" stroke-linejoin="round"/>
<rect x="341.5" y="167.3" width="71.5" height="71.5" fill="none" stroke="#9a9a9a" stroke-width="0.9"/>
<line x1="341.5" y1="238.8" x2="413.0" y2="238.8" stroke="#8a6a66" stroke-width="1.0" />
<line x1="340.5" y1="179.21666666666667" x2="341.5" y2="179.21666666666667" stroke="#aaa" stroke-width="0.5" />
<line x1="340.5" y1="191.13333333333335" x2="341.5" y2="191.13333333333335" stroke="#aaa" stroke-width="0.5" />
<line x1="340.5" y1="203.05" x2="341.5" y2="203.05" stroke="#aaa" stroke-width="0.5" />
<line x1="340.5" y1="214.96666666666667" x2="341.5" y2="214.96666666666667" stroke="#aaa" stroke-width="0.5" />
<line x1="340.5" y1="226.88333333333335" x2="341.5" y2="226.88333333333335" stroke="#aaa" stroke-width="0.5" />
<text x="409.2" y="178.0" font-size="9.8" text-anchor="end" font-weight="normal" fill="#222" stroke="#222" stroke-width="0.1" >TCR&#946;</text>
<rect x="352.5" y="237.20000000000002" width="2" height="1.4" fill="#333" stroke="none" stroke-width="1" />
<path d="M425.2,238.4 L425.20,238.40 L425.53,238.40 L425.87,238.40 L426.20,238.40 L426.53,238.40 L426.87,238.40 L427.20,238.40 L427.53,238.40 L427.87,238.40 L428.20,238.40 L428.53,238.40 L428.87,238.40 L429.20,238.40 L429.53,238.40 L429.87,238.40 L430.20,238.40 L430.53,238.40 L430.87,238.40 L431.20,238.40 L431.53,238.40 L431.87,238.40 L432.20,238.40 L432.53,238.40 L432.87,238.40 L433.20,238.40 L433.53,238.39 L433.87,238.37 L434.20,238.34 L434.53,238.26 L434.87,238.10 L435.20,237.80 L435.53,237.23 L435.87,236.26 L436.20,234.66 L436.53,232.18 L436.87,228.56 L437.20,223.57 L437.53,217.14 L437.87,209.38 L438.20,200.69 L438.53,191.77 L438.87,183.52 L439.20,176.92 L439.53,172.84 L439.87,171.85 L440.20,173.62 L440.53,177.72 L440.87,183.70 L441.20,190.95 L441.53,198.80 L441.87,206.59 L442.20,213.81 L442.53,220.11 L442.87,225.31 L443.20,229.39 L443.53,232.43 L443.87,234.59 L444.20,236.06 L444.53,237.02 L444.87,237.62 L445.20,237.97 L445.53,238.17 L445.87,238.29 L446.20,238.34 L446.53,238.37 L446.87,238.39 L447.20,238.39 L447.53,238.40 L447.87,238.40 L448.20,238.40 L448.53,238.40 L448.87,238.40 L449.20,238.40 L449.53,238.40 L449.87,238.40 L450.20,238.40 L450.53,238.40 L450.87,238.40 L451.20,238.40 L451.53,238.40 L451.87,238.40 L452.20,238.40 L452.53,238.40 L452.87,238.40 L453.20,238.40 L453.53,238.40 L453.87,238.40 L454.20,238.40 L454.53,238.40 L454.87,238.40 L455.20,238.40 L455.53,238.40 L455.87,238.40 L456.20,238.40 L456.53,238.40 L456.87,238.40 L457.20,238.40 L457.53,238.40 L457.87,238.40 L458.20,238.40 L458.53,238.40 L458.87,238.40 L459.20,238.40 L459.2,238.4 Z" fill="#dcdcdc" stroke="#b8b8b8" stroke-width="0.6" opacity="1.0"/>
<path d="M425.20,238.40 L425.53,238.40 L425.87,238.40 L426.20,238.40 L426.54,238.40 L426.87,238.40 L427.20,238.40 L427.54,238.40 L427.87,238.40 L428.20,238.40 L428.54,238.40 L428.87,238.40 L429.21,238.40 L429.54,238.40 L429.87,238.40 L430.21,238.40 L430.54,238.40 L430.87,238.40 L431.21,238.40 L431.54,238.40 L431.88,238.40 L432.21,238.40 L432.54,238.40 L432.88,238.40 L433.21,238.40 L433.55,238.40 L433.88,238.40 L434.21,238.40 L434.55,238.40 L434.88,238.40 L435.21,238.40 L435.55,238.40 L435.88,238.40 L436.22,238.40 L436.55,238.40 L436.88,238.40 L437.22,238.40 L437.55,238.40 L437.88,238.40 L438.22,238.40 L438.55,238.40 L438.89,238.40 L439.22,238.40 L439.55,238.40 L439.89,238.40 L440.22,238.40 L440.56,238.40 L440.89,238.40 L441.22,238.40 L441.56,238.40 L441.89,238.40 L442.22,238.40 L442.56,238.40 L442.89,238.40 L443.23,238.40 L443.56,238.40 L443.89,238.40 L444.23,238.40 L444.56,238.40 L444.89,238.40 L445.23,238.40 L445.56,238.40 L445.90,238.40 L446.23,238.40 L446.56,238.40 L446.90,238.40 L447.23,238.40 L447.57,238.40 L447.90,238.40 L448.23,238.40 L448.57,238.40 L448.90,238.40 L449.23,238.40 L449.57,238.40 L449.90,238.40 L450.24,238.40 L450.57,238.40 L450.90,238.40 L451.24,238.40 L451.57,238.40 L451.90,238.39 L452.24,238.39 L452.57,238.39 L452.91,238.39 L453.24,238.39 L453.57,238.38 L453.91,238.38 L454.24,238.37 L454.58,238.37 L454.91,238.36 L455.24,238.36 L455.58,238.35 L455.91,238.34 L456.24,238.32 L456.58,238.31 L456.91,238.29 L457.25,238.27 L457.58,238.24 L457.91,238.21 L458.25,238.18 L458.58,238.14 L458.91,238.09 L459.25,238.04 L459.58,237.97 L459.92,237.90 L460.25,237.82 L460.58,237.72 L460.92,237.61 L461.25,237.49 L461.59,237.35 L461.92,237.19 L462.25,237.01 L462.59,236.80 L462.92,236.58 L463.25,236.32 L463.59,236.03 L463.92,235.71 L464.26,235.36 L464.59,234.96 L464.92,234.53 L465.26,234.05 L465.59,233.52 L465.92,232.94 L466.26,232.31 L466.59,231.62 L466.93,230.87 L467.26,230.06 L467.59,229.19 L467.93,228.25 L468.26,227.24 L468.60,226.17 L468.93,225.02 L469.26,223.80 L469.60,222.51 L469.93,221.14 L470.26,219.71 L470.60,218.20 L470.93,216.63 L471.27,215.00 L471.60,213.30 L471.93,211.55 L472.27,209.74 L472.60,207.89 L472.93,206.00 L473.27,204.08 L473.60,202.13 L473.94,200.17 L474.27,198.20 L474.60,196.23 L474.94,194.28 L475.27,192.35 L475.61,190.45 L475.94,188.60 L476.27,186.80 L476.61,185.07 L476.94,183.42 L477.27,181.86 L477.61,180.39 L477.94,179.04 L478.28,177.80 L478.61,176.69 L478.94,175.71 L479.28,174.88 L479.61,174.19 L479.94,173.66 L480.28,173.28 L480.61,173.06 L480.95,173.00 L481.28,173.33 L481.61,174.16 L481.95,175.46 L482.28,177.22 L482.62,179.40 L482.95,181.94 L483.28,184.78 L483.62,187.89 L483.95,191.18 L484.28,194.60 L484.62,198.08 L484.95,201.58 L485.29,205.04 L485.62,208.40 L485.95,211.64 L486.29,214.71 L486.62,217.59 L486.95,220.27 L487.29,222.72 L487.62,224.95 L487.96,226.95 L488.29,228.73 L488.62,230.29 L488.96,231.66 L489.29,232.84 L489.63,233.84 L489.96,234.70 L490.29,235.42 L490.63,236.01 L490.96,236.51 L491.29,236.91 L491.63,237.23 L491.96,237.50 L492.30,237.70 L492.63,237.87 L492.96,238.00 L493.30,238.10 L493.63,238.17 L493.96,238.23 L494.30,238.28 L494.63,238.31 L494.97,238.34 L495.30,238.35" fill="none" stroke="#d0905a" stroke-width="0.8" opacity="1.0" stroke-linejoin="round"/>
<path d="M425.20,238.40 L425.53,238.40 L425.87,238.40 L426.20,238.40 L426.54,238.40 L426.87,238.40 L427.20,238.40 L427.54,238.40 L427.87,238.40 L428.20,238.40 L428.54,238.40 L428.87,238.40 L429.21,238.40 L429.54,238.40 L429.87,238.40 L430.21,238.40 L430.54,238.40 L430.87,238.40 L431.21,238.40 L431.54,238.40 L431.88,238.40 L432.21,238.40 L432.54,238.40 L432.88,238.40 L433.21,238.40 L433.55,238.40 L433.88,238.40 L434.21,238.40 L434.55,238.40 L434.88,238.40 L435.21,238.40 L435.55,238.40 L435.88,238.40 L436.22,238.40 L436.55,238.40 L436.88,238.40 L437.22,238.40 L437.55,238.40 L437.88,238.40 L438.22,238.40 L438.55,238.40 L438.89,238.40 L439.22,238.40 L439.55,238.40 L439.89,238.40 L440.22,238.40 L440.56,238.40 L440.89,238.40 L441.22,238.40 L441.56,238.40 L441.89,238.40 L442.22,238.40 L442.56,238.40 L442.89,238.40 L443.23,238.40 L443.56,238.40 L443.89,238.40 L444.23,238.40 L444.56,238.40 L444.89,238.40 L445.23,238.40 L445.56,238.40 L445.90,238.40 L446.23,238.40 L446.56,238.40 L446.90,238.40 L447.23,238.40 L447.57,238.40 L447.90,238.40 L448.23,238.40 L448.57,238.40 L448.90,238.40 L449.23,238.40 L449.57,238.40 L449.90,238.40 L450.24,238.40 L450.57,238.40 L450.90,238.40 L451.24,238.40 L451.57,238.40 L451.90,238.40 L452.24,238.40 L452.57,238.40 L452.91,238.40 L453.24,238.40 L453.57,238.40 L453.91,238.40 L454.24,238.40 L454.58,238.40 L454.91,238.40 L455.24,238.40 L455.58,238.40 L455.91,238.40 L456.24,238.40 L456.58,238.40 L456.91,238.39 L457.25,238.39 L457.58,238.39 L457.91,238.39 L458.25,238.39 L458.58,238.38 L458.91,238.38 L459.25,238.37 L459.58,238.36 L459.92,238.35 L460.25,238.34 L460.58,238.33 L460.92,238.31 L461.25,238.29 L461.59,238.27 L461.92,238.23 L462.25,238.20 L462.59,238.15 L462.92,238.10 L463.25,238.03 L463.59,237.96 L463.92,237.86 L464.26,237.76 L464.59,237.63 L464.92,237.48 L465.26,237.31 L465.59,237.11 L465.92,236.88 L466.26,236.61 L466.59,236.30 L466.93,235.95 L467.26,235.55 L467.59,235.10 L467.93,234.59 L468.26,234.01 L468.60,233.37 L468.93,232.65 L469.26,231.85 L469.60,230.97 L469.93,230.00 L470.26,228.93 L470.60,227.77 L470.93,226.51 L471.27,225.15 L471.60,223.68 L471.93,222.11 L472.27,220.43 L472.60,218.65 L472.93,216.77 L473.27,214.80 L473.60,212.74 L473.94,210.60 L474.27,208.39 L474.60,206.11 L474.94,203.79 L475.27,201.43 L475.61,199.05 L475.94,196.66 L476.27,194.29 L476.61,191.95 L476.94,189.65 L477.27,187.43 L477.61,185.29 L477.94,183.26 L478.28,181.36 L478.61,179.59 L478.94,177.99 L479.28,176.57 L479.61,175.33 L479.94,174.30 L480.28,173.49 L480.61,172.90 L480.95,172.53 L481.28,172.40 L481.61,172.65 L481.95,173.46 L482.28,174.81 L482.62,176.66 L482.95,178.97 L483.28,181.69 L483.62,184.74 L483.95,188.07 L484.28,191.59 L484.62,195.24 L484.95,198.95 L485.29,202.64 L485.62,206.27 L485.95,209.78 L486.29,213.12 L486.62,216.26 L486.95,219.18 L487.29,221.86 L487.62,224.28 L487.96,226.45 L488.29,228.38 L488.62,230.07 L488.96,231.53 L489.29,232.78 L489.63,233.85 L489.96,234.74 L490.29,235.49 L490.63,236.10 L490.96,236.60 L491.29,237.00 L491.63,237.32 L491.96,237.58 L492.30,237.78 L492.63,237.93 L492.96,238.05 L493.30,238.14 L493.63,238.21 L493.96,238.26 L494.30,238.30 L494.63,238.33 L494.97,238.35 L495.30,238.37" fill="none" stroke="#4a64b0" stroke-width="0.9" opacity="1.0" stroke-linejoin="round"/>
<path d="M425.20,238.40 L425.53,238.40 L425.87,238.40 L426.20,238.40 L426.54,238.40 L426.87,238.40 L427.20,238.40 L427.54,238.40 L427.87,238.40 L428.20,238.40 L428.54,238.40 L428.87,238.40 L429.21,238.40 L429.54,238.40 L429.87,238.40 L430.21,238.40 L430.54,238.40 L430.87,238.40 L431.21,238.40 L431.54,238.40 L431.88,238.40 L432.21,238.40 L432.54,238.40 L432.88,238.40 L433.21,238.40 L433.55,238.40 L433.88,238.40 L434.21,238.40 L434.55,238.40 L434.88,238.40 L435.21,238.40 L435.55,238.40 L435.88,238.40 L436.22,238.40 L436.55,238.40 L436.88,238.40 L437.22,238.40 L437.55,238.40 L437.88,238.40 L438.22,238.40 L438.55,238.40 L438.89,238.40 L439.22,238.40 L439.55,238.40 L439.89,238.40 L440.22,238.40 L440.56,238.40 L440.89,238.40 L441.22,238.40 L441.56,238.40 L441.89,238.40 L442.22,238.40 L442.56,238.40 L442.89,238.40 L443.23,238.40 L443.56,238.40 L443.89,238.40 L444.23,238.40 L444.56,238.40 L444.89,238.40 L445.23,238.40 L445.56,238.40 L445.90,238.40 L446.23,238.40 L446.56,238.40 L446.90,238.40 L447.23,238.40 L447.57,238.40 L447.90,238.40 L448.23,238.40 L448.57,238.40 L448.90,238.40 L449.23,238.40 L449.57,238.40 L449.90,238.40 L450.24,238.40 L450.57,238.40 L450.90,238.40 L451.24,238.40 L451.57,238.40 L451.90,238.40 L452.24,238.40 L452.57,238.40 L452.91,238.40 L453.24,238.40 L453.57,238.40 L453.91,238.40 L454.24,238.40 L454.58,238.40 L454.91,238.40 L455.24,238.40 L455.58,238.40 L455.91,238.40 L456.24,238.40 L456.58,238.39 L456.91,238.39 L457.25,238.39 L457.58,238.39 L457.91,238.38 L458.25,238.38 L458.58,238.37 L458.91,238.37 L459.25,238.36 L459.58,238.35 L459.92,238.34 L460.25,238.32 L460.58,238.30 L460.92,238.28 L461.25,238.25 L461.59,238.22 L461.92,238.17 L462.25,238.12 L462.59,238.07 L462.92,237.99 L463.25,237.91 L463.59,237.81 L463.92,237.69 L464.26,237.56 L464.59,237.40 L464.92,237.21 L465.26,236.99 L465.59,236.74 L465.92,236.45 L466.26,236.12 L466.59,235.75 L466.93,235.32 L467.26,234.83 L467.59,234.29 L467.93,233.68 L468.26,232.99 L468.60,232.23 L468.93,231.39 L469.26,230.46 L469.60,229.44 L469.93,228.32 L470.26,227.10 L470.60,225.79 L470.93,224.36 L471.27,222.84 L471.60,221.21 L471.93,219.47 L472.27,217.63 L472.60,215.70 L472.93,213.67 L473.27,211.56 L473.60,209.37 L473.94,207.12 L474.27,204.81 L474.60,202.45 L474.94,200.07 L475.27,197.67 L475.61,195.28 L475.94,192.91 L476.27,190.58 L476.61,188.31 L476.94,186.12 L477.27,184.02 L477.61,182.04 L477.94,180.20 L478.28,178.50 L478.61,176.98 L478.94,175.65 L479.28,174.51 L479.61,173.58 L479.94,172.87 L480.28,172.39 L480.61,172.14 L480.95,172.15 L481.28,172.69 L481.61,173.77 L481.95,175.38 L482.28,177.48 L482.62,180.01 L482.95,182.92 L483.28,186.13 L483.62,189.58 L483.95,193.19 L484.28,196.89 L484.62,200.62 L484.95,204.31 L485.29,207.89 L485.62,211.34 L485.95,214.60 L486.29,217.65 L486.62,220.46 L486.95,223.03 L487.29,225.34 L487.62,227.39 L487.96,229.21 L488.29,230.79 L488.62,232.15 L488.96,233.31 L489.29,234.29 L489.63,235.11 L489.96,235.79 L490.29,236.35 L490.63,236.80 L490.96,237.16 L491.29,237.45 L491.63,237.68 L491.96,237.86 L492.30,238.00 L492.63,238.10 L492.96,238.18 L493.30,238.24 L493.63,238.28 L493.96,238.32 L494.30,238.34 L494.63,238.36 L494.97,238.37 L495.30,238.38" fill="none" stroke="#4c9a44" stroke-width="0.8" opacity="1.0" stroke-linejoin="round"/>
<path d="M425.20,238.40 L425.53,238.40 L425.87,238.40 L426.20,238.40 L426.54,238.40 L426.87,238.40 L427.20,238.40 L427.54,238.40 L427.87,238.40 L428.20,238.40 L428.54,238.40 L428.87,238.40 L429.21,238.40 L429.54,238.40 L429.87,238.40 L430.21,238.40 L430.54,238.40 L430.87,238.40 L431.21,238.40 L431.54,238.40 L431.88,238.40 L432.21,238.40 L432.54,238.40 L432.88,238.40 L433.21,238.40 L433.55,238.40 L433.88,238.40 L434.21,238.40 L434.55,238.40 L434.88,238.40 L435.21,238.40 L435.55,238.40 L435.88,238.40 L436.22,238.40 L436.55,238.40 L436.88,238.40 L437.22,238.40 L437.55,238.40 L437.88,238.40 L438.22,238.40 L438.55,238.40 L438.89,238.40 L439.22,238.40 L439.55,238.40 L439.89,238.40 L440.22,238.40 L440.56,238.40 L440.89,238.40 L441.22,238.40 L441.56,238.40 L441.89,238.40 L442.22,238.40 L442.56,238.40 L442.89,238.40 L443.23,238.40 L443.56,238.40 L443.89,238.40 L444.23,238.40 L444.56,238.40 L444.89,238.40 L445.23,238.40 L445.56,238.40 L445.90,238.40 L446.23,238.40 L446.56,238.40 L446.90,238.40 L447.23,238.40 L447.57,238.40 L447.90,238.40 L448.23,238.40 L448.57,238.40 L448.90,238.40 L449.23,238.40 L449.57,238.40 L449.90,238.40 L450.24,238.40 L450.57,238.40 L450.90,238.40 L451.24,238.40 L451.57,238.40 L451.90,238.40 L452.24,238.40 L452.57,238.40 L452.91,238.40 L453.24,238.40 L453.57,238.40 L453.91,238.40 L454.24,238.40 L454.58,238.40 L454.91,238.40 L455.24,238.40 L455.58,238.40 L455.91,238.40 L456.24,238.40 L456.58,238.40 L456.91,238.40 L457.25,238.39 L457.58,238.39 L457.91,238.39 L458.25,238.39 L458.58,238.39 L458.91,238.38 L459.25,238.38 L459.58,238.37 L459.92,238.36 L460.25,238.35 L460.58,238.34 L460.92,238.33 L461.25,238.31 L461.59,238.29 L461.92,238.26 L462.25,238.23 L462.59,238.19 L462.92,238.14 L463.25,238.09 L463.59,238.02 L463.92,237.94 L464.26,237.85 L464.59,237.74 L464.92,237.61 L465.26,237.46 L465.59,237.28 L465.92,237.08 L466.26,236.84 L466.59,236.57 L466.93,236.25 L467.26,235.89 L467.59,235.49 L467.93,235.02 L468.26,234.50 L468.60,233.92 L468.93,233.26 L469.26,232.53 L469.60,231.71 L469.93,230.82 L470.26,229.83 L470.60,228.75 L470.93,227.57 L471.27,226.29 L471.60,224.90 L471.93,223.41 L472.27,221.82 L472.60,220.12 L472.93,218.31 L473.27,216.41 L473.60,214.42 L473.94,212.33 L474.27,210.17 L474.60,207.93 L474.94,205.63 L475.27,203.28 L475.61,200.90 L475.94,198.50 L476.27,196.10 L476.61,193.71 L476.94,191.36 L477.27,189.05 L477.61,186.82 L477.94,184.68 L478.28,182.64 L478.61,180.74 L478.94,178.98 L479.28,177.38 L479.61,175.97 L479.94,174.74 L480.28,173.73 L480.61,172.93 L480.95,172.35 L481.28,172.01 L481.61,171.90 L481.95,172.21 L482.28,173.08 L482.62,174.49 L482.95,176.41 L483.28,178.78 L483.62,181.56 L483.95,184.67 L484.28,188.04 L484.62,191.60 L484.95,195.29 L485.29,199.03 L485.62,202.75 L485.95,206.39 L486.29,209.91 L486.62,213.26 L486.95,216.40 L487.29,219.32 L487.62,221.99 L487.96,224.41 L488.29,226.57 L488.62,228.49 L488.96,230.16 L489.29,231.61 L489.63,232.86 L489.96,233.91 L490.29,234.80 L490.63,235.53 L490.96,236.14 L491.29,236.63 L491.63,237.03 L491.96,237.34 L492.30,237.59 L492.63,237.79 L492.96,237.94 L493.30,238.06 L493.63,238.15 L493.96,238.22 L494.30,238.27 L494.63,238.31 L494.97,238.33 L495.30,238.35" fill="none" stroke="#5a3a30" stroke-width="0.7" opacity="1.0" stroke-linejoin="round"/>
<path d="M425.20,238.40 L425.53,238.40 L425.87,238.40 L426.20,238.40 L426.54,238.40 L426.87,238.40 L427.20,238.40 L427.54,238.40 L427.87,238.40 L428.20,238.40 L428.54,238.40 L428.87,238.40 L429.21,238.40 L429.54,238.40 L429.87,238.40 L430.21,238.40 L430.54,238.40 L430.87,238.40 L431.21,238.40 L431.54,238.40 L431.88,238.40 L432.21,238.40 L432.54,238.40 L432.88,238.40 L433.21,238.40 L433.55,238.40 L433.88,238.40 L434.21,238.40 L434.55,238.40 L434.88,238.40 L435.21,238.40 L435.55,238.40 L435.88,238.40 L436.22,238.40 L436.55,238.40 L436.88,238.40 L437.22,238.40 L437.55,238.40 L437.88,238.40 L438.22,238.40 L438.55,238.40 L438.89,238.40 L439.22,238.40 L439.55,238.40 L439.89,238.40 L440.22,238.40 L440.56,238.40 L440.89,238.40 L441.22,238.40 L441.56,238.40 L441.89,238.40 L442.22,238.40 L442.56,238.40 L442.89,238.40 L443.23,238.40 L443.56,238.40 L443.89,238.40 L444.23,238.40 L444.56,238.40 L444.89,238.40 L445.23,238.40 L445.56,238.40 L445.90,238.40 L446.23,238.40 L446.56,238.40 L446.90,238.40 L447.23,238.40 L447.57,238.40 L447.90,238.40 L448.23,238.40 L448.57,238.40 L448.90,238.40 L449.23,238.40 L449.57,238.40 L449.90,238.40 L450.24,238.40 L450.57,238.40 L450.90,238.40 L451.24,238.40 L451.57,238.40 L451.90,238.40 L452.24,238.40 L452.57,238.40 L452.91,238.40 L453.24,238.40 L453.57,238.40 L453.91,238.40 L454.24,238.40 L454.58,238.40 L454.91,238.40 L455.24,238.40 L455.58,238.40 L455.91,238.40 L456.24,238.40 L456.58,238.40 L456.91,238.40 L457.25,238.40 L457.58,238.40 L457.91,238.39 L458.25,238.39 L458.58,238.39 L458.91,238.39 L459.25,238.39 L459.58,238.38 L459.92,238.38 L460.25,238.37 L460.58,238.36 L460.92,238.35 L461.25,238.34 L461.59,238.33 L461.92,238.31 L462.25,238.29 L462.59,238.26 L462.92,238.23 L463.25,238.20 L463.59,238.15 L463.92,238.09 L464.26,238.03 L464.59,237.95 L464.92,237.86 L465.26,237.75 L465.59,237.62 L465.92,237.47 L466.26,237.30 L466.59,237.10 L466.93,236.86 L467.26,236.59 L467.59,236.28 L467.93,235.93 L468.26,235.52 L468.60,235.07 L468.93,234.55 L469.26,233.97 L469.60,233.32 L469.93,232.59 L470.26,231.79 L470.60,230.90 L470.93,229.92 L471.27,228.84 L471.60,227.67 L471.93,226.40 L472.27,225.02 L472.60,223.54 L472.93,221.95 L473.27,220.26 L473.60,218.46 L473.94,216.57 L474.27,214.58 L474.60,212.50 L474.94,210.34 L475.27,208.10 L475.61,205.81 L475.94,203.46 L476.27,201.08 L476.61,198.68 L476.94,196.27 L477.27,193.88 L477.61,191.51 L477.94,189.20 L478.28,186.96 L478.61,184.80 L478.94,182.75 L479.28,180.83 L479.61,179.05 L479.94,177.44 L480.28,176.00 L480.61,174.76 L480.95,173.72 L481.28,172.90 L481.61,172.30 L481.95,171.93 L482.28,171.80 L482.62,172.05 L482.95,172.87 L483.28,174.24 L483.62,176.11 L483.95,178.44 L484.28,181.19 L484.62,184.27 L484.95,187.63 L485.29,191.18 L485.62,194.86 L485.95,198.60 L486.29,202.33 L486.62,205.99 L486.95,209.53 L487.29,212.90 L487.62,216.07 L487.96,219.02 L488.29,221.72 L488.62,224.16 L488.96,226.35 L489.29,228.30 L489.63,230.00 L489.96,231.47 L490.29,232.74 L490.63,233.81 L490.96,234.71 L491.29,235.46 L491.63,236.08 L491.96,236.58 L492.30,236.99 L492.63,237.31 L492.96,237.57 L493.30,237.77 L493.63,237.93 L493.96,238.05 L494.30,238.14 L494.63,238.21 L494.97,238.26 L495.30,238.30" fill="none" stroke="#c03a30" stroke-width="0.9" opacity="1.0" stroke-linejoin="round"/>
<rect x="424.2" y="167.3" width="71.6" height="71.5" fill="none" stroke="#9a9a9a" stroke-width="0.9"/>
<line x1="424.2" y1="238.8" x2="495.8" y2="238.8" stroke="#8a6a66" stroke-width="1.0" />
<line x1="423.2" y1="179.21666666666667" x2="424.2" y2="179.21666666666667" stroke="#aaa" stroke-width="0.5" />
<line x1="423.2" y1="191.13333333333335" x2="424.2" y2="191.13333333333335" stroke="#aaa" stroke-width="0.5" />
<line x1="423.2" y1="203.05" x2="424.2" y2="203.05" stroke="#aaa" stroke-width="0.5" />
<line x1="423.2" y1="214.96666666666667" x2="424.2" y2="214.96666666666667" stroke="#aaa" stroke-width="0.5" />
<line x1="423.2" y1="226.88333333333335" x2="424.2" y2="226.88333333333335" stroke="#aaa" stroke-width="0.5" />
<text x="492.0" y="178.0" font-size="9.8" text-anchor="end" font-weight="normal" fill="#222" stroke="#222" stroke-width="0.1" >CD5</text>
<rect x="435.2" y="237.20000000000002" width="2" height="1.4" fill="#333" stroke="none" stroke-width="1" />
<path d="M342.5,315.40000000000003 L342.50,315.40 L342.83,315.40 L343.17,315.40 L343.50,315.40 L343.83,315.40 L344.17,315.40 L344.50,315.40 L344.83,315.40 L345.17,315.40 L345.50,315.40 L345.83,315.40 L346.17,315.40 L346.50,315.40 L346.83,315.40 L347.17,315.40 L347.50,315.40 L347.83,315.40 L348.17,315.40 L348.50,315.40 L348.83,315.40 L349.17,315.40 L349.50,315.40 L349.83,315.40 L350.17,315.40 L350.50,315.40 L350.83,315.39 L351.17,315.37 L351.50,315.34 L351.83,315.26 L352.17,315.10 L352.50,314.80 L352.83,314.24 L353.17,313.27 L353.50,311.68 L353.83,309.21 L354.17,305.60 L354.50,300.64 L354.83,294.23 L355.17,286.51 L355.50,277.86 L355.83,268.98 L356.17,260.77 L356.50,254.20 L356.83,250.14 L357.17,249.15 L357.50,250.91 L357.83,254.99 L358.17,260.95 L358.50,268.17 L358.83,275.98 L359.17,283.73 L359.50,290.93 L359.83,297.20 L360.17,302.37 L360.50,306.43 L360.83,309.45 L361.17,311.61 L361.50,313.07 L361.83,314.03 L362.17,314.62 L362.50,314.97 L362.83,315.18 L363.17,315.29 L363.50,315.34 L363.83,315.37 L364.17,315.39 L364.50,315.39 L364.83,315.40 L365.17,315.40 L365.50,315.40 L365.83,315.40 L366.17,315.40 L366.50,315.40 L366.83,315.40 L367.17,315.40 L367.50,315.40 L367.83,315.40 L368.17,315.40 L368.50,315.40 L368.83,315.40 L369.17,315.40 L369.50,315.40 L369.83,315.40 L370.17,315.40 L370.50,315.40 L370.83,315.40 L371.17,315.40 L371.50,315.40 L371.83,315.40 L372.17,315.40 L372.50,315.40 L372.83,315.40 L373.17,315.40 L373.50,315.40 L373.83,315.40 L374.17,315.40 L374.50,315.40 L374.83,315.40 L375.17,315.40 L375.50,315.40 L375.83,315.40 L376.17,315.40 L376.50,315.40 L376.5,315.40000000000003 Z" fill="#dcdcdc" stroke="#b8b8b8" stroke-width="0.6" opacity="1.0"/>
<path d="M342.50,315.40 L342.83,315.40 L343.17,315.40 L343.50,315.40 L343.83,315.40 L344.17,315.40 L344.50,315.40 L344.83,315.40 L345.17,315.40 L345.50,315.40 L345.83,315.40 L346.17,315.40 L346.50,315.40 L346.83,315.40 L347.17,315.40 L347.50,315.40 L347.83,315.40 L348.17,315.40 L348.50,315.40 L348.83,315.40 L349.17,315.40 L349.50,315.40 L349.83,315.39 L350.17,315.39 L350.50,315.39 L350.83,315.39 L351.17,315.39 L351.50,315.38 L351.83,315.38 L352.17,315.37 L352.50,315.37 L352.83,315.36 L353.17,315.35 L353.50,315.34 L353.83,315.33 L354.17,315.31 L354.50,315.29 L354.83,315.27 L355.17,315.24 L355.50,315.22 L355.83,315.19 L356.17,315.15 L356.50,315.10 L356.83,315.05 L357.17,314.98 L357.50,314.93 L357.83,314.85 L358.17,314.75 L358.50,314.60 L358.83,314.54 L359.17,314.42 L359.50,314.26 L359.83,314.09 L360.17,313.86 L360.50,313.63 L360.83,313.50 L361.17,313.16 L361.50,312.98 L361.83,312.69 L362.17,312.07 L362.50,311.90 L362.83,311.41 L363.17,310.98 L363.50,310.24 L363.83,310.04 L364.17,309.58 L364.50,308.61 L364.83,307.76 L365.17,307.54 L365.50,306.90 L365.83,305.69 L366.17,305.18 L366.50,303.81 L366.83,302.62 L367.17,301.73 L367.50,301.61 L367.83,299.58 L368.17,298.29 L368.50,297.71 L368.83,297.09 L369.17,295.26 L369.50,294.61 L369.83,291.11 L370.17,292.02 L370.50,288.88 L370.83,286.93 L371.17,285.71 L371.50,284.19 L371.83,283.97 L372.17,282.63 L372.50,280.31 L372.83,280.78 L373.17,279.55 L373.50,276.36 L373.83,274.98 L374.17,273.89 L374.50,270.85 L374.83,270.05 L375.17,271.06 L375.50,268.05 L375.83,266.24 L376.17,266.32 L376.50,265.85 L376.83,261.09 L377.17,261.72 L377.50,262.10 L377.83,263.22 L378.17,258.58 L378.50,257.02 L378.83,258.96 L379.17,260.61 L379.50,255.71 L379.83,254.98 L380.17,255.45 L380.50,256.56 L380.83,256.15 L381.17,252.65 L381.50,255.48 L381.83,256.98 L382.17,257.12 L382.50,257.17 L382.83,254.16 L383.17,255.43 L383.50,252.94 L383.83,256.86 L384.17,257.36 L384.50,256.88 L384.83,252.97 L385.17,255.61 L385.50,254.78 L385.83,252.94 L386.17,254.44 L386.50,258.22 L386.83,257.67 L387.17,259.31 L387.50,259.88 L387.83,261.18 L388.17,260.18 L388.50,259.02 L388.83,259.79 L389.17,260.79 L389.50,264.54 L389.83,262.98 L390.17,268.19 L390.50,265.25 L390.83,269.47 L391.17,269.53 L391.50,270.89 L391.83,274.75 L392.17,273.67 L392.50,275.38 L392.83,276.24 L393.17,278.83 L393.50,279.73 L393.83,282.20 L394.17,283.87 L394.50,286.74 L394.83,287.53 L395.17,288.87 L395.50,291.73 L395.83,291.10 L396.17,294.36 L396.50,295.35 L396.83,297.13 L397.17,297.00 L397.50,298.62 L397.83,300.84 L398.17,301.04 L398.50,302.27 L398.83,303.58 L399.17,304.62 L399.50,305.92 L399.83,306.74 L400.17,307.52 L400.50,308.01 L400.83,308.80 L401.17,309.56 L401.50,310.36 L401.83,310.94 L402.17,311.38 L402.50,311.85 L402.83,312.23 L403.17,312.70 L403.50,313.08 L403.83,313.17 L404.17,313.55 L404.50,313.80 L404.83,313.99 L405.17,314.16 L405.50,314.34 L405.83,314.49 L406.17,314.66 L406.50,314.79 L406.83,314.87 L407.17,314.95 L407.50,315.01 L407.83,315.08 L408.17,315.13 L408.50,315.19 L408.83,315.22 L409.17,315.24 L409.50,315.28 L409.83,315.30 L410.17,315.32 L410.50,315.33 L410.83,315.34 L411.17,315.36 L411.50,315.36 L411.83,315.37 L412.17,315.38 L412.50,315.38" fill="none" stroke="#3a68c8" stroke-width="1.0" opacity="1.0" stroke-linejoin="round"/>
<path d="M342.50,315.40 L342.83,315.40 L343.17,315.40 L343.50,315.40 L343.83,315.40 L344.17,315.40 L344.50,315.40 L344.83,315.40 L345.17,315.40 L345.50,315.40 L345.83,315.40 L346.17,315.40 L346.50,315.40 L346.83,315.40 L347.17,315.40 L347.50,315.40 L347.83,315.40 L348.17,315.40 L348.50,315.40 L348.83,315.40 L349.17,315.40 L349.50,315.40 L349.83,315.40 L350.17,315.40 L350.50,315.40 L350.83,315.40 L351.17,315.40 L351.50,315.39 L351.83,315.39 L352.17,315.39 L352.50,315.39 L352.83,315.39 L353.17,315.38 L353.50,315.38 L353.83,315.38 L354.17,315.37 L354.50,315.37 L354.83,315.36 L355.17,315.35 L355.50,315.34 L355.83,315.33 L356.17,315.32 L356.50,315.30 L356.83,315.28 L357.17,315.26 L357.50,315.23 L357.83,315.20 L358.17,315.17 L358.50,315.13 L358.83,315.09 L359.17,315.04 L359.50,314.96 L359.83,314.87 L360.17,314.83 L360.50,314.73 L360.83,314.64 L361.17,314.47 L361.50,314.35 L361.83,314.19 L362.17,314.03 L362.50,313.86 L362.83,313.66 L363.17,313.53 L363.50,313.28 L363.83,312.94 L364.17,312.69 L364.50,312.39 L364.83,312.15 L365.17,311.61 L365.50,311.14 L365.83,310.95 L366.17,310.48 L366.50,309.68 L366.83,309.28 L367.17,308.53 L367.50,307.87 L367.83,307.27 L368.17,306.64 L368.50,306.04 L368.83,305.00 L369.17,303.62 L369.50,303.50 L369.83,302.76 L370.17,300.69 L370.50,299.75 L370.83,299.06 L371.17,298.62 L371.50,297.35 L371.83,295.16 L372.17,294.73 L372.50,292.28 L372.83,290.57 L373.17,291.46 L373.50,288.15 L373.83,286.54 L374.17,285.97 L374.50,284.61 L374.83,283.12 L375.17,281.98 L375.50,280.65 L375.83,280.43 L376.17,279.70 L376.50,278.15 L376.83,276.99 L377.17,275.04 L377.50,273.87 L377.83,269.29 L378.17,271.66 L378.50,268.11 L378.83,266.70 L379.17,267.80 L379.50,265.65 L379.83,264.08 L380.17,262.43 L380.50,261.45 L380.83,261.81 L381.17,259.90 L381.50,259.70 L381.83,261.49 L382.17,257.65 L382.50,254.92 L382.83,255.92 L383.17,256.87 L383.50,256.08 L383.83,256.68 L384.17,255.99 L384.50,252.87 L384.83,257.65 L385.17,254.00 L385.50,256.78 L385.83,251.70 L386.17,256.10 L386.50,253.74 L386.83,256.89 L387.17,252.22 L387.50,252.04 L387.83,251.98 L388.17,256.20 L388.50,257.61 L388.83,254.28 L389.17,254.27 L389.50,254.56 L389.83,253.58 L390.17,253.74 L390.50,258.25 L390.83,255.19 L391.17,256.10 L391.50,261.45 L391.83,259.92 L392.17,262.68 L392.50,259.71 L392.83,261.16 L393.17,265.62 L393.50,267.01 L393.83,264.55 L394.17,269.38 L394.50,269.82 L394.83,270.30 L395.17,272.76 L395.50,272.30 L395.83,273.64 L396.17,275.06 L396.50,277.26 L396.83,280.02 L397.17,281.87 L397.50,283.31 L397.83,286.53 L398.17,288.01 L398.50,287.01 L398.83,290.50 L399.17,290.44 L399.50,292.22 L399.83,294.57 L400.17,295.61 L400.50,297.03 L400.83,299.04 L401.17,300.49 L401.50,301.54 L401.83,301.98 L402.17,303.66 L402.50,303.76 L402.83,305.08 L403.17,306.64 L403.50,307.37 L403.83,307.77 L404.17,308.94 L404.50,309.58 L404.83,310.21 L405.17,310.38 L405.50,310.97 L405.83,311.69 L406.17,311.87 L406.50,312.42 L406.83,312.75 L407.17,313.03 L407.50,313.36 L407.83,313.64 L408.17,313.92 L408.50,314.14 L408.83,314.32 L409.17,314.49 L409.50,314.55 L409.83,314.68 L410.17,314.80 L410.50,314.93 L410.83,314.97 L411.17,315.05 L411.50,315.11 L411.83,315.17 L412.17,315.19 L412.50,315.23" fill="none" stroke="#3c9a40" stroke-width="1.0" opacity="1.0" stroke-linejoin="round"/>
<path d="M342.50,315.40 L342.83,315.40 L343.17,315.40 L343.50,315.40 L343.83,315.40 L344.17,315.40 L344.50,315.40 L344.83,315.40 L345.17,315.40 L345.50,315.40 L345.83,315.40 L346.17,315.40 L346.50,315.40 L346.83,315.40 L347.17,315.40 L347.50,315.40 L347.83,315.40 L348.17,315.40 L348.50,315.40 L348.83,315.40 L349.17,315.39 L349.50,315.39 L349.83,315.39 L350.17,315.39 L350.50,315.39 L350.83,315.39 L351.17,315.38 L351.50,315.38 L351.83,315.38 L352.17,315.37 L352.50,315.37 L352.83,315.36 L353.17,315.35 L353.50,315.34 L353.83,315.33 L354.17,315.32 L354.50,315.31 L354.83,315.29 L355.17,315.28 L355.50,315.25 L355.83,315.22 L356.17,315.21 L356.50,315.18 L356.83,315.12 L357.17,315.08 L357.50,315.04 L357.83,314.97 L358.17,314.93 L358.50,314.88 L358.83,314.80 L359.17,314.72 L359.50,314.58 L359.83,314.47 L360.17,314.36 L360.50,314.26 L360.83,314.09 L361.17,313.96 L361.50,313.79 L361.83,313.58 L362.17,313.35 L362.50,313.18 L362.83,312.77 L363.17,312.55 L363.50,312.17 L363.83,312.05 L364.17,311.57 L364.50,311.15 L364.83,310.76 L365.17,310.54 L365.50,309.84 L365.83,309.36 L366.17,308.63 L366.50,308.28 L366.83,307.60 L367.17,307.10 L367.50,306.32 L367.83,305.42 L368.17,305.02 L368.50,304.26 L368.83,303.33 L369.17,302.15 L369.50,301.16 L369.83,300.42 L370.17,299.74 L370.50,298.08 L370.83,296.90 L371.17,296.11 L371.50,294.81 L371.83,293.21 L372.17,292.44 L372.50,291.45 L372.83,290.73 L373.17,289.74 L373.50,286.92 L373.83,287.21 L374.17,284.27 L374.50,282.83 L374.83,283.64 L375.17,281.04 L375.50,281.02 L375.83,279.89 L376.17,278.64 L376.50,276.91 L376.83,275.68 L377.17,274.53 L377.50,273.89 L377.83,269.90 L378.17,270.96 L378.50,267.59 L378.83,268.03 L379.17,268.71 L379.50,264.36 L379.83,265.02 L380.17,264.94 L380.50,260.85 L380.83,262.86 L381.17,263.23 L381.50,261.44 L381.83,258.57 L382.17,261.18 L382.50,259.48 L382.83,256.09 L383.17,256.24 L383.50,256.27 L383.83,255.54 L384.17,254.19 L384.50,254.69 L384.83,254.45 L385.17,253.10 L385.50,254.02 L385.83,254.12 L386.17,255.70 L386.50,255.83 L386.83,256.03 L387.17,254.47 L387.50,255.29 L387.83,253.12 L388.17,252.17 L388.50,255.38 L388.83,254.65 L389.17,253.20 L389.50,256.04 L389.83,252.84 L390.17,254.85 L390.50,257.37 L390.83,253.67 L391.17,255.72 L391.50,255.52 L391.83,255.08 L392.17,255.61 L392.50,258.91 L392.83,261.09 L393.17,258.23 L393.50,258.82 L393.83,263.26 L394.17,263.65 L394.50,264.87 L394.83,263.98 L395.17,264.30 L395.50,268.51 L395.83,269.24 L396.17,268.79 L396.50,271.62 L396.83,273.92 L397.17,274.48 L397.50,277.44 L397.83,276.56 L398.17,279.37 L398.50,280.99 L398.83,281.47 L399.17,283.79 L399.50,284.05 L399.83,287.50 L400.17,288.27 L400.50,288.92 L400.83,290.84 L401.17,292.52 L401.50,293.90 L401.83,295.90 L402.17,297.01 L402.50,298.72 L402.83,299.89 L403.17,300.04 L403.50,301.52 L403.83,302.56 L404.17,303.69 L404.50,305.07 L404.83,305.80 L405.17,306.58 L405.50,307.02 L405.83,307.79 L406.17,308.51 L406.50,309.20 L406.83,310.04 L407.17,310.71 L407.50,310.94 L407.83,311.69 L408.17,311.90 L408.50,312.45 L408.83,312.70 L409.17,313.00 L409.50,313.28 L409.83,313.64 L410.17,313.80 L410.50,313.99 L410.83,314.18 L411.17,314.38 L411.50,314.48 L411.83,314.62 L412.17,314.74 L412.50,314.83" fill="none" stroke="#d09a30" stroke-width="0.8" opacity="1.0" stroke-linejoin="round"/>
<path d="M342.50,315.40 L342.83,315.40 L343.17,315.40 L343.50,315.40 L343.83,315.40 L344.17,315.40 L344.50,315.40 L344.83,315.40 L345.17,315.40 L345.50,315.40 L345.83,315.40 L346.17,315.40 L346.50,315.40 L346.83,315.40 L347.17,315.40 L347.50,315.40 L347.83,315.40 L348.17,315.40 L348.50,315.40 L348.83,315.40 L349.17,315.40 L349.50,315.40 L349.83,315.40 L350.17,315.40 L350.50,315.40 L350.83,315.40 L351.17,315.40 L351.50,315.40 L351.83,315.40 L352.17,315.40 L352.50,315.40 L352.83,315.40 L353.17,315.40 L353.50,315.40 L353.83,315.40 L354.17,315.40 L354.50,315.40 L354.83,315.40 L355.17,315.40 L355.50,315.40 L355.83,315.40 L356.17,315.40 L356.50,315.40 L356.83,315.40 L357.17,315.40 L357.50,315.40 L357.83,315.40 L358.17,315.40 L358.50,315.40 L358.83,315.39 L359.17,315.39 L359.50,315.39 L359.83,315.39 L360.17,315.39 L360.50,315.38 L360.83,315.38 L361.17,315.37 L361.50,315.36 L361.83,315.36 L362.17,315.35 L362.50,315.33 L362.83,315.31 L363.17,315.30 L363.50,315.28 L363.83,315.25 L364.17,315.21 L364.50,315.19 L364.83,315.14 L365.17,315.08 L365.50,315.02 L365.83,314.96 L366.17,314.87 L366.50,314.78 L366.83,314.63 L367.17,314.53 L367.50,314.43 L367.83,314.26 L368.17,314.04 L368.50,313.93 L368.83,313.71 L369.17,313.32 L369.50,312.97 L369.83,312.68 L370.17,312.53 L370.50,312.03 L370.83,311.50 L371.17,311.28 L371.50,310.76 L371.83,310.11 L372.17,309.69 L372.50,309.09 L372.83,308.01 L373.17,307.50 L373.50,306.34 L373.83,305.68 L374.17,304.40 L374.50,304.13 L374.83,303.08 L375.17,302.17 L375.50,301.39 L375.83,299.91 L376.17,298.63 L376.50,297.16 L376.83,296.19 L377.17,293.54 L377.50,292.37 L377.83,292.18 L378.17,291.14 L378.50,288.99 L378.83,288.58 L379.17,286.95 L379.50,283.91 L379.83,284.29 L380.17,280.00 L380.50,281.57 L380.83,276.82 L381.17,277.58 L381.50,275.54 L381.83,274.72 L382.17,272.63 L382.50,272.03 L382.83,272.03 L383.17,271.09 L383.50,266.21 L383.83,266.67 L384.17,264.08 L384.50,266.56 L384.83,263.27 L385.17,262.05 L385.50,262.03 L385.83,262.42 L386.17,258.70 L386.50,257.84 L386.83,256.06 L387.17,259.98 L387.50,259.67 L387.83,255.66 L388.17,255.23 L388.50,257.50 L388.83,254.19 L389.17,252.62 L389.50,255.05 L389.83,256.78 L390.17,251.50 L390.50,256.97 L390.83,251.57 L391.17,255.99 L391.50,254.87 L391.83,252.35 L392.17,251.38 L392.50,255.55 L392.83,256.48 L393.17,256.56 L393.50,253.20 L393.83,253.15 L394.17,251.13 L394.50,253.79 L394.83,253.77 L395.17,252.10 L395.50,252.66 L395.83,255.11 L396.17,253.83 L396.50,256.03 L396.83,258.56 L397.17,255.54 L397.50,256.75 L397.83,255.26 L398.17,258.07 L398.50,261.85 L398.83,259.54 L399.17,261.90 L399.50,265.57 L399.83,264.88 L400.17,264.21 L400.50,267.04 L400.83,269.56 L401.17,273.04 L401.50,271.82 L401.83,272.30 L402.17,274.68 L402.50,278.97 L402.83,281.12 L403.17,281.73 L403.50,284.23 L403.83,285.18 L404.17,287.38 L404.50,288.44 L404.83,289.85 L405.17,292.96 L405.50,293.85 L405.83,295.66 L406.17,298.27 L406.50,298.76 L406.83,300.95 L407.17,301.95 L407.50,303.34 L407.83,304.38 L408.17,305.33 L408.50,306.42 L408.83,308.10 L409.17,308.97 L409.50,309.74 L409.83,310.03 L410.17,310.82 L410.50,311.47 L410.83,312.09 L411.17,312.59 L411.50,312.93 L411.83,313.24 L412.17,313.60 L412.50,313.92" fill="none" stroke="#c42a2a" stroke-width="1.0" opacity="1.0" stroke-linejoin="round"/>
<rect x="341.5" y="244.6" width="71.5" height="71.2" fill="none" stroke="#9a9a9a" stroke-width="0.9"/>
<line x1="341.5" y1="315.8" x2="413.0" y2="315.8" stroke="#8a6a66" stroke-width="1.0" />
<line x1="340.5" y1="256.46666666666664" x2="341.5" y2="256.46666666666664" stroke="#aaa" stroke-width="0.5" />
<line x1="340.5" y1="268.3333333333333" x2="341.5" y2="268.3333333333333" stroke="#aaa" stroke-width="0.5" />
<line x1="340.5" y1="280.2" x2="341.5" y2="280.2" stroke="#aaa" stroke-width="0.5" />
<line x1="340.5" y1="292.06666666666666" x2="341.5" y2="292.06666666666666" stroke="#aaa" stroke-width="0.5" />
<line x1="340.5" y1="303.93333333333334" x2="341.5" y2="303.93333333333334" stroke="#aaa" stroke-width="0.5" />
<text x="409.2" y="255.29999999999998" font-size="9.8" text-anchor="end" font-weight="normal" fill="#222" stroke="#222" stroke-width="0.1" >CD25</text>
<rect x="352.5" y="314.2" width="2" height="1.4" fill="#333" stroke="none" stroke-width="1" />
<path d="M425.2,315.40000000000003 L425.20,315.40 L425.53,315.40 L425.87,315.40 L426.20,315.40 L426.53,315.40 L426.87,315.40 L427.20,315.40 L427.53,315.40 L427.87,315.40 L428.20,315.40 L428.53,315.40 L428.87,315.40 L429.20,315.40 L429.53,315.40 L429.87,315.40 L430.20,315.40 L430.53,315.40 L430.87,315.40 L431.20,315.40 L431.53,315.40 L431.87,315.40 L432.20,315.40 L432.53,315.40 L432.87,315.40 L433.20,315.40 L433.53,315.39 L433.87,315.37 L434.20,315.34 L434.53,315.26 L434.87,315.10 L435.20,314.80 L435.53,314.24 L435.87,313.27 L436.20,311.68 L436.53,309.21 L436.87,305.60 L437.20,300.64 L437.53,294.23 L437.87,286.51 L438.20,277.86 L438.53,268.98 L438.87,260.77 L439.20,254.20 L439.53,250.14 L439.87,249.15 L440.20,250.91 L440.53,254.99 L440.87,260.95 L441.20,268.17 L441.53,275.98 L441.87,283.73 L442.20,290.93 L442.53,297.20 L442.87,302.37 L443.20,306.43 L443.53,309.45 L443.87,311.61 L444.20,313.07 L444.53,314.03 L444.87,314.62 L445.20,314.97 L445.53,315.18 L445.87,315.29 L446.20,315.34 L446.53,315.37 L446.87,315.39 L447.20,315.39 L447.53,315.40 L447.87,315.40 L448.20,315.40 L448.53,315.40 L448.87,315.40 L449.20,315.40 L449.53,315.40 L449.87,315.40 L450.20,315.40 L450.53,315.40 L450.87,315.40 L451.20,315.40 L451.53,315.40 L451.87,315.40 L452.20,315.40 L452.53,315.40 L452.87,315.40 L453.20,315.40 L453.53,315.40 L453.87,315.40 L454.20,315.40 L454.53,315.40 L454.87,315.40 L455.20,315.40 L455.53,315.40 L455.87,315.40 L456.20,315.40 L456.53,315.40 L456.87,315.40 L457.20,315.40 L457.53,315.40 L457.87,315.40 L458.20,315.40 L458.53,315.40 L458.87,315.40 L459.20,315.40 L459.2,315.40000000000003 Z" fill="#dcdcdc" stroke="#b8b8b8" stroke-width="0.6" opacity="1.0"/>
<path d="M425.20,315.40 L425.53,315.40 L425.87,315.40 L426.20,315.40 L426.54,315.40 L426.87,315.40 L427.20,315.40 L427.54,315.40 L427.87,315.40 L428.20,315.40 L428.54,315.40 L428.87,315.40 L429.21,315.40 L429.54,315.40 L429.87,315.40 L430.21,315.40 L430.54,315.40 L430.87,315.39 L431.21,315.39 L431.54,315.38 L431.88,315.37 L432.21,315.36 L432.54,315.33 L432.88,315.30 L433.21,315.25 L433.55,315.19 L433.88,315.09 L434.21,314.96 L434.55,314.77 L434.88,314.53 L435.21,314.20 L435.55,313.76 L435.88,313.20 L436.22,312.48 L436.55,311.56 L436.88,310.43 L437.22,309.04 L437.55,307.36 L437.88,305.36 L438.22,303.02 L438.55,300.33 L438.89,297.27 L439.22,293.86 L439.55,290.12 L439.89,286.10 L440.22,281.86 L440.56,277.47 L440.89,273.04 L441.22,268.68 L441.56,264.50 L441.89,260.63 L442.22,257.19 L442.56,254.29 L442.89,252.04 L443.23,250.52 L443.56,249.77 L443.89,249.72 L444.23,249.88 L444.56,250.17 L444.89,250.60 L445.23,251.16 L445.56,251.86 L445.90,252.69 L446.23,253.63 L446.56,254.70 L446.90,255.87 L447.23,257.15 L447.57,258.52 L447.90,259.97 L448.23,261.51 L448.57,263.12 L448.90,264.78 L449.23,266.50 L449.57,268.27 L449.90,270.06 L450.24,271.89 L450.57,273.72 L450.90,275.57 L451.24,277.42 L451.57,279.25 L451.90,281.08 L452.24,282.88 L452.57,284.65 L452.91,286.39 L453.24,288.09 L453.57,289.74 L453.91,291.35 L454.24,292.90 L454.58,294.40 L454.91,295.84 L455.24,297.23 L455.58,298.55 L455.91,299.80 L456.24,301.00 L456.58,302.13 L456.91,303.20 L457.25,304.21 L457.58,305.15 L457.91,306.04 L458.25,306.87 L458.58,307.64 L458.91,308.35 L459.25,309.02 L459.58,309.63 L459.92,310.20 L460.25,310.72 L460.58,311.20 L460.92,311.63 L461.25,312.03 L461.59,312.40 L461.92,312.73 L462.25,313.02 L462.59,313.29 L462.92,313.54 L463.25,313.76 L463.59,313.95 L463.92,314.13 L464.26,314.28 L464.59,314.42 L464.92,314.55 L465.26,314.66 L465.59,314.75 L465.92,314.84 L466.26,314.91 L466.59,314.98 L466.93,315.04 L467.26,315.09 L467.59,315.13 L467.93,315.17 L468.26,315.20 L468.60,315.23 L468.93,315.26 L469.26,315.28 L469.60,315.30 L469.93,315.31 L470.26,315.33 L470.60,315.34 L470.93,315.35 L471.27,315.36 L471.60,315.36 L471.93,315.37 L472.27,315.37 L472.60,315.38 L472.93,315.38 L473.27,315.39 L473.60,315.39 L473.94,315.39 L474.27,315.39 L474.60,315.39 L474.94,315.39 L475.27,315.40 L475.61,315.40 L475.94,315.40 L476.27,315.40 L476.61,315.40 L476.94,315.40 L477.27,315.40 L477.61,315.40 L477.94,315.40 L478.28,315.40 L478.61,315.40 L478.94,315.40 L479.28,315.40 L479.61,315.40 L479.94,315.40 L480.28,315.40 L480.61,315.40 L480.95,315.40 L481.28,315.40 L481.61,315.40 L481.95,315.40 L482.28,315.40 L482.62,315.40 L482.95,315.40 L483.28,315.40 L483.62,315.40 L483.95,315.40 L484.28,315.40 L484.62,315.40 L484.95,315.40 L485.29,315.40 L485.62,315.40 L485.95,315.40 L486.29,315.40 L486.62,315.40 L486.95,315.40 L487.29,315.40 L487.62,315.40 L487.96,315.40 L488.29,315.40 L488.62,315.40 L488.96,315.40 L489.29,315.40 L489.63,315.40 L489.96,315.40 L490.29,315.40 L490.63,315.40 L490.96,315.40 L491.29,315.40 L491.63,315.40 L491.96,315.40 L492.30,315.40 L492.63,315.40 L492.96,315.40 L493.30,315.40 L493.63,315.40 L493.96,315.40 L494.30,315.40 L494.63,315.40 L494.97,315.40 L495.30,315.40" fill="none" stroke="#4a64b0" stroke-width="0.9" opacity="1.0" stroke-linejoin="round"/>
<path d="M425.20,315.40 L425.53,315.40 L425.87,315.40 L426.20,315.40 L426.54,315.40 L426.87,315.40 L427.20,315.40 L427.54,315.40 L427.87,315.40 L428.20,315.40 L428.54,315.40 L428.87,315.40 L429.21,315.40 L429.54,315.40 L429.87,315.40 L430.21,315.39 L430.54,315.39 L430.87,315.39 L431.21,315.38 L431.54,315.37 L431.88,315.35 L432.21,315.32 L432.54,315.28 L432.88,315.22 L433.21,315.14 L433.55,315.03 L433.88,314.87 L434.21,314.66 L434.55,314.37 L434.88,313.99 L435.21,313.49 L435.55,312.85 L435.88,312.03 L436.22,311.01 L436.55,309.75 L436.88,308.21 L437.22,306.37 L437.55,304.19 L437.88,301.66 L438.22,298.77 L438.55,295.52 L438.89,291.93 L439.22,288.02 L439.55,283.87 L439.89,279.52 L440.22,275.08 L440.56,270.65 L440.89,266.34 L441.22,262.28 L441.56,258.59 L441.89,255.40 L442.22,252.80 L442.56,250.89 L442.89,249.75 L443.23,249.40 L443.56,249.48 L443.89,249.71 L444.23,250.07 L444.56,250.57 L444.89,251.20 L445.23,251.97 L445.56,252.86 L445.90,253.87 L446.23,254.99 L446.56,256.22 L446.90,257.55 L447.23,258.98 L447.57,260.48 L447.90,262.06 L448.23,263.71 L448.57,265.41 L448.90,267.16 L449.23,268.95 L449.57,270.76 L449.90,272.60 L450.24,274.46 L450.57,276.31 L450.90,278.16 L451.24,280.00 L451.57,281.82 L451.90,283.62 L452.24,285.39 L452.57,287.11 L452.91,288.80 L453.24,290.44 L453.57,292.02 L453.91,293.56 L454.24,295.04 L454.58,296.45 L454.91,297.81 L455.24,299.11 L455.58,300.34 L455.91,301.51 L456.24,302.61 L456.58,303.65 L456.91,304.64 L457.25,305.56 L457.58,306.42 L457.91,307.22 L458.25,307.97 L458.58,308.66 L458.91,309.30 L459.25,309.90 L459.58,310.44 L459.92,310.94 L460.25,311.40 L460.58,311.82 L460.92,312.20 L461.25,312.55 L461.59,312.87 L461.92,313.15 L462.25,313.41 L462.59,313.64 L462.92,313.85 L463.25,314.04 L463.59,314.20 L463.92,314.35 L464.26,314.48 L464.59,314.60 L464.92,314.70 L465.26,314.80 L465.59,314.88 L465.92,314.95 L466.26,315.01 L466.59,315.06 L466.93,315.11 L467.26,315.15 L467.59,315.19 L467.93,315.22 L468.26,315.25 L468.60,315.27 L468.93,315.29 L469.26,315.31 L469.60,315.32 L469.93,315.33 L470.26,315.34 L470.60,315.35 L470.93,315.36 L471.27,315.37 L471.60,315.37 L471.93,315.38 L472.27,315.38 L472.60,315.38 L472.93,315.39 L473.27,315.39 L473.60,315.39 L473.94,315.39 L474.27,315.39 L474.60,315.40 L474.94,315.40 L475.27,315.40 L475.61,315.40 L475.94,315.40 L476.27,315.40 L476.61,315.40 L476.94,315.40 L477.27,315.40 L477.61,315.40 L477.94,315.40 L478.28,315.40 L478.61,315.40 L478.94,315.40 L479.28,315.40 L479.61,315.40 L479.94,315.40 L480.28,315.40 L480.61,315.40 L480.95,315.40 L481.28,315.40 L481.61,315.40 L481.95,315.40 L482.28,315.40 L482.62,315.40 L482.95,315.40 L483.28,315.40 L483.62,315.40 L483.95,315.40 L484.28,315.40 L484.62,315.40 L484.95,315.40 L485.29,315.40 L485.62,315.40 L485.95,315.40 L486.29,315.40 L486.62,315.40 L486.95,315.40 L487.29,315.40 L487.62,315.40 L487.96,315.40 L488.29,315.40 L488.62,315.40 L488.96,315.40 L489.29,315.40 L489.63,315.40 L489.96,315.40 L490.29,315.40 L490.63,315.40 L490.96,315.40 L491.29,315.40 L491.63,315.40 L491.96,315.40 L492.30,315.40 L492.63,315.40 L492.96,315.40 L493.30,315.40 L493.63,315.40 L493.96,315.40 L494.30,315.40 L494.63,315.40 L494.97,315.40 L495.30,315.40" fill="none" stroke="#4c9a44" stroke-width="0.8" opacity="1.0" stroke-linejoin="round"/>
<path d="M425.20,315.40 L425.53,315.40 L425.87,315.40 L426.20,315.40 L426.54,315.40 L426.87,315.40 L427.20,315.40 L427.54,315.40 L427.87,315.40 L428.20,315.40 L428.54,315.40 L428.87,315.40 L429.21,315.40 L429.54,315.40 L429.87,315.40 L430.21,315.40 L430.54,315.40 L430.87,315.40 L431.21,315.39 L431.54,315.39 L431.88,315.38 L432.21,315.37 L432.54,315.35 L432.88,315.33 L433.21,315.30 L433.55,315.25 L433.88,315.18 L434.21,315.08 L434.55,314.94 L434.88,314.75 L435.21,314.49 L435.55,314.15 L435.88,313.70 L436.22,313.12 L436.55,312.37 L436.88,311.43 L437.22,310.26 L437.55,308.83 L437.88,307.11 L438.22,305.06 L438.55,302.67 L438.89,299.92 L439.22,296.80 L439.55,293.33 L439.89,289.53 L440.22,285.45 L440.56,281.16 L440.89,276.73 L441.22,272.27 L441.56,267.89 L441.89,263.70 L442.22,259.84 L442.56,256.42 L442.89,253.57 L443.23,251.37 L443.56,249.91 L443.89,249.24 L444.23,249.23 L444.56,249.40 L444.89,249.71 L445.23,250.16 L445.56,250.74 L445.90,251.46 L446.23,252.30 L446.56,253.27 L446.90,254.35 L447.23,255.54 L447.57,256.84 L447.90,258.23 L448.23,259.71 L448.57,261.26 L448.90,262.89 L449.23,264.57 L449.57,266.31 L449.90,268.09 L450.24,269.90 L450.57,271.74 L450.90,273.59 L451.24,275.45 L451.57,277.31 L451.90,279.17 L452.24,281.00 L452.57,282.81 L452.91,284.60 L453.24,286.34 L453.57,288.05 L453.91,289.71 L454.24,291.33 L454.58,292.89 L454.91,294.39 L455.24,295.84 L455.58,297.22 L455.91,298.55 L456.24,299.81 L456.58,301.01 L456.91,302.14 L457.25,303.21 L457.58,304.22 L457.91,305.17 L458.25,306.05 L458.58,306.88 L458.91,307.65 L459.25,308.37 L459.58,309.04 L459.92,309.65 L460.25,310.21 L460.58,310.74 L460.92,311.21 L461.25,311.65 L461.59,312.05 L461.92,312.41 L462.25,312.74 L462.59,313.04 L462.92,313.30 L463.25,313.55 L463.59,313.76 L463.92,313.96 L464.26,314.13 L464.59,314.29 L464.92,314.43 L465.26,314.55 L465.59,314.66 L465.92,314.76 L466.26,314.84 L466.59,314.92 L466.93,314.98 L467.26,315.04 L467.59,315.09 L467.93,315.14 L468.26,315.17 L468.60,315.21 L468.93,315.23 L469.26,315.26 L469.60,315.28 L469.93,315.30 L470.26,315.31 L470.60,315.33 L470.93,315.34 L471.27,315.35 L471.60,315.36 L471.93,315.36 L472.27,315.37 L472.60,315.38 L472.93,315.38 L473.27,315.38 L473.60,315.39 L473.94,315.39 L474.27,315.39 L474.60,315.39 L474.94,315.39 L475.27,315.39 L475.61,315.40 L475.94,315.40 L476.27,315.40 L476.61,315.40 L476.94,315.40 L477.27,315.40 L477.61,315.40 L477.94,315.40 L478.28,315.40 L478.61,315.40 L478.94,315.40 L479.28,315.40 L479.61,315.40 L479.94,315.40 L480.28,315.40 L480.61,315.40 L480.95,315.40 L481.28,315.40 L481.61,315.40 L481.95,315.40 L482.28,315.40 L482.62,315.40 L482.95,315.40 L483.28,315.40 L483.62,315.40 L483.95,315.40 L484.28,315.40 L484.62,315.40 L484.95,315.40 L485.29,315.40 L485.62,315.40 L485.95,315.40 L486.29,315.40 L486.62,315.40 L486.95,315.40 L487.29,315.40 L487.62,315.40 L487.96,315.40 L488.29,315.40 L488.62,315.40 L488.96,315.40 L489.29,315.40 L489.63,315.40 L489.96,315.40 L490.29,315.40 L490.63,315.40 L490.96,315.40 L491.29,315.40 L491.63,315.40 L491.96,315.40 L492.30,315.40 L492.63,315.40 L492.96,315.40 L493.30,315.40 L493.63,315.40 L493.96,315.40 L494.30,315.40 L494.63,315.40 L494.97,315.40 L495.30,315.40" fill="none" stroke="#5a3a30" stroke-width="0.7" opacity="1.0" stroke-linejoin="round"/>
<path d="M425.20,315.40 L425.53,315.40 L425.87,315.40 L426.20,315.40 L426.54,315.40 L426.87,315.40 L427.20,315.40 L427.54,315.40 L427.87,315.40 L428.20,315.40 L428.54,315.40 L428.87,315.40 L429.21,315.40 L429.54,315.40 L429.87,315.40 L430.21,315.40 L430.54,315.40 L430.87,315.40 L431.21,315.40 L431.54,315.39 L431.88,315.39 L432.21,315.38 L432.54,315.37 L432.88,315.36 L433.21,315.34 L433.55,315.32 L433.88,315.28 L434.21,315.23 L434.55,315.16 L434.88,315.06 L435.21,314.94 L435.55,314.76 L435.88,314.54 L436.22,314.25 L436.55,313.87 L436.88,313.39 L437.22,312.79 L437.55,312.04 L437.88,311.12 L438.22,310.01 L438.55,308.67 L438.89,307.09 L439.22,305.25 L439.55,303.12 L439.89,300.69 L440.22,297.97 L440.56,294.95 L440.89,291.65 L441.22,288.10 L441.56,284.34 L441.89,280.42 L442.22,276.41 L442.56,272.38 L442.89,268.41 L443.23,264.61 L443.56,261.05 L443.89,257.84 L444.23,255.05 L444.56,252.78 L444.89,251.09 L445.23,250.02 L445.56,249.60 L445.90,249.64 L446.23,249.77 L446.56,250.01 L446.90,250.34 L447.23,250.76 L447.57,251.28 L447.90,251.89 L448.23,252.59 L448.57,253.37 L448.90,254.23 L449.23,255.17 L449.57,256.19 L449.90,257.27 L450.24,258.42 L450.57,259.63 L450.90,260.90 L451.24,262.22 L451.57,263.58 L451.90,264.98 L452.24,266.42 L452.57,267.89 L452.91,269.38 L453.24,270.89 L453.57,272.42 L453.91,273.96 L454.24,275.50 L454.58,277.04 L454.91,278.57 L455.24,280.10 L455.58,281.62 L455.91,283.12 L456.24,284.59 L456.58,286.05 L456.91,287.47 L457.25,288.87 L457.58,290.24 L457.91,291.57 L458.25,292.86 L458.58,294.12 L458.91,295.33 L459.25,296.50 L459.58,297.64 L459.92,298.73 L460.25,299.77 L460.58,300.77 L460.92,301.73 L461.25,302.65 L461.59,303.52 L461.92,304.35 L462.25,305.13 L462.59,305.87 L462.92,306.58 L463.25,307.24 L463.59,307.87 L463.92,308.45 L464.26,309.01 L464.59,309.52 L464.92,310.00 L465.26,310.45 L465.59,310.87 L465.92,311.26 L466.26,311.63 L466.59,311.96 L466.93,312.27 L467.26,312.56 L467.59,312.82 L467.93,313.07 L468.26,313.29 L468.60,313.49 L468.93,313.68 L469.26,313.85 L469.60,314.01 L469.93,314.15 L470.26,314.28 L470.60,314.40 L470.93,314.51 L471.27,314.60 L471.60,314.69 L471.93,314.77 L472.27,314.84 L472.60,314.90 L472.93,314.96 L473.27,315.01 L473.60,315.06 L473.94,315.10 L474.27,315.13 L474.60,315.16 L474.94,315.19 L475.27,315.22 L475.61,315.24 L475.94,315.26 L476.27,315.28 L476.61,315.29 L476.94,315.31 L477.27,315.32 L477.61,315.33 L477.94,315.34 L478.28,315.35 L478.61,315.36 L478.94,315.36 L479.28,315.37 L479.61,315.37 L479.94,315.38 L480.28,315.38 L480.61,315.38 L480.95,315.38 L481.28,315.39 L481.61,315.39 L481.95,315.39 L482.28,315.39 L482.62,315.39 L482.95,315.39 L483.28,315.40 L483.62,315.40 L483.95,315.40 L484.28,315.40 L484.62,315.40 L484.95,315.40 L485.29,315.40 L485.62,315.40 L485.95,315.40 L486.29,315.40 L486.62,315.40 L486.95,315.40 L487.29,315.40 L487.62,315.40 L487.96,315.40 L488.29,315.40 L488.62,315.40 L488.96,315.40 L489.29,315.40 L489.63,315.40 L489.96,315.40 L490.29,315.40 L490.63,315.40 L490.96,315.40 L491.29,315.40 L491.63,315.40 L491.96,315.40 L492.30,315.40 L492.63,315.40 L492.96,315.40 L493.30,315.40 L493.63,315.40 L493.96,315.40 L494.30,315.40 L494.63,315.40 L494.97,315.40 L495.30,315.40" fill="none" stroke="#c03a30" stroke-width="0.9" opacity="1.0" stroke-linejoin="round"/>
<path d="M425.20,315.40 L425.53,315.40 L425.87,315.40 L426.20,315.40 L426.54,315.40 L426.87,315.40 L427.20,315.40 L427.54,315.40 L427.87,315.40 L428.20,315.40 L428.54,315.40 L428.87,315.40 L429.21,315.40 L429.54,315.40 L429.87,315.40 L430.21,315.40 L430.54,315.40 L430.87,315.40 L431.21,315.40 L431.54,315.40 L431.88,315.39 L432.21,315.39 L432.54,315.38 L432.88,315.37 L433.21,315.36 L433.55,315.33 L433.88,315.30 L434.21,315.25 L434.55,315.18 L434.88,315.09 L435.21,314.95 L435.55,314.77 L435.88,314.52 L436.22,314.18 L436.55,313.75 L436.88,313.18 L437.22,312.45 L437.55,311.52 L437.88,310.38 L438.22,308.97 L438.55,307.28 L438.89,305.26 L439.22,302.90 L439.55,300.18 L439.89,297.09 L440.22,293.64 L440.56,289.87 L440.89,285.81 L441.22,281.53 L441.56,277.11 L441.89,272.64 L442.22,268.23 L442.56,264.02 L442.89,260.11 L443.23,256.64 L443.56,253.72 L443.89,251.45 L444.23,249.92 L444.56,249.17 L444.89,249.12 L445.23,249.28 L445.56,249.57 L445.90,250.01 L446.23,250.58 L446.56,251.28 L446.90,252.12 L447.23,253.07 L447.57,254.15 L447.90,255.33 L448.23,256.62 L448.57,258.00 L448.90,259.47 L449.23,261.03 L449.57,262.65 L449.90,264.33 L450.24,266.07 L450.57,267.84 L450.90,269.66 L451.24,271.50 L451.57,273.35 L451.90,275.21 L452.24,277.08 L452.57,278.93 L452.91,280.77 L453.24,282.59 L453.57,284.38 L453.91,286.13 L454.24,287.85 L454.58,289.52 L454.91,291.14 L455.24,292.71 L455.58,294.22 L455.91,295.67 L456.24,297.07 L456.58,298.40 L456.91,299.67 L457.25,300.87 L457.58,302.01 L457.91,303.09 L458.25,304.11 L458.58,305.06 L458.91,305.96 L459.25,306.79 L459.58,307.57 L459.92,308.29 L460.25,308.96 L460.58,309.58 L460.92,310.15 L461.25,310.68 L461.59,311.16 L461.92,311.60 L462.25,312.00 L462.59,312.37 L462.92,312.70 L463.25,313.00 L463.59,313.28 L463.92,313.52 L464.26,313.74 L464.59,313.94 L464.92,314.12 L465.26,314.27 L465.59,314.42 L465.92,314.54 L466.26,314.65 L466.59,314.75 L466.93,314.83 L467.26,314.91 L467.59,314.98 L467.93,315.04 L468.26,315.09 L468.60,315.13 L468.93,315.17 L469.26,315.20 L469.60,315.23 L469.93,315.26 L470.26,315.28 L470.60,315.30 L470.93,315.31 L471.27,315.33 L471.60,315.34 L471.93,315.35 L472.27,315.36 L472.60,315.36 L472.93,315.37 L473.27,315.37 L473.60,315.38 L473.94,315.38 L474.27,315.39 L474.60,315.39 L474.94,315.39 L475.27,315.39 L475.61,315.39 L475.94,315.39 L476.27,315.40 L476.61,315.40 L476.94,315.40 L477.27,315.40 L477.61,315.40 L477.94,315.40 L478.28,315.40 L478.61,315.40 L478.94,315.40 L479.28,315.40 L479.61,315.40 L479.94,315.40 L480.28,315.40 L480.61,315.40 L480.95,315.40 L481.28,315.40 L481.61,315.40 L481.95,315.40 L482.28,315.40 L482.62,315.40 L482.95,315.40 L483.28,315.40 L483.62,315.40 L483.95,315.40 L484.28,315.40 L484.62,315.40 L484.95,315.40 L485.29,315.40 L485.62,315.40 L485.95,315.40 L486.29,315.40 L486.62,315.40 L486.95,315.40 L487.29,315.40 L487.62,315.40 L487.96,315.40 L488.29,315.40 L488.62,315.40 L488.96,315.40 L489.29,315.40 L489.63,315.40 L489.96,315.40 L490.29,315.40 L490.63,315.40 L490.96,315.40 L491.29,315.40 L491.63,315.40 L491.96,315.40 L492.30,315.40 L492.63,315.40 L492.96,315.40 L493.30,315.40 L493.63,315.40 L493.96,315.40 L494.30,315.40 L494.63,315.40 L494.97,315.40 L495.30,315.40" fill="none" stroke="#c03a30" stroke-width="0.9" opacity="1.0" stroke-linejoin="round"/>
<rect x="424.2" y="244.6" width="71.6" height="71.2" fill="none" stroke="#9a9a9a" stroke-width="0.9"/>
<line x1="424.2" y1="315.8" x2="495.8" y2="315.8" stroke="#8a6a66" stroke-width="1.0" />
<line x1="423.2" y1="256.46666666666664" x2="424.2" y2="256.46666666666664" stroke="#aaa" stroke-width="0.5" />
<line x1="423.2" y1="268.3333333333333" x2="424.2" y2="268.3333333333333" stroke="#aaa" stroke-width="0.5" />
<line x1="423.2" y1="280.2" x2="424.2" y2="280.2" stroke="#aaa" stroke-width="0.5" />
<line x1="423.2" y1="292.06666666666666" x2="424.2" y2="292.06666666666666" stroke="#aaa" stroke-width="0.5" />
<line x1="423.2" y1="303.93333333333334" x2="424.2" y2="303.93333333333334" stroke="#aaa" stroke-width="0.5" />
<text x="492.0" y="255.29999999999998" font-size="9.8" text-anchor="end" font-weight="normal" fill="#222" stroke="#222" stroke-width="0.1" >IL7R</text>
<rect x="435.2" y="314.2" width="2" height="1.4" fill="#333" stroke="none" stroke-width="1" />
<line x1="333.9" y1="124" x2="333.9" y2="221" stroke="#000" stroke-width="1.8" />
<polygon points="333.9,116.4 329.7,125.2 338.1,125.2" fill="#000"/>
<text x="329.5" y="169" font-size="9.7" text-anchor="middle" fill="#111" stroke="#111" stroke-width="0.25" transform="rotate(-90 329.5 169)" >Counts</text>
<line x1="385.4" y1="325.0" x2="447" y2="325.0" stroke="#000" stroke-width="1.8" />
<polygon points="455.6,325.0 445.6,320.8 445.6,329.2" fill="#000"/>
<text x="421" y="336.5" font-size="9.5" text-anchor="middle" font-weight="normal" fill="#111" stroke="#111" stroke-width="0.25" >Expression</text>
<rect x="460" y="328.6" width="9.4" height="3.0" fill="#4f8ad0" stroke="none" stroke-width="1" />
<rect x="460" y="339.4" width="9.4" height="3.0" fill="#3c9a40" stroke="none" stroke-width="1" />
<rect x="460" y="350.0" width="9.4" height="3.0" fill="#c42a2a" stroke="none" stroke-width="1" />
<rect x="460" y="360.5" width="9.4" height="5" fill="#c8c8c8" stroke="none" stroke-width="1" />
<text x="472.5" y="333.2" font-size="9.6" text-anchor="start" font-weight="normal" fill="#111" stroke="#111" stroke-width="0.25" >wt</text>
<text x="472.5" y="343.6" font-size="9.6" text-anchor="start" font-weight="normal" fill="#111" stroke="#111" stroke-width="0.25" >RIAM<tspan font-size="7.3" dy="-4.3">-/-</tspan></text>
<text x="472.5" y="354.2" font-size="9.6" text-anchor="start" font-weight="normal" fill="#111" stroke="#111" stroke-width="0.25" >Talin-1<tspan font-size="7.3" dy="-4.3">-/-</tspan></text>
<text x="472.5" y="365.0" font-size="9.6" text-anchor="start" font-weight="normal" fill="#111" stroke="#111" stroke-width="0.25" >isotype ctrl</text>
<line x1="70" y1="400.3" x2="70" y2="505.65" stroke="#111" stroke-width="1.9" />
<line x1="67" y1="504.7" x2="70" y2="504.7" stroke="#111" stroke-width="1.2" />
<text x="64.2" y="508.09999999999997" font-size="9.6" text-anchor="end" font-weight="normal" fill="#1a1a1a" stroke="#1a1a1a" stroke-width="0.25" >0</text>
<line x1="67" y1="491.65" x2="70" y2="491.65" stroke="#111" stroke-width="1.2" />
<text x="64.2" y="495.04999999999995" font-size="9.6" text-anchor="end" font-weight="normal" fill="#1a1a1a" stroke="#1a1a1a" stroke-width="0.25" >20</text>
<line x1="67" y1="478.59999999999997" x2="70" y2="478.59999999999997" stroke="#111" stroke-width="1.2" />
<text x="64.2" y="481.99999999999994" font-size="9.6" text-anchor="end" font-weight="normal" fill="#1a1a1a" stroke="#1a1a1a" stroke-width="0.25" >40</text>
<line x1="67" y1="465.54999999999995" x2="70" y2="465.54999999999995" stroke="#111" stroke-width="1.2" />
<text x="64.2" y="468.94999999999993" font-size="9.6" text-anchor="end" font-weight="normal" fill="#1a1a1a" stroke="#1a1a1a" stroke-width="0.25" >60</text>
<line x1="67" y1="452.5" x2="70" y2="452.5" stroke="#111" stroke-width="1.2" />
<text x="64.2" y="455.9" font-size="9.6" text-anchor="end" font-weight="normal" fill="#1a1a1a" stroke="#1a1a1a" stroke-width="0.25" >80</text>
<line x1="67" y1="439.45" x2="70" y2="439.45" stroke="#111" stroke-width="1.2" />
<text x="64.2" y="442.84999999999997" font-size="9.6" text-anchor="end" font-weight="normal" fill="#1a1a1a" stroke="#1a1a1a" stroke-width="0.25" >100</text>
<line x1="67" y1="426.4" x2="70" y2="426.4" stroke="#111" stroke-width="1.2" />
<text x="64.2" y="429.79999999999995" font-size="9.6" text-anchor="end" font-weight="normal" fill="#1a1a1a" stroke="#1a1a1a" stroke-width="0.25" >120</text>
<line x1="67" y1="413.34999999999997" x2="70" y2="413.34999999999997" stroke="#111" stroke-width="1.2" />
<text x="64.2" y="416.74999999999994" font-size="9.6" text-anchor="end" font-weight="normal" fill="#1a1a1a" stroke="#1a1a1a" stroke-width="0.25" >140</text>
<line x1="67" y1="400.29999999999995" x2="70" y2="400.29999999999995" stroke="#111" stroke-width="1.2" />
<text x="64.2" y="403.69999999999993" font-size="9.6" text-anchor="end" font-weight="normal" fill="#1a1a1a" stroke="#1a1a1a" stroke-width="0.25" >160</text>
<line x1="69" y1="504.5" x2="237.5" y2="504.5" stroke="#111" stroke-width="1.9" />
<line x1="82.3" y1="439.45" x2="82.3" y2="415.69899999999996" stroke="#111" stroke-width="1.15" />
<line x1="80.5" y1="415.69899999999996" x2="84.1" y2="415.69899999999996" stroke="#111" stroke-width="1.4" />
<rect x="75.1" y="439.45" width="14.4" height="65.25" fill="#3a3a3a" stroke="#111" stroke-width="1.25" />
<line x1="96.7" y1="439.45" x2="96.7" y2="409.43499999999995" stroke="#111" stroke-width="1.15" />
<line x1="94.9" y1="409.43499999999995" x2="98.5" y2="409.43499999999995" stroke="#111" stroke-width="1.4" />
<rect x="89.5" y="439.45" width="14.4" height="65.25" fill="#8a8a8a" stroke="#111" stroke-width="1.25" />
<line x1="111.1" y1="430.9675" x2="111.1" y2="405.52" stroke="#111" stroke-width="1.15" />
<line x1="109.3" y1="405.52" x2="112.89999999999999" y2="405.52" stroke="#111" stroke-width="1.4" />
<rect x="103.89999999999999" y="430.9675" width="14.4" height="73.73250000000002" fill="#ececec" stroke="#111" stroke-width="1.25" />
<line x1="137.7" y1="439.45" x2="137.7" y2="427.0525" stroke="#111" stroke-width="1.15" />
<line x1="135.89999999999998" y1="427.0525" x2="139.5" y2="427.0525" stroke="#111" stroke-width="1.4" />
<rect x="130.5" y="439.45" width="14.4" height="65.25" fill="#3a3a3a" stroke="#111" stroke-width="1.25" />
<line x1="152.1" y1="427.0525" x2="152.1" y2="414.655" stroke="#111" stroke-width="1.15" />
<line x1="150.29999999999998" y1="414.655" x2="153.9" y2="414.655" stroke="#111" stroke-width="1.4" />
<rect x="144.9" y="427.0525" width="14.4" height="77.64749999999998" fill="#8a8a8a" stroke="#111" stroke-width="1.25" />
<line x1="166.5" y1="440.10249999999996" x2="166.5" y2="429.01" stroke="#111" stroke-width="1.15" />
<line x1="164.7" y1="429.01" x2="168.3" y2="429.01" stroke="#111" stroke-width="1.4" />
<rect x="159.3" y="440.10249999999996" width="14.4" height="64.59750000000003" fill="#ececec" stroke="#111" stroke-width="1.25" />
<line x1="193.5" y1="439.45" x2="193.5" y2="421.8325" stroke="#111" stroke-width="1.15" />
<line x1="191.7" y1="421.8325" x2="195.3" y2="421.8325" stroke="#111" stroke-width="1.4" />
<rect x="186.3" y="439.45" width="14.4" height="65.25" fill="#3a3a3a" stroke="#111" stroke-width="1.25" />
<line x1="207.9" y1="479.2525" x2="207.9" y2="476.6425" stroke="#111" stroke-width="1.15" />
<line x1="206.1" y1="476.6425" x2="209.70000000000002" y2="476.6425" stroke="#111" stroke-width="1.4" />
<rect x="200.70000000000002" y="479.2525" width="14.4" height="25.44749999999999" fill="#8a8a8a" stroke="#111" stroke-width="1.25" />
<line x1="222.3" y1="474.685" x2="222.3" y2="460.98249999999996" stroke="#111" stroke-width="1.15" />
<line x1="220.5" y1="460.98249999999996" x2="224.10000000000002" y2="460.98249999999996" stroke="#111" stroke-width="1.4" />
<rect x="215.10000000000002" y="474.685" width="14.4" height="30.014999999999986" fill="#ececec" stroke="#111" stroke-width="1.25" />
<text x="97.6" y="516.6" font-size="9.9" text-anchor="middle" font-weight="normal" fill="#111" stroke="#111" stroke-width="0.25" >Thymus</text>
<text x="152.5" y="516.6" font-size="9.9" text-anchor="middle" font-weight="normal" fill="#111" stroke="#111" stroke-width="0.25" >Spleen</text>
<text x="208.3" y="516.6" font-size="9.9" text-anchor="middle" font-weight="normal" fill="#111" stroke="#111" stroke-width="0.25" >LN</text>
<text x="133" y="408" font-size="9.4" text-anchor="start" font-weight="normal" fill="#111" stroke="#111" stroke-width="0.25" ><tspan font-style="italic">p</tspan>&lt;.05</text>
<line x1="137.5" y1="410.2" x2="152.5" y2="410.2" stroke="#111" stroke-width="1.1" />
<text x="193" y="405" font-size="9.4" text-anchor="start" font-weight="normal" fill="#111" stroke="#111" stroke-width="0.25" ><tspan font-style="italic">p</tspan>&lt;.005</text>
<line x1="194.5" y1="406.5" x2="222" y2="406.5" stroke="#111" stroke-width="1.1" />
<text x="187.5" y="415" font-size="9.4" text-anchor="start" font-weight="normal" fill="#111" stroke="#111" stroke-width="0.25" ><tspan font-style="italic">p</tspan>&lt;.001</text>
<line x1="192.5" y1="417" x2="208" y2="417" stroke="#111" stroke-width="1.1" />
<rect x="231.2" y="413.5" width="8.6" height="8.6" fill="#3a3a3a" stroke="#111" stroke-width="0.9" />
<rect x="231.2" y="425.4" width="8.6" height="8.6" fill="#8a8a8a" stroke="#111" stroke-width="0.9" />
<rect x="231.2" y="437" width="8.6" height="8.6" fill="#ececec" stroke="#111" stroke-width="0.9" />
<text x="247" y="422.3" font-size="9.6" text-anchor="start" font-weight="normal" fill="#111" stroke="#111" stroke-width="0.25" >wt</text>
<text x="245" y="433.5" font-size="9.6" text-anchor="start" font-weight="normal" fill="#111" stroke="#111" stroke-width="0.25" >RIAM<tspan font-size="7.3" dy="-4.3">-/-</tspan></text>
<text x="245" y="445" font-size="9.6" text-anchor="start" font-weight="normal" fill="#111" stroke="#111" stroke-width="0.25" >Talin-1<tspan font-size="7.3" dy="-4.3">-/-</tspan></text>
<text x="31" y="452.5" font-size="9.8" text-anchor="middle" fill="#111" stroke="#111" stroke-width="0.25" transform="rotate(-90 31 452.5)" >Cell number in</text>
<text x="42.5" y="452.5" font-size="9.8" text-anchor="middle" fill="#111" stroke="#111" stroke-width="0.25" transform="rotate(-90 42.5 452.5)" >% of control</text>
<line x1="69.5" y1="561.2" x2="69.5" y2="667.25" stroke="#111" stroke-width="1.9" />
<line x1="66.5" y1="666.3" x2="69.5" y2="666.3" stroke="#111" stroke-width="1.2" />
<text x="64" y="669.6999999999999" font-size="9.4" text-anchor="end" font-weight="normal" fill="#1a1a1a" stroke="#1a1a1a" stroke-width="0.25" >0</text>
<line x1="66.5" y1="650.5" x2="69.5" y2="650.5" stroke="#111" stroke-width="1.2" />
<text x="64" y="653.9" font-size="9.4" text-anchor="end" font-weight="normal" fill="#1a1a1a" stroke="#1a1a1a" stroke-width="0.25" >0.5</text>
<line x1="66.5" y1="634.6999999999999" x2="69.5" y2="634.6999999999999" stroke="#111" stroke-width="1.2" />
<text x="64" y="638.0999999999999" font-size="9.4" text-anchor="end" font-weight="normal" fill="#1a1a1a" stroke="#1a1a1a" stroke-width="0.25" >1</text>
<line x1="66.5" y1="618.9" x2="69.5" y2="618.9" stroke="#111" stroke-width="1.2" />
<text x="64" y="622.3" font-size="9.4" text-anchor="end" font-weight="normal" fill="#1a1a1a" stroke="#1a1a1a" stroke-width="0.25" >1.5</text>
<line x1="66.5" y1="603.0999999999999" x2="69.5" y2="603.0999999999999" stroke="#111" stroke-width="1.2" />
<text x="64" y="606.4999999999999" font-size="9.4" text-anchor="end" font-weight="normal" fill="#1a1a1a" stroke="#1a1a1a" stroke-width="0.25" >2</text>
<line x1="66.5" y1="587.3" x2="69.5" y2="587.3" stroke="#111" stroke-width="1.2" />
<text x="64" y="590.6999999999999" font-size="9.4" text-anchor="end" font-weight="normal" fill="#1a1a1a" stroke="#1a1a1a" stroke-width="0.25" >2.5</text>
<line x1="66.5" y1="571.5" x2="69.5" y2="571.5" stroke="#111" stroke-width="1.2" />
<text x="64" y="574.9" font-size="9.4" text-anchor="end" font-weight="normal" fill="#1a1a1a" stroke="#1a1a1a" stroke-width="0.25" >3</text>
<line x1="68.5" y1="666.5" x2="214.6" y2="666.5" stroke="#111" stroke-width="1.9" />
<line x1="85.875" y1="634.6999999999999" x2="85.875" y2="633.12" stroke="#111" stroke-width="1.15" />
<line x1="84.075" y1="633.12" x2="87.675" y2="633.12" stroke="#111" stroke-width="1.4" />
<rect x="78.75" y="634.6999999999999" width="14.25" height="31.600000000000023" fill="#3a3a3a" stroke="#111" stroke-width="1.25" />
<line x1="100.125" y1="618.2679999999999" x2="100.125" y2="613.212" stroke="#111" stroke-width="1.15" />
<line x1="98.325" y1="613.212" x2="101.925" y2="613.212" stroke="#111" stroke-width="1.4" />
<rect x="93.0" y="618.2679999999999" width="14.25" height="48.03200000000004" fill="#6e6e6e" stroke="#111" stroke-width="1.25" />
<line x1="114.375" y1="602.468" x2="114.375" y2="582.56" stroke="#111" stroke-width="1.15" />
<line x1="112.575" y1="582.56" x2="116.175" y2="582.56" stroke="#111" stroke-width="1.4" />
<rect x="107.25" y="602.468" width="14.25" height="63.831999999999994" fill="#b2b2b2" stroke="#111" stroke-width="1.25" />
<line x1="128.625" y1="600.5719999999999" x2="128.625" y2="570.5519999999999" stroke="#111" stroke-width="1.15" />
<line x1="126.825" y1="570.5519999999999" x2="130.425" y2="570.5519999999999" stroke="#111" stroke-width="1.4" />
<rect x="121.5" y="600.5719999999999" width="14.25" height="65.72800000000007" fill="#eeeeee" stroke="#111" stroke-width="1.25" />
<line x1="155.725" y1="632.4879999999999" x2="155.725" y2="625.2199999999999" stroke="#111" stroke-width="1.15" />
<line x1="153.92499999999998" y1="625.2199999999999" x2="157.525" y2="625.2199999999999" stroke="#111" stroke-width="1.4" />
<rect x="148.6" y="632.4879999999999" width="14.25" height="33.81200000000001" fill="#3a3a3a" stroke="#111" stroke-width="1.25" />
<line x1="169.975" y1="649.5519999999999" x2="169.975" y2="644.8119999999999" stroke="#111" stroke-width="1.15" />
<line x1="168.17499999999998" y1="644.8119999999999" x2="171.775" y2="644.8119999999999" stroke="#111" stroke-width="1.4" />
<rect x="162.85" y="649.5519999999999" width="14.25" height="16.748000000000047" fill="#6e6e6e" stroke="#111" stroke-width="1.25" />
<line x1="184.225" y1="663.7719999999999" x2="184.225" y2="662.5079999999999" stroke="#111" stroke-width="1.15" />
<line x1="182.42499999999998" y1="662.5079999999999" x2="186.025" y2="662.5079999999999" stroke="#111" stroke-width="1.4" />
<rect x="177.1" y="663.7719999999999" width="14.25" height="2.52800000000002" fill="#b2b2b2" stroke="#111" stroke-width="1.25" />
<line x1="198.475" y1="660.928" x2="198.475" y2="658.716" stroke="#111" stroke-width="1.15" />
<line x1="196.67499999999998" y1="658.716" x2="200.275" y2="658.716" stroke="#111" stroke-width="1.4" />
<rect x="191.35" y="660.928" width="14.25" height="5.371999999999957" fill="#eeeeee" stroke="#111" stroke-width="1.25" />
<text x="108" y="678.6" font-size="9.4" text-anchor="middle" font-weight="normal" fill="#111" stroke="#111" stroke-width="0.25" >Spleen</text>
<text x="176" y="677.6" font-size="9.4" text-anchor="middle" font-weight="normal" fill="#111" stroke="#111" stroke-width="0.25" >LN</text>
<text x="92.8" y="550.1" font-size="9" text-anchor="start" font-weight="normal" fill="#111" stroke="#111" stroke-width="0.25" ><tspan font-style="italic">p</tspan>&lt;.001</text>
<line x1="84.4" y1="553.4" x2="128.2" y2="553.4" stroke="#111" stroke-width="1.6" />
<line x1="84.4" y1="556.9" x2="114" y2="556.9" stroke="#111" stroke-width="1.6" />
<line x1="84.4" y1="560.3" x2="99.9" y2="560.3" stroke="#111" stroke-width="1.6" />
<text x="94.5" y="571.3" font-size="9" text-anchor="start" font-weight="normal" fill="#111" stroke="#111" stroke-width="0.25" ><tspan font-style="italic">p</tspan>&lt;.05</text>
<line x1="99" y1="573.6" x2="114" y2="573.6" stroke="#111" stroke-width="1.3" />
<text x="163.8" y="585.9" font-size="9" text-anchor="start" font-weight="normal" fill="#111" stroke="#111" stroke-width="0.25" >p&lt;.001</text>
<line x1="155.4" y1="588.7" x2="199.4" y2="588.7" stroke="#111" stroke-width="1.6" />
<line x1="155.4" y1="592.2" x2="185" y2="592.2" stroke="#111" stroke-width="1.6" />
<line x1="155.4" y1="596" x2="170.6" y2="596" stroke="#111" stroke-width="1.6" />
<line x1="170.2" y1="600" x2="199.4" y2="600" stroke="#111" stroke-width="1.6" />
<line x1="170.2" y1="603.6" x2="185" y2="603.6" stroke="#111" stroke-width="1.6" />
<line x1="184.6" y1="607.4" x2="199.4" y2="607.4" stroke="#111" stroke-width="1.6" />
<rect x="203.6" y="539" width="9.2" height="9" fill="#3a3a3a" stroke="#111" stroke-width="1.0" />
<text x="214.8" y="547.2" font-size="9.7" text-anchor="start" font-weight="normal" fill="#111" stroke="#111" stroke-width="0.25" >wt : wt</text>
<rect x="203.6" y="550.2" width="9.2" height="9" fill="#6e6e6e" stroke="#111" stroke-width="1.0" />
<text x="214.8" y="558.4000000000001" font-size="9.7" text-anchor="start" font-weight="normal" fill="#111" stroke="#111" stroke-width="0.25" >wt : RIAM<tspan font-size="7" dy="-4">-/-</tspan></text>
<rect x="203.6" y="561.9" width="9.2" height="9" fill="#b2b2b2" stroke="#111" stroke-width="1.0" />
<text x="214.8" y="570.1" font-size="9.7" text-anchor="start" font-weight="normal" fill="#111" stroke="#111" stroke-width="0.25" >wt : Talin-1<tspan font-size="7" dy="-4">-/-</tspan></text>
<rect x="203.6" y="573.4" width="9.2" height="9" fill="#eeeeee" stroke="#111" stroke-width="1.0" />
<text x="214.8" y="581.6" font-size="9.7" text-anchor="start" font-weight="normal" fill="#111" stroke="#111" stroke-width="0.25" >wt : &#946;2 integrin<tspan font-size="7" dy="-4">-/-</tspan></text>
<text x="41" y="613" font-size="9.4" text-anchor="middle" fill="#111" stroke="#111" stroke-width="0.25" transform="rotate(-90 41 613)" >Ratio of CD4<tspan font-size="6" dy="-3.5">+</tspan><tspan dy="3.5"> T cells</tspan></text>
<line x1="361.3" y1="396.3" x2="361.3" y2="505.34999999999997" stroke="#111" stroke-width="1.9" />
<line x1="358.3" y1="504.4" x2="361.3" y2="504.4" stroke="#111" stroke-width="1.2" />
<text x="356.6" y="507.79999999999995" font-size="9.6" text-anchor="end" font-weight="normal" fill="#1a1a1a" stroke="#1a1a1a" stroke-width="0.25" >0</text>
<line x1="358.3" y1="485.7" x2="361.3" y2="485.7" stroke="#111" stroke-width="1.2" />
<text x="356.6" y="489.09999999999997" font-size="9.6" text-anchor="end" font-weight="normal" fill="#1a1a1a" stroke="#1a1a1a" stroke-width="0.25" >0.2</text>
<line x1="358.3" y1="467.0" x2="361.3" y2="467.0" stroke="#111" stroke-width="1.2" />
<text x="356.6" y="470.4" font-size="9.6" text-anchor="end" font-weight="normal" fill="#1a1a1a" stroke="#1a1a1a" stroke-width="0.25" >0.4</text>
<line x1="358.3" y1="448.29999999999995" x2="361.3" y2="448.29999999999995" stroke="#111" stroke-width="1.2" />
<text x="356.6" y="451.69999999999993" font-size="9.6" text-anchor="end" font-weight="normal" fill="#1a1a1a" stroke="#1a1a1a" stroke-width="0.25" >0.6</text>
<line x1="358.3" y1="429.59999999999997" x2="361.3" y2="429.59999999999997" stroke="#111" stroke-width="1.2" />
<text x="356.6" y="432.99999999999994" font-size="9.6" text-anchor="end" font-weight="normal" fill="#1a1a1a" stroke="#1a1a1a" stroke-width="0.25" >0.8</text>
<line x1="358.3" y1="410.9" x2="361.3" y2="410.9" stroke="#111" stroke-width="1.2" />
<text x="356.6" y="414.29999999999995" font-size="9.6" text-anchor="end" font-weight="normal" fill="#1a1a1a" stroke="#1a1a1a" stroke-width="0.25" >1.0</text>
<line x1="360.3" y1="504.7" x2="514.6" y2="504.7" stroke="#111" stroke-width="1.9" />
<line x1="371.90000000000003" y1="483.83" x2="371.90000000000003" y2="480.09" stroke="#111" stroke-width="1.15" />
<line x1="370.1" y1="480.09" x2="373.70000000000005" y2="480.09" stroke="#111" stroke-width="1.4" />
<rect x="364.3" y="483.83" width="15.2" height="20.569999999999993" fill="#4a4a4a" stroke="#111" stroke-width="1.25" />
<rect x="379.5" y="410.9" width="15.2" height="93.5" fill="#9c9c9c" stroke="#111" stroke-width="1.25" />
<line x1="419.90000000000003" y1="485.7" x2="419.90000000000003" y2="480.09" stroke="#111" stroke-width="1.15" />
<line x1="418.1" y1="480.09" x2="421.70000000000005" y2="480.09" stroke="#111" stroke-width="1.4" />
<rect x="412.3" y="485.7" width="15.2" height="18.69999999999999" fill="#4a4a4a" stroke="#111" stroke-width="1.25" />
<line x1="435.1" y1="438.015" x2="435.1" y2="416.51" stroke="#111" stroke-width="1.15" />
<line x1="433.3" y1="416.51" x2="436.90000000000003" y2="416.51" stroke="#111" stroke-width="1.4" />
<rect x="427.5" y="438.015" width="15.2" height="66.38499999999999" fill="#9c9c9c" stroke="#111" stroke-width="1.25" />
<line x1="468.90000000000003" y1="495.04999999999995" x2="468.90000000000003" y2="492.7125" stroke="#111" stroke-width="1.15" />
<line x1="467.1" y1="492.7125" x2="470.70000000000005" y2="492.7125" stroke="#111" stroke-width="1.4" />
<rect x="461.3" y="495.04999999999995" width="15.2" height="9.350000000000023" fill="#4a4a4a" stroke="#111" stroke-width="1.25" />
<line x1="484.1" y1="496.91999999999996" x2="484.1" y2="494.11499999999995" stroke="#111" stroke-width="1.15" />
<line x1="482.3" y1="494.11499999999995" x2="485.90000000000003" y2="494.11499999999995" stroke="#111" stroke-width="1.4" />
<rect x="476.5" y="496.91999999999996" width="15.2" height="7.480000000000018" fill="#9c9c9c" stroke="#111" stroke-width="1.25" />
<rect x="487" y="407.8" width="8.8" height="8.8" fill="#4a4a4a" stroke="#111" stroke-width="0.9" />
<rect x="487" y="422.1" width="8.8" height="8.8" fill="#9c9c9c" stroke="#111" stroke-width="0.9" />
<text x="497.7" y="415.6" font-size="9.4" text-anchor="start" font-weight="normal" fill="#111" stroke="#111" stroke-width="0.25" >rest.</text>
<text x="497.7" y="429.8" font-size="9.4" text-anchor="start" font-weight="normal" fill="#111" stroke="#111" stroke-width="0.25" >PMA</text>
<text x="336.6" y="450.85" font-size="9.6" text-anchor="middle" fill="#111" stroke="#111" stroke-width="0.25" transform="rotate(-90 336.6 450.85)" >Rel.adhesion to VCAM-1</text>
<text x="380.2" y="518.4" font-size="9.4" text-anchor="middle" font-weight="normal" fill="#111" stroke="#111" stroke-width="0.25" >wt</text>
<text x="412.8" y="518.4" font-size="9.4" text-anchor="start" font-weight="normal" fill="#111" stroke="#111" stroke-width="0.25" >RIAM<tspan font-size="7.3" dy="-4.3">-/-</tspan></text>
<text x="460.8" y="518.4" font-size="9.4" text-anchor="start" font-weight="normal" fill="#111" stroke="#111" stroke-width="0.25" >Talin-1<tspan font-size="7.3" dy="-4.3">-/-</tspan></text>
<line x1="386.7" y1="387.7" x2="484.5" y2="387.7" stroke="#111" stroke-width="1.4" />
<text x="421.7" y="384.4" font-size="9.4" text-anchor="start" font-weight="normal" fill="#111" stroke="#111" stroke-width="0.25" ><tspan font-style="italic">p</tspan>&lt;.001</text>
<line x1="386.7" y1="401.1" x2="435.2" y2="401.1" stroke="#111" stroke-width="1.4" />
<text x="402.9" y="398.7" font-size="9.4" text-anchor="start" font-weight="normal" fill="#111" stroke="#111" stroke-width="0.25" >n.s.</text>
<line x1="360.3" y1="561" x2="360.3" y2="667.35" stroke="#111" stroke-width="1.9" />
<line x1="357.3" y1="666.4" x2="360.3" y2="666.4" stroke="#111" stroke-width="1.2" />
<text x="356.6" y="669.8" font-size="9.6" text-anchor="end" font-weight="normal" fill="#1a1a1a" stroke="#1a1a1a" stroke-width="0.25" >0</text>
<line x1="357.3" y1="647.5" x2="360.3" y2="647.5" stroke="#111" stroke-width="1.2" />
<text x="356.6" y="650.9" font-size="9.6" text-anchor="end" font-weight="normal" fill="#1a1a1a" stroke="#1a1a1a" stroke-width="0.25" >0.2</text>
<line x1="357.3" y1="628.6" x2="360.3" y2="628.6" stroke="#111" stroke-width="1.2" />
<text x="356.6" y="632.0" font-size="9.6" text-anchor="end" font-weight="normal" fill="#1a1a1a" stroke="#1a1a1a" stroke-width="0.25" >0.4</text>
<line x1="357.3" y1="609.6999999999999" x2="360.3" y2="609.6999999999999" stroke="#111" stroke-width="1.2" />
<text x="356.6" y="613.0999999999999" font-size="9.6" text-anchor="end" font-weight="normal" fill="#1a1a1a" stroke="#1a1a1a" stroke-width="0.25" >0.6</text>
<line x1="357.3" y1="590.8" x2="360.3" y2="590.8" stroke="#111" stroke-width="1.2" />
<text x="356.6" y="594.1999999999999" font-size="9.6" text-anchor="end" font-weight="normal" fill="#1a1a1a" stroke="#1a1a1a" stroke-width="0.25" >0.8</text>
<line x1="357.3" y1="571.9" x2="360.3" y2="571.9" stroke="#111" stroke-width="1.2" />
<text x="356.6" y="575.3" font-size="9.6" text-anchor="end" font-weight="normal" fill="#1a1a1a" stroke="#1a1a1a" stroke-width="0.25" >1.0</text>
<line x1="359.3" y1="666.6999999999999" x2="505.2" y2="666.6999999999999" stroke="#111" stroke-width="1.9" />
<line x1="371.90000000000003" y1="642.775" x2="371.90000000000003" y2="627.655" stroke="#111" stroke-width="1.15" />
<line x1="370.1" y1="627.655" x2="373.70000000000005" y2="627.655" stroke="#111" stroke-width="1.4" />
<rect x="364.3" y="642.775" width="15.2" height="23.625" fill="#4a4a4a" stroke="#111" stroke-width="1.25" />
<line x1="387.1" y1="571.9" x2="387.1" y2="570.9549999999999" stroke="#111" stroke-width="1.15" />
<line x1="385.3" y1="570.9549999999999" x2="388.90000000000003" y2="570.9549999999999" stroke="#111" stroke-width="1.4" />
<rect x="379.5" y="571.9" width="15.2" height="94.5" fill="#9c9c9c" stroke="#111" stroke-width="1.25" />
<line x1="419.90000000000003" y1="659.785" x2="419.90000000000003" y2="655.06" stroke="#111" stroke-width="1.15" />
<line x1="418.1" y1="655.06" x2="421.70000000000005" y2="655.06" stroke="#111" stroke-width="1.4" />
<rect x="412.3" y="659.785" width="15.2" height="6.615000000000009" fill="#4a4a4a" stroke="#111" stroke-width="1.25" />
<line x1="435.1" y1="652.225" x2="435.1" y2="638.995" stroke="#111" stroke-width="1.15" />
<line x1="433.3" y1="638.995" x2="436.90000000000003" y2="638.995" stroke="#111" stroke-width="1.4" />
<rect x="427.5" y="652.225" width="15.2" height="14.174999999999955" fill="#9c9c9c" stroke="#111" stroke-width="1.25" />
<line x1="468.90000000000003" y1="657.895" x2="468.90000000000003" y2="653.17" stroke="#111" stroke-width="1.15" />
<line x1="467.1" y1="653.17" x2="470.70000000000005" y2="653.17" stroke="#111" stroke-width="1.4" />
<rect x="461.3" y="657.895" width="15.2" height="8.504999999999995" fill="#4a4a4a" stroke="#111" stroke-width="1.25" />
<line x1="484.1" y1="657.895" x2="484.1" y2="652.225" stroke="#111" stroke-width="1.15" />
<line x1="482.3" y1="652.225" x2="485.90000000000003" y2="652.225" stroke="#111" stroke-width="1.4" />
<rect x="476.5" y="657.895" width="15.2" height="8.504999999999995" fill="#9c9c9c" stroke="#111" stroke-width="1.25" />
<rect x="487" y="569.8" width="8.8" height="8.8" fill="#4a4a4a" stroke="#111" stroke-width="0.9" />
<rect x="487" y="584.0999999999999" width="8.8" height="8.8" fill="#9c9c9c" stroke="#111" stroke-width="0.9" />
<text x="497.7" y="577.5999999999999" font-size="9.4" text-anchor="start" font-weight="normal" fill="#111" stroke="#111" stroke-width="0.25" >rest.</text>
<text x="497.7" y="591.8" font-size="9.4" text-anchor="start" font-weight="normal" fill="#111" stroke="#111" stroke-width="0.25" >PMA</text>
<text x="336.6" y="614.2" font-size="9.6" text-anchor="middle" fill="#111" stroke="#111" stroke-width="0.25" transform="rotate(-90 336.6 614.2)" >Rel.adhesion to ICAM-1</text>
<text x="380.2" y="678.2" font-size="9.4" text-anchor="middle" font-weight="normal" fill="#111" stroke="#111" stroke-width="0.25" >wt</text>
<text x="412.8" y="678.2" font-size="9.4" text-anchor="start" font-weight="normal" fill="#111" stroke="#111" stroke-width="0.25" >RIAM<tspan font-size="7.3" dy="-4.3">-/-</tspan></text>
<text x="460.8" y="678.2" font-size="9.4" text-anchor="start" font-weight="normal" fill="#111" stroke="#111" stroke-width="0.25" >Talin-1<tspan font-size="7.3" dy="-4.3">-/-</tspan></text>
<line x1="386.7" y1="561" x2="435.2" y2="561" stroke="#111" stroke-width="1.4" />
<text x="396.7" y="558.3" font-size="9.4" text-anchor="start" font-weight="normal" fill="#111" stroke="#111" stroke-width="0.25" ><tspan font-style="italic">p</tspan>&lt;.001</text>
<line x1="386.7" y1="565.5" x2="483.7" y2="565.5" stroke="#111" stroke-width="1.4" />
</svg>
</body></html>
